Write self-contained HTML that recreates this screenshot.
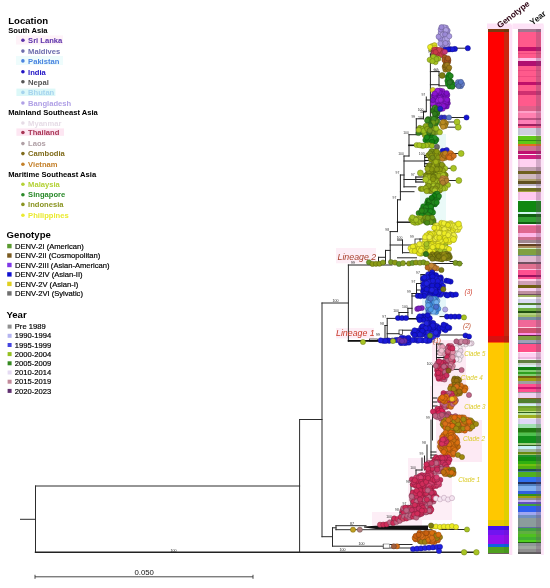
<!DOCTYPE html>
<html><head><meta charset="utf-8"><style>
html,body{margin:0;padding:0;background:#fff;}
svg{display:block;filter:blur(0.3px);}
text{font-family:"Liberation Sans",sans-serif;}
</style></head><body>
<svg width="550" height="588" viewBox="0 0 550 588">
<rect width="550" height="588" fill="#fff"/>
<rect x="487.0" y="23.5" width="24.5" height="5.5" fill="#fde2f6" />
<rect x="512.5" y="23.5" width="31.0" height="5.5" fill="#fde2f6" />
<rect x="509.1" y="25.0" width="3.2" height="530.0" fill="#fde0f6" />
<rect x="540.8" y="25.0" width="3.0" height="530.0" fill="#fde6f8" />
<rect x="432.0" y="340.0" width="34.0" height="46.0" fill="#fdeaf4" />
<rect x="430.0" y="386.0" width="40.0" height="34.0" fill="#fdeef6" />
<rect x="436.0" y="420.0" width="46.0" height="42.0" fill="#fdeaf4" />
<rect x="408.0" y="458.0" width="44.0" height="62.0" fill="#fdeef6" />
<rect x="372.0" y="512.0" width="50.0" height="18.0" fill="#fdeef6" />
<rect x="336.0" y="248.0" width="40.0" height="15.3" fill="#fdeef6" />
<rect x="336.0" y="328.0" width="38.0" height="10.4" fill="#fdeef6" />
<rect x="16.4" y="88.6" width="39.0" height="7.4" fill="#dcf8f8" />
<rect x="16.4" y="128.4" width="47.6" height="7.4" fill="#fde6f2" />
<rect x="16.0" y="56.0" width="47.0" height="9.0" fill="#eefcfc" />
<rect x="16.0" y="35.5" width="47.0" height="9.0" fill="#fef2f8" />
<rect x="428.0" y="134.0" width="18.0" height="16.0" fill="#e8f8f6" />
<rect x="420.0" y="188.0" width="26.0" height="32.0" fill="#eafaf8" />
<rect x="422.0" y="296.0" width="24.0" height="20.0" fill="#e4f6fa" />
<g font-family="Liberation Sans, sans-serif">
<text x="8.2" y="23.6" font-size="9.6" fill="#000" font-weight="bold" font-style="normal" text-anchor="start" >Location</text>
<text x="8.2" y="33.3" font-size="7.6" fill="#000" font-weight="bold" font-style="normal" text-anchor="start" >South Asia</text>
<circle cx="22.9" cy="40.2" r="1.8" fill="#5c32aa"/>
<text x="28.1" y="42.95" font-size="7.6" fill="#5c32aa" font-weight="bold" font-style="normal" text-anchor="start" >Sri Lanka</text>
<circle cx="22.9" cy="51.1" r="1.8" fill="#6c6cac"/>
<text x="28.1" y="53.85" font-size="7.6" fill="#6c6cac" font-weight="bold" font-style="normal" text-anchor="start" >Maldives</text>
<circle cx="22.9" cy="60.9" r="1.8" fill="#4a84e0"/>
<text x="28.1" y="63.65" font-size="7.6" fill="#4a84e0" font-weight="bold" font-style="normal" text-anchor="start" >Pakistan</text>
<circle cx="22.9" cy="71.8" r="1.8" fill="#2012c4"/>
<text x="28.1" y="74.55" font-size="7.6" fill="#2012c4" font-weight="bold" font-style="normal" text-anchor="start" >India</text>
<circle cx="22.9" cy="81.8" r="1.8" fill="#555555"/>
<text x="28.1" y="84.55" font-size="7.6" fill="#555555" font-weight="bold" font-style="normal" text-anchor="start" >Nepal</text>
<circle cx="22.9" cy="92.4" r="1.8" fill="#a6d4ee"/>
<text x="28.1" y="95.15" font-size="7.6" fill="#a6d4ee" font-weight="bold" font-style="normal" text-anchor="start" >Bhutan</text>
<circle cx="22.9" cy="103.0" r="1.8" fill="#b0a0e6"/>
<text x="28.1" y="105.75" font-size="7.6" fill="#b0a0e6" font-weight="bold" font-style="normal" text-anchor="start" >Bangladesh</text>
<text x="8.2" y="114.8" font-size="7.6" fill="#000" font-weight="bold" font-style="normal" text-anchor="start" >Mainland Southeast Asia</text>
<circle cx="22.9" cy="123.0" r="1.8" fill="#e6dce6"/>
<text x="28.1" y="125.75" font-size="7.6" fill="#e6dce6" font-weight="bold" font-style="normal" text-anchor="start" >Myanmar</text>
<circle cx="22.9" cy="132.5" r="1.8" fill="#a83454"/>
<text x="28.1" y="135.25" font-size="7.6" fill="#a83454" font-weight="bold" font-style="normal" text-anchor="start" >Thailand</text>
<circle cx="22.9" cy="143.6" r="1.8" fill="#b0a0a6"/>
<text x="28.1" y="146.35" font-size="7.6" fill="#b0a0a6" font-weight="bold" font-style="normal" text-anchor="start" >Laos</text>
<circle cx="22.9" cy="153.6" r="1.8" fill="#806c1c"/>
<text x="28.1" y="156.35" font-size="7.6" fill="#806c1c" font-weight="bold" font-style="normal" text-anchor="start" >Cambodia</text>
<circle cx="22.9" cy="164.3" r="1.8" fill="#c4802a"/>
<text x="28.1" y="167.05" font-size="7.6" fill="#c4802a" font-weight="bold" font-style="normal" text-anchor="start" >Vietnam</text>
<text x="8.2" y="176.6" font-size="7.6" fill="#000" font-weight="bold" font-style="normal" text-anchor="start" >Maritime Southeast Asia</text>
<circle cx="22.9" cy="184.3" r="1.8" fill="#b4d236"/>
<text x="28.1" y="187.05" font-size="7.6" fill="#b4d236" font-weight="bold" font-style="normal" text-anchor="start" >Malaysia</text>
<circle cx="22.9" cy="194.7" r="1.8" fill="#2a8a2a"/>
<text x="28.1" y="197.45" font-size="7.6" fill="#2a8a2a" font-weight="bold" font-style="normal" text-anchor="start" >Singapore</text>
<circle cx="22.9" cy="204.4" r="1.8" fill="#8a9422"/>
<text x="28.1" y="207.15" font-size="7.6" fill="#8a9422" font-weight="bold" font-style="normal" text-anchor="start" >Indonesia</text>
<circle cx="22.9" cy="215.3" r="1.8" fill="#eaea30"/>
<text x="28.1" y="218.05" font-size="7.6" fill="#eaea30" font-weight="bold" font-style="normal" text-anchor="start" >Philippines</text>
<text x="6.6" y="238" font-size="9.6" fill="#000" font-weight="bold" font-style="normal" text-anchor="start" >Genotype</text>
<rect x="7.2" y="243.9" width="4.4" height="4.4" fill="#5a9a30" />
<text x="15" y="248.79999999999998" font-size="7.6" fill="#000" font-weight="normal" font-style="normal" text-anchor="start" stroke="#000" stroke-width="0.18">DENV-2I (American)</text>
<rect x="7.2" y="253.3" width="4.4" height="4.4" fill="#7a5a20" />
<text x="15" y="258.25" font-size="7.6" fill="#000" font-weight="normal" font-style="normal" text-anchor="start" stroke="#000" stroke-width="0.18">DENV-2II (Cosmopolitan)</text>
<rect x="7.2" y="262.8" width="4.4" height="4.4" fill="#8038e8" />
<text x="15" y="267.7" font-size="7.6" fill="#000" font-weight="normal" font-style="normal" text-anchor="start" stroke="#000" stroke-width="0.18">DENV-2III (Asian-American)</text>
<rect x="7.2" y="272.2" width="4.4" height="4.4" fill="#1010d0" />
<text x="15" y="277.15" font-size="7.6" fill="#000" font-weight="normal" font-style="normal" text-anchor="start" stroke="#000" stroke-width="0.18">DENV-2IV (Asian-II)</text>
<rect x="7.2" y="281.7" width="4.4" height="4.4" fill="#e0d020" />
<text x="15" y="286.59999999999997" font-size="7.6" fill="#000" font-weight="normal" font-style="normal" text-anchor="start" stroke="#000" stroke-width="0.18">DENV-2V (Asian-I)</text>
<rect x="7.2" y="291.2" width="4.4" height="4.4" fill="#707070" />
<text x="15" y="296.05" font-size="7.6" fill="#000" font-weight="normal" font-style="normal" text-anchor="start" stroke="#000" stroke-width="0.18">DENV-2VI (Sylvatic)</text>
<text x="6.4" y="318" font-size="9.6" fill="#000" font-weight="bold" font-style="normal" text-anchor="start" >Year</text>
<rect x="7.6" y="324.6" width="4.0" height="4.0" fill="#909090" />
<text x="14.8" y="329.3" font-size="7.6" fill="#000" font-weight="normal" font-style="normal" text-anchor="start" stroke="#000" stroke-width="0.18">Pre 1989</text>
<rect x="7.6" y="333.8" width="4.0" height="4.0" fill="#b4b4f0" />
<text x="14.8" y="338.48" font-size="7.6" fill="#000" font-weight="normal" font-style="normal" text-anchor="start" stroke="#000" stroke-width="0.18">1990-1994</text>
<rect x="7.6" y="343.0" width="4.0" height="4.0" fill="#4444e0" />
<text x="14.8" y="347.66" font-size="7.6" fill="#000" font-weight="normal" font-style="normal" text-anchor="start" stroke="#000" stroke-width="0.18">1995-1999</text>
<rect x="7.6" y="352.1" width="4.0" height="4.0" fill="#94c020" />
<text x="14.8" y="356.84000000000003" font-size="7.6" fill="#000" font-weight="normal" font-style="normal" text-anchor="start" stroke="#000" stroke-width="0.18">2000-2004</text>
<rect x="7.6" y="361.3" width="4.0" height="4.0" fill="#348a20" />
<text x="14.8" y="366.02000000000004" font-size="7.6" fill="#000" font-weight="normal" font-style="normal" text-anchor="start" stroke="#000" stroke-width="0.18">2005-2009</text>
<rect x="7.6" y="370.5" width="4.0" height="4.0" fill="#e4daf2" />
<text x="14.8" y="375.2" font-size="7.6" fill="#000" font-weight="normal" font-style="normal" text-anchor="start" stroke="#000" stroke-width="0.18">2010-2014</text>
<rect x="7.6" y="379.7" width="4.0" height="4.0" fill="#c28a9a" />
<text x="14.8" y="384.38" font-size="7.6" fill="#000" font-weight="normal" font-style="normal" text-anchor="start" stroke="#000" stroke-width="0.18">2015-2019</text>
<rect x="7.6" y="388.9" width="4.0" height="4.0" fill="#603070" />
<text x="14.8" y="393.56" font-size="7.6" fill="#000" font-weight="normal" font-style="normal" text-anchor="start" stroke="#000" stroke-width="0.18">2020-2023</text>
</g>
<g stroke-linecap="square">
<line x1="20.5" y1="519.3" x2="35.5" y2="519.3" stroke="#2c2c2c" stroke-width="1.0"/>
<line x1="35.5" y1="486.0" x2="35.5" y2="552.3" stroke="#2c2c2c" stroke-width="1.0"/>
<line x1="35.5" y1="486.0" x2="299.6" y2="486.0" stroke="#2c2c2c" stroke-width="1.0"/>
<line x1="35.5" y1="552.3" x2="476.0" y2="552.3" stroke="#222" stroke-width="1.4"/>
<line x1="299.6" y1="419.5" x2="299.6" y2="552.3" stroke="#2c2c2c" stroke-width="1.0"/>
<line x1="299.6" y1="419.5" x2="322.0" y2="419.5" stroke="#2c2c2c" stroke-width="1.0"/>
<line x1="322.0" y1="303.0" x2="322.0" y2="536.7" stroke="#2c2c2c" stroke-width="1.0"/>
<line x1="322.0" y1="303.0" x2="348.4" y2="303.0" stroke="#2c2c2c" stroke-width="1.0"/>
<line x1="348.4" y1="265.0" x2="348.4" y2="341.3" stroke="#2c2c2c" stroke-width="1.0"/>
<line x1="348.4" y1="265.0" x2="392.0" y2="265.0" stroke="#222" stroke-width="1.1"/>
<line x1="348.4" y1="341.3" x2="382.0" y2="341.3" stroke="#222" stroke-width="1.1"/>
<line x1="322.0" y1="536.7" x2="332.5" y2="536.7" stroke="#2c2c2c" stroke-width="1.0"/>
<line x1="332.5" y1="527.8" x2="332.5" y2="546.2" stroke="#2c2c2c" stroke-width="1.0"/>
<line x1="332.5" y1="527.8" x2="336.0" y2="527.8" stroke="#2c2c2c" stroke-width="1.0"/>
<line x1="336.0" y1="525.7" x2="336.0" y2="529.7" stroke="#2c2c2c" stroke-width="1.0"/>
<line x1="336.0" y1="525.7" x2="366.0" y2="525.7" stroke="#2c2c2c" stroke-width="1.0"/>
<line x1="336.0" y1="529.7" x2="432.0" y2="529.7" stroke="#2c2c2c" stroke-width="1.0"/>
<polygon points="364,526.6 376,525.8 428,525.4 428,530 376,529 364,527.6" fill="#111"/>
<line x1="332.5" y1="546.2" x2="383.4" y2="546.2" stroke="#2c2c2c" stroke-width="1.0"/>
<line x1="383.4" y1="544.5" x2="383.4" y2="548.0" stroke="#2c2c2c" stroke-width="1.0"/>
<line x1="383.4" y1="544.5" x2="412.0" y2="544.5" stroke="#2c2c2c" stroke-width="1.0"/>
<line x1="383.4" y1="548.0" x2="412.0" y2="548.0" stroke="#2c2c2c" stroke-width="1.0"/>
<rect x="383.5" y="544" width="6" height="4" fill="#fff" stroke="#555" stroke-width="0.5"/>
<line x1="392.0" y1="263.5" x2="462.0" y2="263.5" stroke="#262626" stroke-width="1.0"/>
<line x1="390.2" y1="231.6" x2="390.2" y2="263.5" stroke="#262626" stroke-width="1.0"/>
<line x1="390.2" y1="231.6" x2="397.5" y2="231.6" stroke="#262626" stroke-width="1.0"/>
<line x1="397.5" y1="199.8" x2="397.5" y2="231.6" stroke="#262626" stroke-width="1.0"/>
<line x1="397.5" y1="199.8" x2="400.4" y2="199.8" stroke="#262626" stroke-width="1.0"/>
<line x1="397.5" y1="222.2" x2="416.0" y2="222.2" stroke="#111" stroke-width="1.4"/>
<line x1="390.2" y1="245.0" x2="412.0" y2="245.0" stroke="#262626" stroke-width="1.0"/>
<line x1="400.4" y1="175.0" x2="400.4" y2="199.8" stroke="#262626" stroke-width="1.0"/>
<line x1="400.4" y1="175.0" x2="404.0" y2="175.0" stroke="#262626" stroke-width="1.0"/>
<line x1="400.4" y1="191.7" x2="414.0" y2="191.7" stroke="#262626" stroke-width="1.0"/>
<line x1="404.0" y1="156.0" x2="404.0" y2="187.0" stroke="#262626" stroke-width="1.0"/>
<line x1="404.0" y1="156.0" x2="409.0" y2="156.0" stroke="#262626" stroke-width="1.0"/>
<line x1="404.0" y1="186.8" x2="416.0" y2="186.8" stroke="#262626" stroke-width="1.0"/>
<line x1="409.0" y1="134.7" x2="409.0" y2="156.0" stroke="#262626" stroke-width="1.0"/>
<line x1="409.0" y1="134.7" x2="416.3" y2="134.7" stroke="#262626" stroke-width="1.0"/>
<line x1="409.0" y1="145.3" x2="416.0" y2="145.3" stroke="#111" stroke-width="1.6"/>
<line x1="404.0" y1="161.0" x2="424.7" y2="161.0" stroke="#262626" stroke-width="1.0"/>
<line x1="416.3" y1="118.8" x2="416.3" y2="134.7" stroke="#262626" stroke-width="1.0"/>
<line x1="416.3" y1="118.8" x2="423.5" y2="118.8" stroke="#262626" stroke-width="1.0"/>
<line x1="416.3" y1="128.0" x2="420.0" y2="128.0" stroke="#262626" stroke-width="1.0"/>
<line x1="423.5" y1="111.6" x2="423.5" y2="118.8" stroke="#262626" stroke-width="1.0"/>
<line x1="423.5" y1="111.6" x2="426.3" y2="111.6" stroke="#262626" stroke-width="1.0"/>
<line x1="426.3" y1="97.0" x2="426.3" y2="111.6" stroke="#262626" stroke-width="1.0"/>
<line x1="385.5" y1="250.4" x2="385.5" y2="263.5" stroke="#262626" stroke-width="1.0"/>
<line x1="385.5" y1="250.4" x2="390.2" y2="250.4" stroke="#262626" stroke-width="1.0"/>
<line x1="378.5" y1="257.3" x2="378.5" y2="263.5" stroke="#262626" stroke-width="1.0"/>
<line x1="378.5" y1="257.3" x2="385.5" y2="257.3" stroke="#262626" stroke-width="1.0"/>
<line x1="402.5" y1="252.7" x2="410.0" y2="252.7" stroke="#262626" stroke-width="1.0"/>
<line x1="397.5" y1="257.8" x2="416.5" y2="257.8" stroke="#262626" stroke-width="1.0"/>
<line x1="402.5" y1="240.0" x2="402.5" y2="253.0" stroke="#262626" stroke-width="1.0"/>
<line x1="397.5" y1="240.0" x2="402.5" y2="240.0" stroke="#262626" stroke-width="1.0"/>
<rect x="415" y="239" width="5" height="5.5" fill="none" stroke="#262626" stroke-width="0.8"/>
<line x1="420.0" y1="239.0" x2="425.0" y2="239.0" stroke="#262626" stroke-width="1.0"/>
<line x1="420.0" y1="244.5" x2="428.0" y2="244.5" stroke="#262626" stroke-width="1.0"/>
<line x1="424.7" y1="155.5" x2="431.0" y2="155.5" stroke="#111" stroke-width="1.1"/>
<line x1="424.7" y1="157.4" x2="431.0" y2="157.4" stroke="#111" stroke-width="1.1"/>
<line x1="424.7" y1="160.5" x2="431.0" y2="160.5" stroke="#111" stroke-width="1.1"/>
<line x1="424.7" y1="163.7" x2="431.0" y2="163.7" stroke="#111" stroke-width="1.1"/>
<line x1="424.7" y1="166.5" x2="431.0" y2="166.5" stroke="#111" stroke-width="1.1"/>
<line x1="424.7" y1="155.5" x2="424.7" y2="166.5" stroke="#262626" stroke-width="1.0"/>
<line x1="415.8" y1="177.0" x2="423.5" y2="177.0" stroke="#111" stroke-width="1.1"/>
<line x1="415.8" y1="179.5" x2="423.5" y2="179.5" stroke="#111" stroke-width="1.1"/>
<line x1="415.8" y1="182.0" x2="423.5" y2="182.0" stroke="#111" stroke-width="1.1"/>
<line x1="415.8" y1="177.0" x2="415.8" y2="182.0" stroke="#262626" stroke-width="1.0"/>
<line x1="404.0" y1="179.5" x2="415.8" y2="179.5" stroke="#262626" stroke-width="1.0"/>
<line x1="430.4" y1="54.0" x2="430.4" y2="117.5" stroke="#262626" stroke-width="1.0"/>
<line x1="426.3" y1="100.0" x2="430.4" y2="100.0" stroke="#262626" stroke-width="1.0"/>
<line x1="430.4" y1="117.5" x2="466.5" y2="117.5" stroke="#262626" stroke-width="1.0"/>
<line x1="439.0" y1="71.6" x2="439.0" y2="85.8" stroke="#262626" stroke-width="1.0"/>
<line x1="430.4" y1="71.6" x2="439.0" y2="71.6" stroke="#262626" stroke-width="1.0"/>
<line x1="430.4" y1="84.7" x2="439.0" y2="84.7" stroke="#262626" stroke-width="1.0"/>
<line x1="439.0" y1="85.8" x2="456.0" y2="85.8" stroke="#262626" stroke-width="1.0"/>
<line x1="439.0" y1="75.4" x2="444.0" y2="75.4" stroke="#262626" stroke-width="1.0"/>
<line x1="430.4" y1="54.0" x2="434.0" y2="54.0" stroke="#262626" stroke-width="1.0"/>
<line x1="450.0" y1="48.2" x2="467.8" y2="48.2" stroke="#262626" stroke-width="1.0"/>
<line x1="448.0" y1="122.0" x2="457.0" y2="122.0" stroke="#262626" stroke-width="1.0"/>
<line x1="448.0" y1="127.2" x2="458.2" y2="127.2" stroke="#262626" stroke-width="1.0"/>
<line x1="450.0" y1="153.5" x2="461.1" y2="153.5" stroke="#262626" stroke-width="1.0"/>
<line x1="446.0" y1="168.3" x2="453.5" y2="168.3" stroke="#262626" stroke-width="1.0"/>
<line x1="446.0" y1="180.5" x2="458.8" y2="180.5" stroke="#262626" stroke-width="1.0"/>
<line x1="450.0" y1="224.0" x2="458.5" y2="224.0" stroke="#262626" stroke-width="1.0"/>
<line x1="450.0" y1="261.5" x2="459.8" y2="261.5" stroke="#262626" stroke-width="1.0"/>
<line x1="421.0" y1="274.5" x2="421.0" y2="283.5" stroke="#262626" stroke-width="1.0"/>
<line x1="421.0" y1="274.5" x2="425.0" y2="274.5" stroke="#262626" stroke-width="1.0"/>
<line x1="416.5" y1="283.5" x2="421.0" y2="283.5" stroke="#262626" stroke-width="1.0"/>
<line x1="416.5" y1="283.5" x2="416.5" y2="296.0" stroke="#262626" stroke-width="1.0"/>
<line x1="412.0" y1="296.0" x2="416.5" y2="296.0" stroke="#262626" stroke-width="1.0"/>
<line x1="416.5" y1="290.0" x2="423.0" y2="290.0" stroke="#262626" stroke-width="1.0"/>
<line x1="412.0" y1="293.5" x2="412.0" y2="313.6" stroke="#262626" stroke-width="1.0"/>
<line x1="412.0" y1="293.5" x2="420.0" y2="293.5" stroke="#262626" stroke-width="1.0"/>
<line x1="407.9" y1="308.3" x2="407.9" y2="317.8" stroke="#262626" stroke-width="1.0"/>
<line x1="407.9" y1="308.3" x2="412.0" y2="308.3" stroke="#262626" stroke-width="1.0"/>
<line x1="399.0" y1="312.5" x2="407.9" y2="312.5" stroke="#262626" stroke-width="1.0"/>
<line x1="399.0" y1="312.5" x2="399.0" y2="318.4" stroke="#262626" stroke-width="1.0"/>
<line x1="387.2" y1="318.4" x2="399.0" y2="318.4" stroke="#262626" stroke-width="1.0"/>
<line x1="399.0" y1="318.8" x2="430.0" y2="318.8" stroke="#111" stroke-width="1.6"/>
<line x1="387.2" y1="318.4" x2="387.2" y2="338.5" stroke="#262626" stroke-width="1.0"/>
<line x1="385.0" y1="325.5" x2="385.0" y2="340.2" stroke="#262626" stroke-width="1.0"/>
<line x1="385.0" y1="325.5" x2="387.2" y2="325.5" stroke="#262626" stroke-width="1.0"/>
<line x1="387.2" y1="333.7" x2="399.0" y2="333.7" stroke="#262626" stroke-width="1.0"/>
<rect x="399" y="330" width="3.5" height="4.3" fill="none" stroke="#262626" stroke-width="0.7"/>
<line x1="402.5" y1="330.2" x2="420.0" y2="330.2" stroke="#262626" stroke-width="1.0"/>
<line x1="440.0" y1="316.6" x2="464.0" y2="316.6" stroke="#262626" stroke-width="1.0"/>
<line x1="438.0" y1="335.0" x2="465.5" y2="335.0" stroke="#262626" stroke-width="1.0"/>
<rect x="369.5" y="339" width="8" height="2.4" fill="none" stroke="#262626" stroke-width="0.7"/>
<line x1="348.4" y1="340.6" x2="430.0" y2="340.6" stroke="#111" stroke-width="1.3"/>
<line x1="392.0" y1="519.0" x2="392.0" y2="525.0" stroke="#262626" stroke-width="1.0"/>
<line x1="392.0" y1="519.0" x2="400.0" y2="519.0" stroke="#262626" stroke-width="1.0"/>
<line x1="400.0" y1="512.0" x2="400.0" y2="519.0" stroke="#262626" stroke-width="1.0"/>
<line x1="400.0" y1="512.0" x2="407.5" y2="512.0" stroke="#262626" stroke-width="1.0"/>
<line x1="407.5" y1="505.6" x2="407.5" y2="512.0" stroke="#262626" stroke-width="1.0"/>
<rect x="406" y="505.6" width="4" height="6" fill="none" stroke="#262626" stroke-width="0.7"/>
<line x1="411.0" y1="484.0" x2="411.0" y2="505.0" stroke="#262626" stroke-width="1.0"/>
<line x1="411.0" y1="484.0" x2="416.0" y2="484.0" stroke="#262626" stroke-width="1.0"/>
<line x1="416.0" y1="470.0" x2="416.0" y2="484.0" stroke="#262626" stroke-width="1.0"/>
<line x1="416.0" y1="470.0" x2="422.0" y2="470.0" stroke="#262626" stroke-width="1.0"/>
<line x1="422.0" y1="458.0" x2="422.0" y2="470.0" stroke="#262626" stroke-width="1.0"/>
<line x1="424.5" y1="456.0" x2="424.5" y2="470.0" stroke="#262626" stroke-width="1.0"/>
<line x1="427.0" y1="445.0" x2="427.0" y2="465.0" stroke="#262626" stroke-width="1.0"/>
<line x1="431.0" y1="420.0" x2="431.0" y2="458.0" stroke="#262626" stroke-width="1.0"/>
<line x1="432.5" y1="366.0" x2="432.5" y2="440.0" stroke="#262626" stroke-width="1.0"/>
<line x1="436.5" y1="344.0" x2="436.5" y2="366.0" stroke="#262626" stroke-width="1.0"/>
<line x1="432.5" y1="366.0" x2="436.5" y2="366.0" stroke="#262626" stroke-width="1.0"/>
<line x1="436.5" y1="344.0" x2="442.9" y2="344.0" stroke="#1a1a1a" stroke-width="1.0"/>
<line x1="436.5" y1="347.5" x2="441.9" y2="347.5" stroke="#1a1a1a" stroke-width="1.0"/>
<line x1="436.5" y1="351.0" x2="444.9" y2="351.0" stroke="#1a1a1a" stroke-width="1.0"/>
<line x1="436.5" y1="354.0" x2="441.4" y2="354.0" stroke="#1a1a1a" stroke-width="1.0"/>
<line x1="436.5" y1="357.5" x2="444.2" y2="357.5" stroke="#1a1a1a" stroke-width="1.0"/>
<line x1="436.5" y1="361.0" x2="443.2" y2="361.0" stroke="#1a1a1a" stroke-width="1.0"/>
<line x1="436.5" y1="364.0" x2="441.3" y2="364.0" stroke="#1a1a1a" stroke-width="1.0"/>
<line x1="441.0" y1="344.0" x2="441.0" y2="352.0" stroke="#262626" stroke-width="1.0"/>
<line x1="444.0" y1="356.0" x2="444.0" y2="364.0" stroke="#262626" stroke-width="1.0"/>
<line x1="447.0" y1="369.4" x2="461.0" y2="369.4" stroke="#262626" stroke-width="1.0"/>
<line x1="432.7" y1="398.0" x2="437.0" y2="398.0" stroke="#1a1a1a" stroke-width="1.0"/>
<line x1="432.7" y1="402.0" x2="437.0" y2="402.0" stroke="#1a1a1a" stroke-width="1.0"/>
<line x1="432.7" y1="406.0" x2="437.0" y2="406.0" stroke="#1a1a1a" stroke-width="1.0"/>
<line x1="431.0" y1="452.0" x2="436.0" y2="452.0" stroke="#1a1a1a" stroke-width="1.0"/>
<line x1="431.0" y1="455.0" x2="436.0" y2="455.0" stroke="#1a1a1a" stroke-width="1.0"/>
<line x1="431.0" y1="458.0" x2="436.0" y2="458.0" stroke="#1a1a1a" stroke-width="1.0"/>
<line x1="440.0" y1="529.5" x2="467.0" y2="529.5" stroke="#262626" stroke-width="1.0"/>
</g>
<g>
<circle cx="446.8" cy="41.2" r="2.6" fill="#a390dc" stroke="#615684" stroke-width="0.45"/>
<circle cx="442.2" cy="45.2" r="2.6" fill="#9a88d6" stroke="#5c5180" stroke-width="0.45"/>
<circle cx="444.0" cy="40.2" r="2.6" fill="#b0a0e4" stroke="#696088" stroke-width="0.45"/>
<circle cx="444.1" cy="36.4" r="2.6" fill="#a898e0" stroke="#645b86" stroke-width="0.45"/>
<circle cx="443.7" cy="31.7" r="2.6" fill="#a390dc" stroke="#615684" stroke-width="0.45"/>
<circle cx="442.5" cy="43.3" r="2.6" fill="#9a88d6" stroke="#5c5180" stroke-width="0.45"/>
<circle cx="447.1" cy="33.8" r="2.6" fill="#b0a0e4" stroke="#696088" stroke-width="0.45"/>
<circle cx="440.7" cy="33.9" r="2.6" fill="#a898e0" stroke="#645b86" stroke-width="0.45"/>
<circle cx="445.9" cy="27.7" r="2.6" fill="#a390dc" stroke="#615684" stroke-width="0.45"/>
<circle cx="444.2" cy="44.6" r="2.6" fill="#9a88d6" stroke="#5c5180" stroke-width="0.45"/>
<circle cx="440.8" cy="32.6" r="2.6" fill="#b0a0e4" stroke="#696088" stroke-width="0.45"/>
<circle cx="447.7" cy="43.5" r="2.6" fill="#a898e0" stroke="#645b86" stroke-width="0.45"/>
<circle cx="446.2" cy="36.9" r="2.6" fill="#a390dc" stroke="#615684" stroke-width="0.45"/>
<circle cx="443.3" cy="39.0" r="2.6" fill="#9a88d6" stroke="#5c5180" stroke-width="0.45"/>
<circle cx="441.9" cy="40.4" r="2.6" fill="#b0a0e4" stroke="#696088" stroke-width="0.45"/>
<circle cx="442.3" cy="30.1" r="2.6" fill="#a898e0" stroke="#645b86" stroke-width="0.45"/>
<circle cx="445.9" cy="31.9" r="2.6" fill="#a390dc" stroke="#615684" stroke-width="0.45"/>
<circle cx="447.6" cy="30.6" r="2.6" fill="#9a88d6" stroke="#5c5180" stroke-width="0.45"/>
<circle cx="443.9" cy="27.2" r="2.6" fill="#b0a0e4" stroke="#696088" stroke-width="0.45"/>
<circle cx="441.4" cy="36.3" r="2.6" fill="#a898e0" stroke="#645b86" stroke-width="0.45"/>
<circle cx="440.7" cy="29.5" r="2.6" fill="#a390dc" stroke="#615684" stroke-width="0.45"/>
<circle cx="440.4" cy="38.7" r="2.6" fill="#9a88d6" stroke="#5c5180" stroke-width="0.45"/>
<circle cx="445.9" cy="30.1" r="2.6" fill="#b0a0e4" stroke="#696088" stroke-width="0.45"/>
<circle cx="440.4" cy="43.5" r="2.6" fill="#a898e0" stroke="#645b86" stroke-width="0.45"/>
<circle cx="438.6" cy="36.7" r="2.6" fill="#a390dc" stroke="#615684" stroke-width="0.45"/>
<circle cx="441.5" cy="27.2" r="2.6" fill="#9a88d6" stroke="#5c5180" stroke-width="0.45"/>
<circle cx="442.9" cy="34.5" r="2.6" fill="#b0a0e4" stroke="#696088" stroke-width="0.45"/>
<circle cx="444.9" cy="39.3" r="2.6" fill="#a898e0" stroke="#645b86" stroke-width="0.45"/>
<circle cx="446.8" cy="45.4" r="2.6" fill="#a390dc" stroke="#615684" stroke-width="0.45"/>
<circle cx="445.1" cy="34.4" r="2.6" fill="#9a88d6" stroke="#5c5180" stroke-width="0.45"/>
<circle cx="447.2" cy="38.6" r="2.6" fill="#b0a0e4" stroke="#696088" stroke-width="0.45"/>
<circle cx="449.3" cy="36.2" r="2.6" fill="#a898e0" stroke="#645b86" stroke-width="0.45"/>
<circle cx="445.4" cy="43.1" r="2.6" fill="#a390dc" stroke="#615684" stroke-width="0.45"/>
<circle cx="432.5" cy="47.7" r="2.6" fill="#ecec22" stroke="#8d8d14" stroke-width="0.45"/>
<circle cx="432.1" cy="46.0" r="2.6" fill="#d8d828" stroke="#818118" stroke-width="0.45"/>
<circle cx="431.3" cy="49.4" r="2.6" fill="#ecec22" stroke="#8d8d14" stroke-width="0.45"/>
<circle cx="434.5" cy="45.2" r="2.6" fill="#d8d828" stroke="#818118" stroke-width="0.45"/>
<circle cx="430.1" cy="47.0" r="2.6" fill="#ecec22" stroke="#8d8d14" stroke-width="0.45"/>
<circle cx="433.7" cy="49.7" r="2.6" fill="#d8d828" stroke="#818118" stroke-width="0.45"/>
<circle cx="434.8" cy="47.9" r="2.6" fill="#ecec22" stroke="#8d8d14" stroke-width="0.45"/>
<circle cx="454.9" cy="48.9" r="2.6" fill="#1414d4" stroke="#0c0c7f" stroke-width="0.45"/>
<circle cx="450.1" cy="49.2" r="2.6" fill="#1a1ad8" stroke="#0f0f81" stroke-width="0.45"/>
<circle cx="444.9" cy="49.8" r="2.6" fill="#1414d4" stroke="#0c0c7f" stroke-width="0.45"/>
<circle cx="452.3" cy="49.3" r="2.6" fill="#1a1ad8" stroke="#0f0f81" stroke-width="0.45"/>
<circle cx="448.2" cy="49.5" r="2.6" fill="#1414d4" stroke="#0c0c7f" stroke-width="0.45"/>
<circle cx="467.8" cy="48.2" r="2.6" fill="#1414d4" stroke="#0c0c7f" stroke-width="0.45"/>
<circle cx="441.5" cy="50.6" r="2.6" fill="#c83a4c" stroke="#78222d" stroke-width="0.45"/>
<circle cx="436.5" cy="49.7" r="2.6" fill="#d04050" stroke="#7c2630" stroke-width="0.45"/>
<circle cx="438.3" cy="51.8" r="2.6" fill="#c83848" stroke="#78212b" stroke-width="0.45"/>
<circle cx="441.5" cy="52.9" r="2.6" fill="#c83a4c" stroke="#78222d" stroke-width="0.45"/>
<circle cx="437.0" cy="54.2" r="2.6" fill="#d04050" stroke="#7c2630" stroke-width="0.45"/>
<circle cx="434.1" cy="54.0" r="2.6" fill="#c83848" stroke="#78212b" stroke-width="0.45"/>
<circle cx="440.2" cy="54.0" r="2.6" fill="#c83a4c" stroke="#78222d" stroke-width="0.45"/>
<circle cx="433.7" cy="51.8" r="2.6" fill="#d04050" stroke="#7c2630" stroke-width="0.45"/>
<circle cx="434.5" cy="49.5" r="2.6" fill="#c83848" stroke="#78212b" stroke-width="0.45"/>
<circle cx="441.5" cy="55.1" r="2.6" fill="#c83a4c" stroke="#78222d" stroke-width="0.45"/>
<circle cx="439.2" cy="49.9" r="2.6" fill="#d04050" stroke="#7c2630" stroke-width="0.45"/>
<circle cx="435.6" cy="52.1" r="2.6" fill="#c83848" stroke="#78212b" stroke-width="0.45"/>
<circle cx="443.4" cy="52.3" r="2.6" fill="#c83a4c" stroke="#78222d" stroke-width="0.45"/>
<circle cx="444.9" cy="51.8" r="2.6" fill="#c83878" stroke="#782148" stroke-width="0.45"/>
<circle cx="438.3" cy="58.7" r="2.6" fill="#a8c424" stroke="#647515" stroke-width="0.45"/>
<circle cx="434.4" cy="58.9" r="2.6" fill="#98b820" stroke="#5b6e13" stroke-width="0.45"/>
<circle cx="432.0" cy="59.7" r="2.6" fill="#a0c020" stroke="#607313" stroke-width="0.45"/>
<circle cx="435.5" cy="62.1" r="2.6" fill="#a8c424" stroke="#647515" stroke-width="0.45"/>
<circle cx="434.8" cy="57.5" r="2.6" fill="#98b820" stroke="#5b6e13" stroke-width="0.45"/>
<circle cx="433.2" cy="56.9" r="2.6" fill="#a0c020" stroke="#607313" stroke-width="0.45"/>
<circle cx="429.7" cy="59.8" r="2.6" fill="#a8c424" stroke="#647515" stroke-width="0.45"/>
<circle cx="436.5" cy="59.1" r="2.6" fill="#98b820" stroke="#5b6e13" stroke-width="0.45"/>
<circle cx="432.4" cy="61.2" r="2.6" fill="#a0c020" stroke="#607313" stroke-width="0.45"/>
<circle cx="445.9" cy="62.5" r="2.6" fill="#a85a20" stroke="#643613" stroke-width="0.45"/>
<circle cx="448.1" cy="62.1" r="2.6" fill="#b06020" stroke="#693913" stroke-width="0.45"/>
<circle cx="448.4" cy="60.2" r="2.6" fill="#a05020" stroke="#603013" stroke-width="0.45"/>
<circle cx="444.8" cy="57.4" r="2.6" fill="#a85a20" stroke="#643613" stroke-width="0.45"/>
<circle cx="444.5" cy="60.0" r="2.6" fill="#b06020" stroke="#693913" stroke-width="0.45"/>
<circle cx="446.7" cy="60.4" r="2.6" fill="#a05020" stroke="#603013" stroke-width="0.45"/>
<circle cx="447.9" cy="58.3" r="2.6" fill="#a85a20" stroke="#643613" stroke-width="0.45"/>
<circle cx="445.4" cy="69.6" r="2.6" fill="#9a7a18" stroke="#5c490e" stroke-width="0.45"/>
<circle cx="446.6" cy="67.5" r="2.6" fill="#8a6a10" stroke="#523f09" stroke-width="0.45"/>
<circle cx="444.7" cy="66.9" r="2.6" fill="#a07a20" stroke="#604913" stroke-width="0.45"/>
<circle cx="448.4" cy="69.2" r="2.6" fill="#9a7a18" stroke="#5c490e" stroke-width="0.45"/>
<circle cx="445.2" cy="65.6" r="2.6" fill="#8a6a10" stroke="#523f09" stroke-width="0.45"/>
<circle cx="447.1" cy="64.9" r="2.6" fill="#a07a20" stroke="#604913" stroke-width="0.45"/>
<circle cx="449.2" cy="67.6" r="2.6" fill="#9a7a18" stroke="#5c490e" stroke-width="0.45"/>
<circle cx="442.2" cy="75.4" r="3.0" fill="#7c7c14" stroke="#4a4a0c" stroke-width="0.45"/>
<circle cx="447.7" cy="76.8" r="2.6" fill="#22881e" stroke="#145112" stroke-width="0.45"/>
<circle cx="449.0" cy="74.7" r="2.6" fill="#1a8a1a" stroke="#0f520f" stroke-width="0.45"/>
<circle cx="448.4" cy="83.4" r="2.6" fill="#22881e" stroke="#145112" stroke-width="0.45"/>
<circle cx="449.9" cy="80.6" r="2.6" fill="#1a8a1a" stroke="#0f520f" stroke-width="0.45"/>
<circle cx="447.4" cy="80.8" r="2.6" fill="#22881e" stroke="#145112" stroke-width="0.45"/>
<circle cx="448.6" cy="78.2" r="2.6" fill="#1a8a1a" stroke="#0f520f" stroke-width="0.45"/>
<circle cx="450.7" cy="75.9" r="2.6" fill="#22881e" stroke="#145112" stroke-width="0.45"/>
<circle cx="451.5" cy="82.2" r="2.6" fill="#22881e" stroke="#145112" stroke-width="0.45"/>
<circle cx="448.0" cy="83.9" r="2.6" fill="#1a8a1a" stroke="#0f520f" stroke-width="0.45"/>
<circle cx="451.4" cy="84.1" r="2.6" fill="#2a7a2a" stroke="#194919" stroke-width="0.45"/>
<circle cx="449.8" cy="86.4" r="2.6" fill="#22881e" stroke="#145112" stroke-width="0.45"/>
<circle cx="453.5" cy="84.8" r="2.6" fill="#1a8a1a" stroke="#0f520f" stroke-width="0.45"/>
<circle cx="449.8" cy="82.4" r="2.6" fill="#2a7a2a" stroke="#194919" stroke-width="0.45"/>
<circle cx="452.3" cy="86.7" r="2.6" fill="#22881e" stroke="#145112" stroke-width="0.45"/>
<circle cx="460.9" cy="86.1" r="2.6" fill="#5a78c8" stroke="#364878" stroke-width="0.45"/>
<circle cx="458.0" cy="82.2" r="2.6" fill="#6a80c8" stroke="#3f4c78" stroke-width="0.45"/>
<circle cx="459.5" cy="84.1" r="2.6" fill="#5a70b0" stroke="#364369" stroke-width="0.45"/>
<circle cx="457.5" cy="84.5" r="2.6" fill="#5a78c8" stroke="#364878" stroke-width="0.45"/>
<circle cx="462.1" cy="84.0" r="2.6" fill="#6a80c8" stroke="#3f4c78" stroke-width="0.45"/>
<circle cx="458.6" cy="86.1" r="2.6" fill="#5a70b0" stroke="#364369" stroke-width="0.45"/>
<circle cx="460.9" cy="81.9" r="2.6" fill="#5a78c8" stroke="#364878" stroke-width="0.45"/>
<circle cx="432.8" cy="90.0" r="2.6" fill="#d8d020" stroke="#817c13" stroke-width="0.45"/>
<circle cx="446.4" cy="96.8" r="2.6" fill="#8a14d0" stroke="#520c7c" stroke-width="0.45"/>
<circle cx="443.3" cy="94.5" r="2.6" fill="#7a10c0" stroke="#490973" stroke-width="0.45"/>
<circle cx="443.4" cy="103.6" r="2.6" fill="#9a20d8" stroke="#5c1381" stroke-width="0.45"/>
<circle cx="438.6" cy="102.1" r="2.6" fill="#8010c8" stroke="#4c0978" stroke-width="0.45"/>
<circle cx="444.3" cy="102.2" r="2.6" fill="#8a14d0" stroke="#520c7c" stroke-width="0.45"/>
<circle cx="440.0" cy="94.9" r="2.6" fill="#7a10c0" stroke="#490973" stroke-width="0.45"/>
<circle cx="434.5" cy="102.1" r="2.6" fill="#9a20d8" stroke="#5c1381" stroke-width="0.45"/>
<circle cx="442.3" cy="93.6" r="2.6" fill="#8010c8" stroke="#4c0978" stroke-width="0.45"/>
<circle cx="443.6" cy="97.7" r="2.6" fill="#8a14d0" stroke="#520c7c" stroke-width="0.45"/>
<circle cx="436.1" cy="102.1" r="2.6" fill="#7a10c0" stroke="#490973" stroke-width="0.45"/>
<circle cx="442.4" cy="91.0" r="2.6" fill="#9a20d8" stroke="#5c1381" stroke-width="0.45"/>
<circle cx="440.8" cy="108.8" r="2.6" fill="#8010c8" stroke="#4c0978" stroke-width="0.45"/>
<circle cx="434.9" cy="103.4" r="2.6" fill="#8a14d0" stroke="#520c7c" stroke-width="0.45"/>
<circle cx="447.8" cy="103.2" r="2.6" fill="#7a10c0" stroke="#490973" stroke-width="0.45"/>
<circle cx="436.0" cy="99.2" r="2.6" fill="#9a20d8" stroke="#5c1381" stroke-width="0.45"/>
<circle cx="447.4" cy="100.1" r="2.6" fill="#8010c8" stroke="#4c0978" stroke-width="0.45"/>
<circle cx="443.8" cy="93.6" r="2.6" fill="#8a14d0" stroke="#520c7c" stroke-width="0.45"/>
<circle cx="441.2" cy="97.0" r="2.6" fill="#7a10c0" stroke="#490973" stroke-width="0.45"/>
<circle cx="436.1" cy="98.0" r="2.6" fill="#9a20d8" stroke="#5c1381" stroke-width="0.45"/>
<circle cx="437.3" cy="103.5" r="2.6" fill="#8010c8" stroke="#4c0978" stroke-width="0.45"/>
<circle cx="438.0" cy="94.9" r="2.6" fill="#8a14d0" stroke="#520c7c" stroke-width="0.45"/>
<circle cx="446.4" cy="101.2" r="2.6" fill="#7a10c0" stroke="#490973" stroke-width="0.45"/>
<circle cx="433.9" cy="105.4" r="2.6" fill="#9a20d8" stroke="#5c1381" stroke-width="0.45"/>
<circle cx="440.2" cy="103.6" r="2.6" fill="#8010c8" stroke="#4c0978" stroke-width="0.45"/>
<circle cx="437.1" cy="106.1" r="2.6" fill="#8a14d0" stroke="#520c7c" stroke-width="0.45"/>
<circle cx="442.4" cy="98.9" r="2.6" fill="#7a10c0" stroke="#490973" stroke-width="0.45"/>
<circle cx="433.0" cy="103.5" r="2.6" fill="#9a20d8" stroke="#5c1381" stroke-width="0.45"/>
<circle cx="445.6" cy="95.1" r="2.6" fill="#8010c8" stroke="#4c0978" stroke-width="0.45"/>
<circle cx="439.9" cy="90.5" r="2.6" fill="#8a14d0" stroke="#520c7c" stroke-width="0.45"/>
<circle cx="433.7" cy="95.6" r="2.6" fill="#7a10c0" stroke="#490973" stroke-width="0.45"/>
<circle cx="442.8" cy="108.6" r="2.6" fill="#9a20d8" stroke="#5c1381" stroke-width="0.45"/>
<circle cx="447.3" cy="94.9" r="2.6" fill="#8010c8" stroke="#4c0978" stroke-width="0.45"/>
<circle cx="439.7" cy="97.9" r="2.6" fill="#8a14d0" stroke="#520c7c" stroke-width="0.45"/>
<circle cx="441.7" cy="101.5" r="2.6" fill="#7a10c0" stroke="#490973" stroke-width="0.45"/>
<circle cx="437.5" cy="100.0" r="2.6" fill="#9a20d8" stroke="#5c1381" stroke-width="0.45"/>
<circle cx="439.5" cy="92.5" r="2.6" fill="#8010c8" stroke="#4c0978" stroke-width="0.45"/>
<circle cx="438.8" cy="106.0" r="2.6" fill="#8a14d0" stroke="#520c7c" stroke-width="0.45"/>
<circle cx="435.0" cy="95.1" r="2.6" fill="#7a10c0" stroke="#490973" stroke-width="0.45"/>
<circle cx="445.8" cy="99.4" r="2.6" fill="#9a20d8" stroke="#5c1381" stroke-width="0.45"/>
<circle cx="434.4" cy="97.3" r="2.6" fill="#8010c8" stroke="#4c0978" stroke-width="0.45"/>
<circle cx="437.8" cy="108.2" r="2.6" fill="#8a14d0" stroke="#520c7c" stroke-width="0.45"/>
<circle cx="436.2" cy="93.3" r="2.6" fill="#7a10c0" stroke="#490973" stroke-width="0.45"/>
<circle cx="437.4" cy="90.7" r="2.6" fill="#9a20d8" stroke="#5c1381" stroke-width="0.45"/>
<circle cx="446.7" cy="106.5" r="2.6" fill="#8010c8" stroke="#4c0978" stroke-width="0.45"/>
<circle cx="434.7" cy="93.5" r="2.6" fill="#8a14d0" stroke="#520c7c" stroke-width="0.45"/>
<circle cx="432.9" cy="100.0" r="2.6" fill="#7a10c0" stroke="#490973" stroke-width="0.45"/>
<circle cx="440.6" cy="99.8" r="2.6" fill="#9a20d8" stroke="#5c1381" stroke-width="0.45"/>
<circle cx="446.6" cy="93.0" r="2.6" fill="#8010c8" stroke="#4c0978" stroke-width="0.45"/>
<circle cx="445.5" cy="103.4" r="2.6" fill="#8a14d0" stroke="#520c7c" stroke-width="0.45"/>
<circle cx="444.7" cy="105.9" r="2.6" fill="#7a10c0" stroke="#490973" stroke-width="0.45"/>
<circle cx="442.4" cy="105.5" r="2.6" fill="#9a20d8" stroke="#5c1381" stroke-width="0.45"/>
<circle cx="447.0" cy="99.7" r="2.6" fill="#8a14d0" stroke="#520c7c" stroke-width="0.45"/>
<circle cx="443.4" cy="106.2" r="2.6" fill="#8a14d0" stroke="#520c7c" stroke-width="0.45"/>
<circle cx="433.7" cy="109.4" r="2.6" fill="#2e7a1a" stroke="#1b490f" stroke-width="0.45"/>
<circle cx="437.1" cy="114.0" r="2.6" fill="#3a8a20" stroke="#225213" stroke-width="0.45"/>
<circle cx="435.5" cy="115.6" r="2.6" fill="#2a7a1a" stroke="#19490f" stroke-width="0.45"/>
<circle cx="433.2" cy="111.0" r="2.6" fill="#2e7a1a" stroke="#1b490f" stroke-width="0.45"/>
<circle cx="436.2" cy="112.0" r="2.6" fill="#3a8a20" stroke="#225213" stroke-width="0.45"/>
<circle cx="437.5" cy="112.0" r="2.6" fill="#2a7a1a" stroke="#19490f" stroke-width="0.45"/>
<circle cx="434.7" cy="113.8" r="2.6" fill="#2e7a1a" stroke="#1b490f" stroke-width="0.45"/>
<circle cx="434.9" cy="107.6" r="2.6" fill="#3a8a20" stroke="#225213" stroke-width="0.45"/>
<circle cx="436.6" cy="109.1" r="2.6" fill="#2a7a1a" stroke="#19490f" stroke-width="0.45"/>
<circle cx="440.2" cy="108.8" r="2.6" fill="#2020c8" stroke="#131378" stroke-width="0.45"/>
<circle cx="441.5" cy="117.5" r="2.6" fill="#3030c0" stroke="#1c1c73" stroke-width="0.45"/>
<circle cx="444.5" cy="117.5" r="2.6" fill="#3030c0" stroke="#1c1c73" stroke-width="0.45"/>
<circle cx="449.0" cy="117.5" r="2.6" fill="#5a78c8" stroke="#364878" stroke-width="0.45"/>
<circle cx="466.5" cy="117.5" r="2.6" fill="#1414d4" stroke="#0c0c7f" stroke-width="0.45"/>
<circle cx="445.9" cy="123.4" r="2.6" fill="#b88a20" stroke="#6e5213" stroke-width="0.45"/>
<circle cx="441.9" cy="124.3" r="2.6" fill="#a88018" stroke="#644c0e" stroke-width="0.45"/>
<circle cx="444.7" cy="124.2" r="2.6" fill="#c09028" stroke="#735618" stroke-width="0.45"/>
<circle cx="444.5" cy="122.1" r="2.6" fill="#b88a20" stroke="#6e5213" stroke-width="0.45"/>
<circle cx="445.1" cy="126.1" r="2.6" fill="#a88018" stroke="#644c0e" stroke-width="0.45"/>
<circle cx="443.0" cy="126.8" r="2.6" fill="#c09028" stroke="#735618" stroke-width="0.45"/>
<circle cx="442.9" cy="122.2" r="2.6" fill="#b88a20" stroke="#6e5213" stroke-width="0.45"/>
<circle cx="457.0" cy="122.0" r="3.0" fill="#a8c424" stroke="#647515" stroke-width="0.45"/>
<circle cx="458.2" cy="127.2" r="3.0" fill="#a8c424" stroke="#647515" stroke-width="0.45"/>
<circle cx="431.6" cy="118.8" r="2.6" fill="#3a8a20" stroke="#225213" stroke-width="0.45"/>
<circle cx="429.6" cy="121.3" r="2.6" fill="#6a9a18" stroke="#3f5c0e" stroke-width="0.45"/>
<circle cx="435.9" cy="123.5" r="2.6" fill="#2a7a1a" stroke="#19490f" stroke-width="0.45"/>
<circle cx="432.1" cy="121.3" r="2.6" fill="#3a8a20" stroke="#225213" stroke-width="0.45"/>
<circle cx="431.4" cy="123.4" r="2.6" fill="#6a9a18" stroke="#3f5c0e" stroke-width="0.45"/>
<circle cx="435.6" cy="119.1" r="2.6" fill="#2a7a1a" stroke="#19490f" stroke-width="0.45"/>
<circle cx="437.3" cy="121.0" r="2.6" fill="#3a8a20" stroke="#225213" stroke-width="0.45"/>
<circle cx="435.7" cy="121.0" r="2.6" fill="#6a9a18" stroke="#3f5c0e" stroke-width="0.45"/>
<circle cx="428.0" cy="119.2" r="2.6" fill="#2a7a1a" stroke="#19490f" stroke-width="0.45"/>
<circle cx="433.8" cy="119.0" r="2.6" fill="#3a8a20" stroke="#225213" stroke-width="0.45"/>
<circle cx="433.1" cy="122.7" r="2.6" fill="#6a9a18" stroke="#3f5c0e" stroke-width="0.45"/>
<circle cx="429.0" cy="123.5" r="2.6" fill="#2a7a1a" stroke="#19490f" stroke-width="0.45"/>
<circle cx="427.1" cy="120.4" r="2.6" fill="#3a8a20" stroke="#225213" stroke-width="0.45"/>
<circle cx="431.3" cy="128.9" r="2.6" fill="#7a9a20" stroke="#495c13" stroke-width="0.45"/>
<circle cx="434.0" cy="132.6" r="2.6" fill="#a8c424" stroke="#647515" stroke-width="0.45"/>
<circle cx="435.0" cy="130.3" r="2.6" fill="#3a8020" stroke="#224c13" stroke-width="0.45"/>
<circle cx="419.8" cy="127.9" r="2.6" fill="#8aa818" stroke="#52640e" stroke-width="0.45"/>
<circle cx="423.5" cy="128.3" r="2.6" fill="#98c020" stroke="#5b7313" stroke-width="0.45"/>
<circle cx="430.1" cy="134.5" r="2.6" fill="#7a9a20" stroke="#495c13" stroke-width="0.45"/>
<circle cx="428.0" cy="129.9" r="2.6" fill="#a8c424" stroke="#647515" stroke-width="0.45"/>
<circle cx="427.4" cy="132.4" r="2.6" fill="#3a8020" stroke="#224c13" stroke-width="0.45"/>
<circle cx="425.1" cy="131.0" r="2.6" fill="#8aa818" stroke="#52640e" stroke-width="0.45"/>
<circle cx="422.5" cy="128.9" r="2.6" fill="#98c020" stroke="#5b7313" stroke-width="0.45"/>
<circle cx="427.7" cy="135.4" r="2.6" fill="#7a9a20" stroke="#495c13" stroke-width="0.45"/>
<circle cx="437.7" cy="130.9" r="2.6" fill="#a8c424" stroke="#647515" stroke-width="0.45"/>
<circle cx="422.3" cy="132.2" r="2.6" fill="#3a8020" stroke="#224c13" stroke-width="0.45"/>
<circle cx="433.8" cy="128.4" r="2.6" fill="#8aa818" stroke="#52640e" stroke-width="0.45"/>
<circle cx="429.2" cy="128.0" r="2.6" fill="#98c020" stroke="#5b7313" stroke-width="0.45"/>
<circle cx="436.4" cy="132.1" r="2.6" fill="#7a9a20" stroke="#495c13" stroke-width="0.45"/>
<circle cx="428.0" cy="126.1" r="2.6" fill="#a8c424" stroke="#647515" stroke-width="0.45"/>
<circle cx="430.4" cy="125.7" r="2.6" fill="#3a8020" stroke="#224c13" stroke-width="0.45"/>
<circle cx="424.9" cy="135.3" r="2.6" fill="#8aa818" stroke="#52640e" stroke-width="0.45"/>
<circle cx="424.9" cy="133.0" r="2.6" fill="#98c020" stroke="#5b7313" stroke-width="0.45"/>
<circle cx="432.9" cy="130.2" r="2.6" fill="#7a9a20" stroke="#495c13" stroke-width="0.45"/>
<circle cx="421.0" cy="130.5" r="2.6" fill="#a8c424" stroke="#647515" stroke-width="0.45"/>
<circle cx="418.5" cy="133.0" r="2.6" fill="#3a8020" stroke="#224c13" stroke-width="0.45"/>
<circle cx="425.8" cy="125.9" r="2.6" fill="#8aa818" stroke="#52640e" stroke-width="0.45"/>
<circle cx="423.6" cy="130.8" r="2.6" fill="#98c020" stroke="#5b7313" stroke-width="0.45"/>
<circle cx="432.5" cy="132.8" r="2.6" fill="#7a9a20" stroke="#495c13" stroke-width="0.45"/>
<circle cx="418.7" cy="130.0" r="2.6" fill="#a8c424" stroke="#647515" stroke-width="0.45"/>
<circle cx="429.1" cy="132.5" r="2.6" fill="#3a8020" stroke="#224c13" stroke-width="0.45"/>
<circle cx="427.2" cy="128.9" r="2.6" fill="#8aa818" stroke="#52640e" stroke-width="0.45"/>
<circle cx="436.2" cy="128.4" r="2.6" fill="#98c020" stroke="#5b7313" stroke-width="0.45"/>
<circle cx="429.8" cy="130.5" r="2.6" fill="#7a9a20" stroke="#495c13" stroke-width="0.45"/>
<circle cx="439.9" cy="132.2" r="2.6" fill="#a8c424" stroke="#647515" stroke-width="0.45"/>
<circle cx="436.4" cy="139.7" r="2.6" fill="#1a8a1a" stroke="#0f520f" stroke-width="0.45"/>
<circle cx="425.4" cy="140.0" r="2.6" fill="#229022" stroke="#145614" stroke-width="0.45"/>
<circle cx="430.1" cy="137.8" r="2.6" fill="#128012" stroke="#0a4c0a" stroke-width="0.45"/>
<circle cx="435.2" cy="141.6" r="2.6" fill="#1a8a1a" stroke="#0f520f" stroke-width="0.45"/>
<circle cx="427.9" cy="139.8" r="2.6" fill="#229022" stroke="#145614" stroke-width="0.45"/>
<circle cx="432.1" cy="137.3" r="2.6" fill="#128012" stroke="#0a4c0a" stroke-width="0.45"/>
<circle cx="433.4" cy="139.6" r="2.6" fill="#1a8a1a" stroke="#0f520f" stroke-width="0.45"/>
<circle cx="434.7" cy="137.8" r="2.6" fill="#229022" stroke="#145614" stroke-width="0.45"/>
<circle cx="427.3" cy="141.6" r="2.6" fill="#128012" stroke="#0a4c0a" stroke-width="0.45"/>
<circle cx="429.3" cy="142.0" r="2.6" fill="#1a8a1a" stroke="#0f520f" stroke-width="0.45"/>
<circle cx="431.5" cy="139.9" r="2.6" fill="#229022" stroke="#145614" stroke-width="0.45"/>
<circle cx="432.0" cy="141.8" r="2.6" fill="#128012" stroke="#0a4c0a" stroke-width="0.45"/>
<circle cx="426.9" cy="137.3" r="2.6" fill="#1a8a1a" stroke="#0f520f" stroke-width="0.45"/>
<circle cx="428.9" cy="145.0" r="2.6" fill="#a8c424" stroke="#647515" stroke-width="0.45"/>
<circle cx="432.0" cy="145.8" r="2.6" fill="#98c018" stroke="#5b730e" stroke-width="0.45"/>
<circle cx="421.9" cy="145.7" r="2.6" fill="#a8c828" stroke="#647818" stroke-width="0.45"/>
<circle cx="426.3" cy="145.4" r="2.6" fill="#a8c424" stroke="#647515" stroke-width="0.45"/>
<circle cx="423.4" cy="145.7" r="2.6" fill="#98c018" stroke="#5b730e" stroke-width="0.45"/>
<circle cx="416.6" cy="145.0" r="2.6" fill="#a8c828" stroke="#647818" stroke-width="0.45"/>
<circle cx="419.3" cy="145.2" r="2.6" fill="#a8c424" stroke="#647515" stroke-width="0.45"/>
<circle cx="437.0" cy="146.9" r="2.6" fill="#6a6a6a" stroke="#3f3f3f" stroke-width="0.45"/>
<circle cx="445.1" cy="151.1" r="2.6" fill="#1414d4" stroke="#0c0c7f" stroke-width="0.45"/>
<circle cx="446.7" cy="150.0" r="2.6" fill="#2020d0" stroke="#13137c" stroke-width="0.45"/>
<circle cx="442.7" cy="150.9" r="2.6" fill="#1414d4" stroke="#0c0c7f" stroke-width="0.45"/>
<circle cx="434.7" cy="151.4" r="2.6" fill="#8a9a14" stroke="#525c0c" stroke-width="0.45"/>
<circle cx="432.1" cy="153.7" r="2.6" fill="#8a9a10" stroke="#525c09" stroke-width="0.45"/>
<circle cx="436.2" cy="159.2" r="2.6" fill="#7a9018" stroke="#49560e" stroke-width="0.45"/>
<circle cx="430.4" cy="157.0" r="2.6" fill="#8a9a14" stroke="#525c0c" stroke-width="0.45"/>
<circle cx="431.1" cy="159.5" r="2.6" fill="#8a9a10" stroke="#525c09" stroke-width="0.45"/>
<circle cx="434.7" cy="160.1" r="2.6" fill="#7a9018" stroke="#49560e" stroke-width="0.45"/>
<circle cx="433.4" cy="154.9" r="2.6" fill="#8a9a14" stroke="#525c0c" stroke-width="0.45"/>
<circle cx="438.8" cy="155.1" r="2.6" fill="#8a9a10" stroke="#525c09" stroke-width="0.45"/>
<circle cx="431.5" cy="151.4" r="2.6" fill="#7a9018" stroke="#49560e" stroke-width="0.45"/>
<circle cx="428.4" cy="155.2" r="2.6" fill="#8a9a14" stroke="#525c0c" stroke-width="0.45"/>
<circle cx="435.9" cy="157.9" r="2.6" fill="#8a9a10" stroke="#525c09" stroke-width="0.45"/>
<circle cx="434.8" cy="153.9" r="2.6" fill="#7a9018" stroke="#49560e" stroke-width="0.45"/>
<circle cx="438.0" cy="153.1" r="2.6" fill="#8a9a14" stroke="#525c0c" stroke-width="0.45"/>
<circle cx="436.5" cy="155.6" r="2.6" fill="#8a9a10" stroke="#525c09" stroke-width="0.45"/>
<circle cx="430.2" cy="153.4" r="2.6" fill="#7a9018" stroke="#49560e" stroke-width="0.45"/>
<circle cx="431.7" cy="155.8" r="2.6" fill="#8a9a14" stroke="#525c0c" stroke-width="0.45"/>
<circle cx="436.7" cy="151.5" r="2.6" fill="#8a9a10" stroke="#525c09" stroke-width="0.45"/>
<circle cx="432.5" cy="157.6" r="2.6" fill="#7a9018" stroke="#49560e" stroke-width="0.45"/>
<circle cx="438.3" cy="157.6" r="2.6" fill="#8a9a14" stroke="#525c0c" stroke-width="0.45"/>
<circle cx="445.2" cy="157.8" r="2.6" fill="#c08020" stroke="#734c13" stroke-width="0.45"/>
<circle cx="446.1" cy="156.3" r="2.6" fill="#b07818" stroke="#69480e" stroke-width="0.45"/>
<circle cx="442.2" cy="155.8" r="2.6" fill="#c08020" stroke="#734c13" stroke-width="0.45"/>
<circle cx="443.2" cy="154.1" r="2.6" fill="#b07818" stroke="#69480e" stroke-width="0.45"/>
<circle cx="442.4" cy="158.8" r="2.6" fill="#c08020" stroke="#734c13" stroke-width="0.45"/>
<circle cx="444.5" cy="155.6" r="2.6" fill="#b07818" stroke="#69480e" stroke-width="0.45"/>
<circle cx="445.3" cy="153.4" r="2.6" fill="#c08020" stroke="#734c13" stroke-width="0.45"/>
<circle cx="451.7" cy="157.8" r="2.6" fill="#d8701a" stroke="#81430f" stroke-width="0.45"/>
<circle cx="448.4" cy="156.3" r="2.6" fill="#d86a18" stroke="#813f0e" stroke-width="0.45"/>
<circle cx="451.5" cy="154.0" r="2.6" fill="#d07020" stroke="#7c4313" stroke-width="0.45"/>
<circle cx="450.4" cy="153.2" r="2.6" fill="#d8701a" stroke="#81430f" stroke-width="0.45"/>
<circle cx="450.5" cy="155.9" r="2.6" fill="#d86a18" stroke="#813f0e" stroke-width="0.45"/>
<circle cx="453.8" cy="155.8" r="2.6" fill="#d07020" stroke="#7c4313" stroke-width="0.45"/>
<circle cx="449.2" cy="157.6" r="2.6" fill="#d8701a" stroke="#81430f" stroke-width="0.45"/>
<circle cx="461.1" cy="153.5" r="3.0" fill="#a8c424" stroke="#647515" stroke-width="0.45"/>
<circle cx="434.2" cy="173.2" r="2.6" fill="#8a9a14" stroke="#525c0c" stroke-width="0.45"/>
<circle cx="434.1" cy="171.6" r="2.6" fill="#8a9a10" stroke="#525c09" stroke-width="0.45"/>
<circle cx="436.9" cy="177.7" r="2.6" fill="#a8c424" stroke="#647515" stroke-width="0.45"/>
<circle cx="430.3" cy="184.2" r="2.6" fill="#7a8a10" stroke="#495209" stroke-width="0.45"/>
<circle cx="443.0" cy="166.2" r="2.6" fill="#a0b418" stroke="#606c0e" stroke-width="0.45"/>
<circle cx="434.0" cy="163.1" r="2.6" fill="#98a818" stroke="#5b640e" stroke-width="0.45"/>
<circle cx="442.9" cy="168.4" r="2.6" fill="#8a9a14" stroke="#525c0c" stroke-width="0.45"/>
<circle cx="428.1" cy="179.8" r="2.6" fill="#8a9a10" stroke="#525c09" stroke-width="0.45"/>
<circle cx="435.4" cy="171.1" r="2.6" fill="#a8c424" stroke="#647515" stroke-width="0.45"/>
<circle cx="438.0" cy="184.2" r="2.6" fill="#7a8a10" stroke="#495209" stroke-width="0.45"/>
<circle cx="442.1" cy="172.8" r="2.6" fill="#a0b418" stroke="#606c0e" stroke-width="0.45"/>
<circle cx="432.3" cy="173.2" r="2.6" fill="#98a818" stroke="#5b640e" stroke-width="0.45"/>
<circle cx="430.8" cy="180.3" r="2.6" fill="#8a9a14" stroke="#525c0c" stroke-width="0.45"/>
<circle cx="442.1" cy="186.3" r="2.6" fill="#8a9a10" stroke="#525c09" stroke-width="0.45"/>
<circle cx="437.8" cy="171.7" r="2.6" fill="#a8c424" stroke="#647515" stroke-width="0.45"/>
<circle cx="437.5" cy="173.3" r="2.6" fill="#7a8a10" stroke="#495209" stroke-width="0.45"/>
<circle cx="428.4" cy="166.6" r="2.6" fill="#a0b418" stroke="#606c0e" stroke-width="0.45"/>
<circle cx="430.5" cy="175.0" r="2.6" fill="#98a818" stroke="#5b640e" stroke-width="0.45"/>
<circle cx="438.0" cy="179.3" r="2.6" fill="#8a9a14" stroke="#525c0c" stroke-width="0.45"/>
<circle cx="440.7" cy="171.4" r="2.6" fill="#8a9a10" stroke="#525c09" stroke-width="0.45"/>
<circle cx="430.2" cy="173.4" r="2.6" fill="#a8c424" stroke="#647515" stroke-width="0.45"/>
<circle cx="427.8" cy="173.3" r="2.6" fill="#7a8a10" stroke="#495209" stroke-width="0.45"/>
<circle cx="438.0" cy="181.4" r="2.6" fill="#a0b418" stroke="#606c0e" stroke-width="0.45"/>
<circle cx="429.5" cy="169.6" r="2.6" fill="#98a818" stroke="#5b640e" stroke-width="0.45"/>
<circle cx="440.2" cy="186.6" r="2.6" fill="#8a9a14" stroke="#525c0c" stroke-width="0.45"/>
<circle cx="436.5" cy="186.7" r="2.6" fill="#8a9a10" stroke="#525c09" stroke-width="0.45"/>
<circle cx="445.2" cy="168.5" r="2.6" fill="#a8c424" stroke="#647515" stroke-width="0.45"/>
<circle cx="439.1" cy="164.9" r="2.6" fill="#7a8a10" stroke="#495209" stroke-width="0.45"/>
<circle cx="432.3" cy="165.0" r="2.6" fill="#a0b418" stroke="#606c0e" stroke-width="0.45"/>
<circle cx="436.2" cy="180.3" r="2.6" fill="#98a818" stroke="#5b640e" stroke-width="0.45"/>
<circle cx="435.3" cy="186.3" r="2.6" fill="#8a9a14" stroke="#525c0c" stroke-width="0.45"/>
<circle cx="427.5" cy="181.4" r="2.6" fill="#8a9a10" stroke="#525c09" stroke-width="0.45"/>
<circle cx="435.6" cy="175.6" r="2.6" fill="#a8c424" stroke="#647515" stroke-width="0.45"/>
<circle cx="433.4" cy="176.0" r="2.6" fill="#7a8a10" stroke="#495209" stroke-width="0.45"/>
<circle cx="442.2" cy="177.1" r="2.6" fill="#a0b418" stroke="#606c0e" stroke-width="0.45"/>
<circle cx="432.0" cy="181.4" r="2.6" fill="#98a818" stroke="#5b640e" stroke-width="0.45"/>
<circle cx="443.2" cy="184.8" r="2.6" fill="#8a9a14" stroke="#525c0c" stroke-width="0.45"/>
<circle cx="444.0" cy="178.2" r="2.6" fill="#8a9a10" stroke="#525c09" stroke-width="0.45"/>
<circle cx="435.5" cy="188.0" r="2.6" fill="#a8c424" stroke="#647515" stroke-width="0.45"/>
<circle cx="431.4" cy="171.5" r="2.6" fill="#7a8a10" stroke="#495209" stroke-width="0.45"/>
<circle cx="437.9" cy="188.7" r="2.6" fill="#a0b418" stroke="#606c0e" stroke-width="0.45"/>
<circle cx="441.5" cy="166.2" r="2.6" fill="#98a818" stroke="#5b640e" stroke-width="0.45"/>
<circle cx="436.4" cy="184.4" r="2.6" fill="#8a9a14" stroke="#525c0c" stroke-width="0.45"/>
<circle cx="431.4" cy="166.8" r="2.6" fill="#8a9a10" stroke="#525c09" stroke-width="0.45"/>
<circle cx="428.7" cy="183.6" r="2.6" fill="#a8c424" stroke="#647515" stroke-width="0.45"/>
<circle cx="425.6" cy="175.4" r="2.6" fill="#7a8a10" stroke="#495209" stroke-width="0.45"/>
<circle cx="441.4" cy="175.2" r="2.6" fill="#a0b418" stroke="#606c0e" stroke-width="0.45"/>
<circle cx="434.6" cy="165.0" r="2.6" fill="#98a818" stroke="#5b640e" stroke-width="0.45"/>
<circle cx="428.8" cy="171.1" r="2.6" fill="#8a9a14" stroke="#525c0c" stroke-width="0.45"/>
<circle cx="429.2" cy="176.1" r="2.6" fill="#8a9a10" stroke="#525c09" stroke-width="0.45"/>
<circle cx="444.1" cy="173.5" r="2.6" fill="#a8c424" stroke="#647515" stroke-width="0.45"/>
<circle cx="429.6" cy="165.1" r="2.6" fill="#7a8a10" stroke="#495209" stroke-width="0.45"/>
<circle cx="442.7" cy="182.4" r="2.6" fill="#a0b418" stroke="#606c0e" stroke-width="0.45"/>
<circle cx="443.0" cy="170.8" r="2.6" fill="#98a818" stroke="#5b640e" stroke-width="0.45"/>
<circle cx="437.9" cy="161.9" r="2.6" fill="#8a9a14" stroke="#525c0c" stroke-width="0.45"/>
<circle cx="440.0" cy="177.2" r="2.6" fill="#8a9a10" stroke="#525c09" stroke-width="0.45"/>
<circle cx="440.1" cy="182.6" r="2.6" fill="#a8c424" stroke="#647515" stroke-width="0.45"/>
<circle cx="435.0" cy="169.5" r="2.6" fill="#7a8a10" stroke="#495209" stroke-width="0.45"/>
<circle cx="436.2" cy="166.7" r="2.6" fill="#a0b418" stroke="#606c0e" stroke-width="0.45"/>
<circle cx="441.0" cy="179.4" r="2.6" fill="#98a818" stroke="#5b640e" stroke-width="0.45"/>
<circle cx="430.0" cy="186.3" r="2.6" fill="#8a9a14" stroke="#525c0c" stroke-width="0.45"/>
<circle cx="434.1" cy="177.4" r="2.6" fill="#8a9a10" stroke="#525c09" stroke-width="0.45"/>
<circle cx="427.2" cy="177.3" r="2.6" fill="#a8c424" stroke="#647515" stroke-width="0.45"/>
<circle cx="443.7" cy="180.2" r="2.6" fill="#7a8a10" stroke="#495209" stroke-width="0.45"/>
<circle cx="429.4" cy="177.4" r="2.6" fill="#a0b418" stroke="#606c0e" stroke-width="0.45"/>
<circle cx="438.3" cy="166.8" r="2.6" fill="#98a818" stroke="#5b640e" stroke-width="0.45"/>
<circle cx="441.8" cy="164.7" r="2.6" fill="#8a9a14" stroke="#525c0c" stroke-width="0.45"/>
<circle cx="441.2" cy="184.1" r="2.6" fill="#8a9a10" stroke="#525c09" stroke-width="0.45"/>
<circle cx="434.5" cy="181.4" r="2.6" fill="#a8c424" stroke="#647515" stroke-width="0.45"/>
<circle cx="434.2" cy="188.5" r="2.6" fill="#7a8a10" stroke="#495209" stroke-width="0.45"/>
<circle cx="439.8" cy="172.9" r="2.6" fill="#a0b418" stroke="#606c0e" stroke-width="0.45"/>
<circle cx="438.9" cy="175.8" r="2.6" fill="#98a818" stroke="#5b640e" stroke-width="0.45"/>
<circle cx="431.6" cy="186.7" r="2.6" fill="#8a9a14" stroke="#525c0c" stroke-width="0.45"/>
<circle cx="439.9" cy="169.4" r="2.6" fill="#8a9a10" stroke="#525c09" stroke-width="0.45"/>
<circle cx="430.0" cy="182.3" r="2.6" fill="#a8c424" stroke="#647515" stroke-width="0.45"/>
<circle cx="445.6" cy="175.2" r="2.6" fill="#7a8a10" stroke="#495209" stroke-width="0.45"/>
<circle cx="433.5" cy="184.1" r="2.6" fill="#a0b418" stroke="#606c0e" stroke-width="0.45"/>
<circle cx="433.7" cy="166.5" r="2.6" fill="#98a818" stroke="#5b640e" stroke-width="0.45"/>
<circle cx="432.9" cy="177.3" r="2.6" fill="#8a9a14" stroke="#525c0c" stroke-width="0.45"/>
<circle cx="431.6" cy="169.3" r="2.6" fill="#8a9a10" stroke="#525c09" stroke-width="0.45"/>
<circle cx="444.6" cy="181.9" r="2.6" fill="#a8c424" stroke="#647515" stroke-width="0.45"/>
<circle cx="437.0" cy="165.0" r="2.6" fill="#7a8a10" stroke="#495209" stroke-width="0.45"/>
<circle cx="435.9" cy="161.9" r="2.6" fill="#a0b418" stroke="#606c0e" stroke-width="0.45"/>
<circle cx="427.4" cy="168.8" r="2.6" fill="#98a818" stroke="#5b640e" stroke-width="0.45"/>
<circle cx="436.9" cy="169.3" r="2.6" fill="#8a9a14" stroke="#525c0c" stroke-width="0.45"/>
<circle cx="433.1" cy="179.3" r="2.6" fill="#8a9a10" stroke="#525c09" stroke-width="0.45"/>
<circle cx="443.2" cy="175.2" r="2.6" fill="#a8c424" stroke="#647515" stroke-width="0.45"/>
<circle cx="453.5" cy="168.3" r="3.0" fill="#a8c424" stroke="#647515" stroke-width="0.45"/>
<circle cx="458.8" cy="180.5" r="3.0" fill="#a8c424" stroke="#647515" stroke-width="0.45"/>
<circle cx="448.0" cy="184.9" r="2.6" fill="#a8c424" stroke="#647515" stroke-width="0.45"/>
<circle cx="444.6" cy="181.9" r="2.6" fill="#b08030" stroke="#694c1c" stroke-width="0.45"/>
<circle cx="445.7" cy="178.5" r="2.6" fill="#c08838" stroke="#735121" stroke-width="0.45"/>
<circle cx="443.4" cy="180.0" r="2.6" fill="#b08030" stroke="#694c1c" stroke-width="0.45"/>
<circle cx="442.7" cy="178.2" r="2.6" fill="#c08838" stroke="#735121" stroke-width="0.45"/>
<circle cx="446.3" cy="180.6" r="2.6" fill="#b08030" stroke="#694c1c" stroke-width="0.45"/>
<circle cx="442.0" cy="180.1" r="2.6" fill="#c08838" stroke="#735121" stroke-width="0.45"/>
<circle cx="442.8" cy="182.6" r="2.6" fill="#b08030" stroke="#694c1c" stroke-width="0.45"/>
<circle cx="420.4" cy="173.0" r="3.0" fill="#a8c424" stroke="#647515" stroke-width="0.45"/>
<circle cx="425.7" cy="179.5" r="3.0" fill="#a8c424" stroke="#647515" stroke-width="0.45"/>
<circle cx="431.1" cy="188.4" r="2.6" fill="#8a9a14" stroke="#525c0c" stroke-width="0.45"/>
<circle cx="445.2" cy="188.3" r="2.6" fill="#a8c424" stroke="#647515" stroke-width="0.45"/>
<circle cx="427.7" cy="188.6" r="2.6" fill="#98b018" stroke="#5b690e" stroke-width="0.45"/>
<circle cx="438.2" cy="188.2" r="2.6" fill="#8aa018" stroke="#52600e" stroke-width="0.45"/>
<circle cx="420.8" cy="188.8" r="2.6" fill="#8a9a14" stroke="#525c0c" stroke-width="0.45"/>
<circle cx="442.9" cy="188.7" r="2.6" fill="#a8c424" stroke="#647515" stroke-width="0.45"/>
<circle cx="428.9" cy="191.0" r="2.6" fill="#98b018" stroke="#5b690e" stroke-width="0.45"/>
<circle cx="427.0" cy="186.7" r="2.6" fill="#8aa018" stroke="#52600e" stroke-width="0.45"/>
<circle cx="431.9" cy="186.6" r="2.6" fill="#8a9a14" stroke="#525c0c" stroke-width="0.45"/>
<circle cx="433.7" cy="185.8" r="2.6" fill="#a8c424" stroke="#647515" stroke-width="0.45"/>
<circle cx="422.6" cy="188.9" r="2.6" fill="#98b018" stroke="#5b690e" stroke-width="0.45"/>
<circle cx="428.5" cy="185.8" r="2.6" fill="#8aa018" stroke="#52600e" stroke-width="0.45"/>
<circle cx="439.8" cy="190.4" r="2.6" fill="#8a9a14" stroke="#525c0c" stroke-width="0.45"/>
<circle cx="440.3" cy="188.1" r="2.6" fill="#a8c424" stroke="#647515" stroke-width="0.45"/>
<circle cx="439.7" cy="186.7" r="2.6" fill="#98b018" stroke="#5b690e" stroke-width="0.45"/>
<circle cx="437.3" cy="186.0" r="2.6" fill="#8aa018" stroke="#52600e" stroke-width="0.45"/>
<circle cx="431.1" cy="191.1" r="2.6" fill="#8a9a14" stroke="#525c0c" stroke-width="0.45"/>
<circle cx="436.8" cy="190.9" r="2.6" fill="#a8c424" stroke="#647515" stroke-width="0.45"/>
<circle cx="425.7" cy="188.2" r="2.6" fill="#98b018" stroke="#5b690e" stroke-width="0.45"/>
<circle cx="432.6" cy="189.1" r="2.6" fill="#8aa018" stroke="#52600e" stroke-width="0.45"/>
<circle cx="435.5" cy="188.6" r="2.6" fill="#8a9a14" stroke="#525c0c" stroke-width="0.45"/>
<circle cx="434.9" cy="190.6" r="2.6" fill="#a8c424" stroke="#647515" stroke-width="0.45"/>
<circle cx="426.6" cy="191.1" r="2.6" fill="#98b018" stroke="#5b690e" stroke-width="0.45"/>
<circle cx="435.6" cy="194.1" r="2.6" fill="#22881e" stroke="#145112" stroke-width="0.45"/>
<circle cx="434.6" cy="197.6" r="2.6" fill="#1a8a1a" stroke="#0f520f" stroke-width="0.45"/>
<circle cx="436.3" cy="195.4" r="2.6" fill="#128412" stroke="#0a4f0a" stroke-width="0.45"/>
<circle cx="437.3" cy="193.6" r="2.6" fill="#22881e" stroke="#145112" stroke-width="0.45"/>
<circle cx="437.9" cy="197.9" r="2.6" fill="#1a8a1a" stroke="#0f520f" stroke-width="0.45"/>
<circle cx="434.2" cy="195.9" r="2.6" fill="#128412" stroke="#0a4f0a" stroke-width="0.45"/>
<circle cx="439.0" cy="196.1" r="2.6" fill="#22881e" stroke="#145112" stroke-width="0.45"/>
<circle cx="427.9" cy="200.3" r="2.6" fill="#22881e" stroke="#145112" stroke-width="0.45"/>
<circle cx="430.8" cy="207.2" r="2.6" fill="#1a8a1a" stroke="#0f520f" stroke-width="0.45"/>
<circle cx="435.1" cy="204.3" r="2.6" fill="#127a12" stroke="#0a490a" stroke-width="0.45"/>
<circle cx="430.8" cy="202.7" r="2.6" fill="#22881e" stroke="#145112" stroke-width="0.45"/>
<circle cx="427.1" cy="202.9" r="2.6" fill="#1a8a1a" stroke="#0f520f" stroke-width="0.45"/>
<circle cx="432.1" cy="204.7" r="2.6" fill="#127a12" stroke="#0a490a" stroke-width="0.45"/>
<circle cx="434.6" cy="200.5" r="2.6" fill="#22881e" stroke="#145112" stroke-width="0.45"/>
<circle cx="429.9" cy="205.2" r="2.6" fill="#1a8a1a" stroke="#0f520f" stroke-width="0.45"/>
<circle cx="428.9" cy="202.2" r="2.6" fill="#127a12" stroke="#0a490a" stroke-width="0.45"/>
<circle cx="429.7" cy="200.9" r="2.6" fill="#22881e" stroke="#145112" stroke-width="0.45"/>
<circle cx="432.4" cy="199.9" r="2.6" fill="#1a8a1a" stroke="#0f520f" stroke-width="0.45"/>
<circle cx="428.4" cy="205.0" r="2.6" fill="#127a12" stroke="#0a490a" stroke-width="0.45"/>
<circle cx="434.1" cy="202.3" r="2.6" fill="#22881e" stroke="#145112" stroke-width="0.45"/>
<circle cx="436.7" cy="202.4" r="2.6" fill="#1a8a1a" stroke="#0f520f" stroke-width="0.45"/>
<circle cx="431.6" cy="197.8" r="2.6" fill="#127a12" stroke="#0a490a" stroke-width="0.45"/>
<circle cx="423.9" cy="209.2" r="2.6" fill="#22881e" stroke="#145112" stroke-width="0.45"/>
<circle cx="423.9" cy="211.8" r="2.6" fill="#1a8a1a" stroke="#0f520f" stroke-width="0.45"/>
<circle cx="429.1" cy="209.2" r="2.6" fill="#22881e" stroke="#145112" stroke-width="0.45"/>
<circle cx="428.5" cy="211.4" r="2.6" fill="#1a8a1a" stroke="#0f520f" stroke-width="0.45"/>
<circle cx="426.5" cy="209.6" r="2.6" fill="#22881e" stroke="#145112" stroke-width="0.45"/>
<circle cx="428.6" cy="206.8" r="2.6" fill="#1a8a1a" stroke="#0f520f" stroke-width="0.45"/>
<circle cx="431.4" cy="209.5" r="2.6" fill="#22881e" stroke="#145112" stroke-width="0.45"/>
<circle cx="423.3" cy="206.3" r="2.6" fill="#1a8a1a" stroke="#0f520f" stroke-width="0.45"/>
<circle cx="425.9" cy="207.5" r="2.6" fill="#22881e" stroke="#145112" stroke-width="0.45"/>
<circle cx="430.8" cy="206.7" r="2.6" fill="#1a8a1a" stroke="#0f520f" stroke-width="0.45"/>
<circle cx="425.4" cy="210.6" r="2.6" fill="#22881e" stroke="#145112" stroke-width="0.45"/>
<circle cx="431.0" cy="211.7" r="2.6" fill="#1a8a1a" stroke="#0f520f" stroke-width="0.45"/>
<circle cx="421.9" cy="209.5" r="2.6" fill="#22881e" stroke="#145112" stroke-width="0.45"/>
<circle cx="431.1" cy="213.1" r="2.6" fill="#22881e" stroke="#145112" stroke-width="0.45"/>
<circle cx="427.8" cy="211.4" r="2.6" fill="#1a8a1a" stroke="#0f520f" stroke-width="0.45"/>
<circle cx="428.9" cy="212.9" r="2.6" fill="#2a8a1a" stroke="#19520f" stroke-width="0.45"/>
<circle cx="425.6" cy="213.5" r="2.6" fill="#22881e" stroke="#145112" stroke-width="0.45"/>
<circle cx="433.0" cy="212.4" r="2.6" fill="#1a8a1a" stroke="#0f520f" stroke-width="0.45"/>
<circle cx="418.6" cy="213.0" r="2.6" fill="#2a8a1a" stroke="#19520f" stroke-width="0.45"/>
<circle cx="422.8" cy="213.6" r="2.6" fill="#22881e" stroke="#145112" stroke-width="0.45"/>
<circle cx="430.5" cy="211.3" r="2.6" fill="#1a8a1a" stroke="#0f520f" stroke-width="0.45"/>
<circle cx="421.0" cy="212.4" r="2.6" fill="#2a8a1a" stroke="#19520f" stroke-width="0.45"/>
<circle cx="424.2" cy="215.8" r="2.6" fill="#22881e" stroke="#145112" stroke-width="0.45"/>
<circle cx="429.2" cy="215.4" r="2.6" fill="#1a8a1a" stroke="#0f520f" stroke-width="0.45"/>
<circle cx="427.6" cy="214.6" r="2.6" fill="#2a8a1a" stroke="#19520f" stroke-width="0.45"/>
<circle cx="424.9" cy="210.7" r="2.6" fill="#22881e" stroke="#145112" stroke-width="0.45"/>
<circle cx="421.7" cy="215.3" r="2.6" fill="#1a8a1a" stroke="#0f520f" stroke-width="0.45"/>
<circle cx="421.8" cy="210.7" r="2.6" fill="#2a8a1a" stroke="#19520f" stroke-width="0.45"/>
<circle cx="415.0" cy="222.8" r="2.6" fill="#a8c424" stroke="#647515" stroke-width="0.45"/>
<circle cx="411.2" cy="219.5" r="2.6" fill="#98b818" stroke="#5b6e0e" stroke-width="0.45"/>
<circle cx="418.2" cy="218.0" r="2.6" fill="#a0c020" stroke="#607313" stroke-width="0.45"/>
<circle cx="413.1" cy="222.0" r="2.6" fill="#a8c424" stroke="#647515" stroke-width="0.45"/>
<circle cx="417.8" cy="222.6" r="2.6" fill="#98b818" stroke="#5b6e0e" stroke-width="0.45"/>
<circle cx="418.9" cy="219.4" r="2.6" fill="#a0c020" stroke="#607313" stroke-width="0.45"/>
<circle cx="420.7" cy="218.0" r="2.6" fill="#a8c424" stroke="#647515" stroke-width="0.45"/>
<circle cx="413.4" cy="220.3" r="2.6" fill="#98b818" stroke="#5b6e0e" stroke-width="0.45"/>
<circle cx="414.6" cy="218.3" r="2.6" fill="#a0c020" stroke="#607313" stroke-width="0.45"/>
<circle cx="421.1" cy="219.7" r="2.6" fill="#a8c424" stroke="#647515" stroke-width="0.45"/>
<circle cx="420.4" cy="221.6" r="2.6" fill="#98b818" stroke="#5b6e0e" stroke-width="0.45"/>
<circle cx="412.3" cy="217.3" r="2.6" fill="#a0c020" stroke="#607313" stroke-width="0.45"/>
<circle cx="416.1" cy="219.8" r="2.6" fill="#a8c424" stroke="#647515" stroke-width="0.45"/>
<circle cx="433.5" cy="220.4" r="2.6" fill="#6a9a18" stroke="#3f5c0e" stroke-width="0.45"/>
<circle cx="423.4" cy="220.3" r="2.6" fill="#7a9a18" stroke="#495c0e" stroke-width="0.45"/>
<circle cx="429.9" cy="218.2" r="2.6" fill="#4a8a18" stroke="#2c520e" stroke-width="0.45"/>
<circle cx="431.5" cy="220.1" r="2.6" fill="#6a9a18" stroke="#3f5c0e" stroke-width="0.45"/>
<circle cx="425.4" cy="217.5" r="2.6" fill="#7a9a18" stroke="#495c0e" stroke-width="0.45"/>
<circle cx="425.9" cy="221.8" r="2.6" fill="#4a8a18" stroke="#2c520e" stroke-width="0.45"/>
<circle cx="432.1" cy="217.6" r="2.6" fill="#6a9a18" stroke="#3f5c0e" stroke-width="0.45"/>
<circle cx="429.1" cy="220.6" r="2.6" fill="#7a9a18" stroke="#495c0e" stroke-width="0.45"/>
<circle cx="433.5" cy="222.3" r="2.6" fill="#4a8a18" stroke="#2c520e" stroke-width="0.45"/>
<circle cx="430.7" cy="222.2" r="2.6" fill="#6a9a18" stroke="#3f5c0e" stroke-width="0.45"/>
<circle cx="427.0" cy="220.6" r="2.6" fill="#7a9a18" stroke="#495c0e" stroke-width="0.45"/>
<circle cx="427.2" cy="222.7" r="2.6" fill="#4a8a18" stroke="#2c520e" stroke-width="0.45"/>
<circle cx="427.7" cy="217.9" r="2.6" fill="#6a9a18" stroke="#3f5c0e" stroke-width="0.45"/>
<circle cx="458.0" cy="229.9" r="2.6" fill="#ecec22" stroke="#8d8d14" stroke-width="0.45"/>
<circle cx="448.9" cy="231.5" r="2.6" fill="#eeee30" stroke="#8e8e1c" stroke-width="0.45"/>
<circle cx="458.1" cy="225.8" r="2.6" fill="#e4e418" stroke="#88880e" stroke-width="0.45"/>
<circle cx="455.5" cy="230.1" r="2.6" fill="#f0f040" stroke="#909026" stroke-width="0.45"/>
<circle cx="450.9" cy="223.3" r="2.6" fill="#ecec22" stroke="#8d8d14" stroke-width="0.45"/>
<circle cx="446.0" cy="223.8" r="2.6" fill="#eeee30" stroke="#8e8e1c" stroke-width="0.45"/>
<circle cx="441.1" cy="228.1" r="2.6" fill="#e4e418" stroke="#88880e" stroke-width="0.45"/>
<circle cx="449.9" cy="230.1" r="2.6" fill="#f0f040" stroke="#909026" stroke-width="0.45"/>
<circle cx="442.1" cy="232.0" r="2.6" fill="#ecec22" stroke="#8d8d14" stroke-width="0.45"/>
<circle cx="453.7" cy="227.2" r="2.6" fill="#eeee30" stroke="#8e8e1c" stroke-width="0.45"/>
<circle cx="449.2" cy="227.1" r="2.6" fill="#e4e418" stroke="#88880e" stroke-width="0.45"/>
<circle cx="440.3" cy="225.8" r="2.6" fill="#f0f040" stroke="#909026" stroke-width="0.45"/>
<circle cx="445.0" cy="225.3" r="2.6" fill="#ecec22" stroke="#8d8d14" stroke-width="0.45"/>
<circle cx="455.3" cy="225.0" r="2.6" fill="#eeee30" stroke="#8e8e1c" stroke-width="0.45"/>
<circle cx="451.0" cy="227.0" r="2.6" fill="#e4e418" stroke="#88880e" stroke-width="0.45"/>
<circle cx="448.1" cy="229.0" r="2.6" fill="#f0f040" stroke="#909026" stroke-width="0.45"/>
<circle cx="444.1" cy="231.5" r="2.6" fill="#ecec22" stroke="#8d8d14" stroke-width="0.45"/>
<circle cx="443.6" cy="228.1" r="2.6" fill="#eeee30" stroke="#8e8e1c" stroke-width="0.45"/>
<circle cx="435.5" cy="225.5" r="2.6" fill="#e4e418" stroke="#88880e" stroke-width="0.45"/>
<circle cx="437.1" cy="225.4" r="2.6" fill="#f0f040" stroke="#909026" stroke-width="0.45"/>
<circle cx="439.2" cy="227.3" r="2.6" fill="#ecec22" stroke="#8d8d14" stroke-width="0.45"/>
<circle cx="442.7" cy="225.4" r="2.6" fill="#eeee30" stroke="#8e8e1c" stroke-width="0.45"/>
<circle cx="453.1" cy="229.8" r="2.6" fill="#e4e418" stroke="#88880e" stroke-width="0.45"/>
<circle cx="449.2" cy="223.7" r="2.6" fill="#f0f040" stroke="#909026" stroke-width="0.45"/>
<circle cx="451.8" cy="232.4" r="2.6" fill="#ecec22" stroke="#8d8d14" stroke-width="0.45"/>
<circle cx="453.0" cy="225.6" r="2.6" fill="#eeee30" stroke="#8e8e1c" stroke-width="0.45"/>
<circle cx="441.3" cy="222.9" r="2.6" fill="#e4e418" stroke="#88880e" stroke-width="0.45"/>
<circle cx="456.2" cy="227.0" r="2.6" fill="#f0f040" stroke="#909026" stroke-width="0.45"/>
<circle cx="446.0" cy="231.4" r="2.6" fill="#ecec22" stroke="#8d8d14" stroke-width="0.45"/>
<circle cx="447.2" cy="227.1" r="2.6" fill="#eeee30" stroke="#8e8e1c" stroke-width="0.45"/>
<circle cx="440.2" cy="229.3" r="2.6" fill="#e4e418" stroke="#88880e" stroke-width="0.45"/>
<circle cx="449.8" cy="225.1" r="2.6" fill="#f0f040" stroke="#909026" stroke-width="0.45"/>
<circle cx="435.8" cy="229.6" r="2.6" fill="#ecec22" stroke="#8d8d14" stroke-width="0.45"/>
<circle cx="443.9" cy="223.2" r="2.6" fill="#eeee30" stroke="#8e8e1c" stroke-width="0.45"/>
<circle cx="443.5" cy="229.4" r="2.6" fill="#e4e418" stroke="#88880e" stroke-width="0.45"/>
<circle cx="444.5" cy="229.4" r="2.6" fill="#f0f040" stroke="#909026" stroke-width="0.45"/>
<circle cx="437.0" cy="230.1" r="2.6" fill="#ecec22" stroke="#8d8d14" stroke-width="0.45"/>
<circle cx="437.2" cy="227.8" r="2.6" fill="#eeee30" stroke="#8e8e1c" stroke-width="0.45"/>
<circle cx="448.0" cy="225.0" r="2.6" fill="#e4e418" stroke="#88880e" stroke-width="0.45"/>
<circle cx="459.6" cy="227.2" r="2.6" fill="#f0f040" stroke="#909026" stroke-width="0.45"/>
<circle cx="434.2" cy="227.8" r="2.6" fill="#ecec22" stroke="#8d8d14" stroke-width="0.45"/>
<circle cx="450.3" cy="239.9" r="2.6" fill="#ecec22" stroke="#8d8d14" stroke-width="0.45"/>
<circle cx="434.1" cy="241.4" r="2.6" fill="#eeee30" stroke="#8e8e1c" stroke-width="0.45"/>
<circle cx="444.6" cy="242.3" r="2.6" fill="#e4e418" stroke="#88880e" stroke-width="0.45"/>
<circle cx="454.7" cy="236.9" r="2.6" fill="#f0f040" stroke="#909026" stroke-width="0.45"/>
<circle cx="446.8" cy="232.8" r="2.6" fill="#ecec22" stroke="#8d8d14" stroke-width="0.45"/>
<circle cx="431.3" cy="237.8" r="2.6" fill="#eeee30" stroke="#8e8e1c" stroke-width="0.45"/>
<circle cx="439.5" cy="241.4" r="2.6" fill="#e4e418" stroke="#88880e" stroke-width="0.45"/>
<circle cx="438.2" cy="235.4" r="2.6" fill="#f0f040" stroke="#909026" stroke-width="0.45"/>
<circle cx="450.8" cy="234.8" r="2.6" fill="#ecec22" stroke="#8d8d14" stroke-width="0.45"/>
<circle cx="432.7" cy="235.7" r="2.6" fill="#eeee30" stroke="#8e8e1c" stroke-width="0.45"/>
<circle cx="429.1" cy="233.4" r="2.6" fill="#e4e418" stroke="#88880e" stroke-width="0.45"/>
<circle cx="449.1" cy="233.5" r="2.6" fill="#f0f040" stroke="#909026" stroke-width="0.45"/>
<circle cx="437.0" cy="241.3" r="2.6" fill="#ecec22" stroke="#8d8d14" stroke-width="0.45"/>
<circle cx="446.3" cy="242.3" r="2.6" fill="#eeee30" stroke="#8e8e1c" stroke-width="0.45"/>
<circle cx="441.3" cy="233.0" r="2.6" fill="#e4e418" stroke="#88880e" stroke-width="0.45"/>
<circle cx="442.2" cy="237.3" r="2.6" fill="#f0f040" stroke="#909026" stroke-width="0.45"/>
<circle cx="428.5" cy="239.3" r="2.6" fill="#ecec22" stroke="#8d8d14" stroke-width="0.45"/>
<circle cx="425.0" cy="240.3" r="2.6" fill="#eeee30" stroke="#8e8e1c" stroke-width="0.45"/>
<circle cx="446.2" cy="235.7" r="2.6" fill="#e4e418" stroke="#88880e" stroke-width="0.45"/>
<circle cx="443.0" cy="235.5" r="2.6" fill="#f0f040" stroke="#909026" stroke-width="0.45"/>
<circle cx="440.3" cy="235.9" r="2.6" fill="#ecec22" stroke="#8d8d14" stroke-width="0.45"/>
<circle cx="434.2" cy="237.2" r="2.6" fill="#eeee30" stroke="#8e8e1c" stroke-width="0.45"/>
<circle cx="429.4" cy="242.3" r="2.6" fill="#e4e418" stroke="#88880e" stroke-width="0.45"/>
<circle cx="432.9" cy="240.0" r="2.6" fill="#f0f040" stroke="#909026" stroke-width="0.45"/>
<circle cx="436.8" cy="232.6" r="2.6" fill="#ecec22" stroke="#8d8d14" stroke-width="0.45"/>
<circle cx="427.8" cy="235.7" r="2.6" fill="#eeee30" stroke="#8e8e1c" stroke-width="0.45"/>
<circle cx="432.1" cy="241.5" r="2.6" fill="#e4e418" stroke="#88880e" stroke-width="0.45"/>
<circle cx="453.8" cy="235.1" r="2.6" fill="#f0f040" stroke="#909026" stroke-width="0.45"/>
<circle cx="436.2" cy="235.5" r="2.6" fill="#ecec22" stroke="#8d8d14" stroke-width="0.45"/>
<circle cx="426.8" cy="237.2" r="2.6" fill="#eeee30" stroke="#8e8e1c" stroke-width="0.45"/>
<circle cx="430.2" cy="239.2" r="2.6" fill="#e4e418" stroke="#88880e" stroke-width="0.45"/>
<circle cx="435.5" cy="239.2" r="2.6" fill="#f0f040" stroke="#909026" stroke-width="0.45"/>
<circle cx="426.4" cy="235.4" r="2.6" fill="#ecec22" stroke="#8d8d14" stroke-width="0.45"/>
<circle cx="450.1" cy="237.9" r="2.6" fill="#eeee30" stroke="#8e8e1c" stroke-width="0.45"/>
<circle cx="446.3" cy="237.9" r="2.6" fill="#e4e418" stroke="#88880e" stroke-width="0.45"/>
<circle cx="451.5" cy="237.9" r="2.6" fill="#f0f040" stroke="#909026" stroke-width="0.45"/>
<circle cx="444.4" cy="233.4" r="2.6" fill="#ecec22" stroke="#8d8d14" stroke-width="0.45"/>
<circle cx="425.0" cy="237.2" r="2.6" fill="#eeee30" stroke="#8e8e1c" stroke-width="0.45"/>
<circle cx="433.9" cy="233.8" r="2.6" fill="#e4e418" stroke="#88880e" stroke-width="0.45"/>
<circle cx="438.9" cy="240.1" r="2.6" fill="#f0f040" stroke="#909026" stroke-width="0.45"/>
<circle cx="449.5" cy="241.9" r="2.6" fill="#ecec22" stroke="#8d8d14" stroke-width="0.45"/>
<circle cx="431.8" cy="233.5" r="2.6" fill="#eeee30" stroke="#8e8e1c" stroke-width="0.45"/>
<circle cx="443.4" cy="240.0" r="2.6" fill="#e4e418" stroke="#88880e" stroke-width="0.45"/>
<circle cx="453.3" cy="240.0" r="2.6" fill="#f0f040" stroke="#909026" stroke-width="0.45"/>
<circle cx="442.0" cy="241.8" r="2.6" fill="#ecec22" stroke="#8d8d14" stroke-width="0.45"/>
<circle cx="440.3" cy="240.2" r="2.6" fill="#eeee30" stroke="#8e8e1c" stroke-width="0.45"/>
<circle cx="430.6" cy="234.9" r="2.6" fill="#e4e418" stroke="#88880e" stroke-width="0.45"/>
<circle cx="439.2" cy="233.0" r="2.6" fill="#f0f040" stroke="#909026" stroke-width="0.45"/>
<circle cx="448.7" cy="240.1" r="2.6" fill="#ecec22" stroke="#8d8d14" stroke-width="0.45"/>
<circle cx="436.7" cy="237.5" r="2.6" fill="#eeee30" stroke="#8e8e1c" stroke-width="0.45"/>
<circle cx="439.4" cy="237.7" r="2.6" fill="#e4e418" stroke="#88880e" stroke-width="0.45"/>
<circle cx="429.4" cy="237.1" r="2.6" fill="#f0f040" stroke="#909026" stroke-width="0.45"/>
<circle cx="445.1" cy="238.0" r="2.6" fill="#ecec22" stroke="#8d8d14" stroke-width="0.45"/>
<circle cx="448.2" cy="235.1" r="2.6" fill="#eeee30" stroke="#8e8e1c" stroke-width="0.45"/>
<circle cx="446.0" cy="240.2" r="2.6" fill="#e4e418" stroke="#88880e" stroke-width="0.45"/>
<circle cx="431.4" cy="248.4" r="2.6" fill="#ecec22" stroke="#8d8d14" stroke-width="0.45"/>
<circle cx="439.3" cy="249.0" r="2.6" fill="#eeee30" stroke="#8e8e1c" stroke-width="0.45"/>
<circle cx="436.3" cy="244.3" r="2.6" fill="#e4e418" stroke="#88880e" stroke-width="0.45"/>
<circle cx="435.6" cy="248.8" r="2.6" fill="#a8c424" stroke="#647515" stroke-width="0.45"/>
<circle cx="428.1" cy="253.7" r="2.6" fill="#ecec22" stroke="#8d8d14" stroke-width="0.45"/>
<circle cx="428.8" cy="249.4" r="2.6" fill="#eeee30" stroke="#8e8e1c" stroke-width="0.45"/>
<circle cx="415.3" cy="246.1" r="2.6" fill="#e4e418" stroke="#88880e" stroke-width="0.45"/>
<circle cx="422.7" cy="246.9" r="2.6" fill="#a8c424" stroke="#647515" stroke-width="0.45"/>
<circle cx="441.1" cy="248.2" r="2.6" fill="#ecec22" stroke="#8d8d14" stroke-width="0.45"/>
<circle cx="424.0" cy="253.1" r="2.6" fill="#eeee30" stroke="#8e8e1c" stroke-width="0.45"/>
<circle cx="433.7" cy="253.5" r="2.6" fill="#e4e418" stroke="#88880e" stroke-width="0.45"/>
<circle cx="442.3" cy="250.7" r="2.6" fill="#a8c424" stroke="#647515" stroke-width="0.45"/>
<circle cx="436.1" cy="252.9" r="2.6" fill="#ecec22" stroke="#8d8d14" stroke-width="0.45"/>
<circle cx="433.8" cy="244.3" r="2.6" fill="#eeee30" stroke="#8e8e1c" stroke-width="0.45"/>
<circle cx="419.8" cy="246.2" r="2.6" fill="#e4e418" stroke="#88880e" stroke-width="0.45"/>
<circle cx="445.5" cy="246.2" r="2.6" fill="#a8c424" stroke="#647515" stroke-width="0.45"/>
<circle cx="423.1" cy="244.0" r="2.6" fill="#ecec22" stroke="#8d8d14" stroke-width="0.45"/>
<circle cx="417.5" cy="246.7" r="2.6" fill="#eeee30" stroke="#8e8e1c" stroke-width="0.45"/>
<circle cx="424.4" cy="251.3" r="2.6" fill="#e4e418" stroke="#88880e" stroke-width="0.45"/>
<circle cx="434.1" cy="248.9" r="2.6" fill="#a8c424" stroke="#647515" stroke-width="0.45"/>
<circle cx="438.1" cy="243.9" r="2.6" fill="#ecec22" stroke="#8d8d14" stroke-width="0.45"/>
<circle cx="410.5" cy="248.2" r="2.6" fill="#eeee30" stroke="#8e8e1c" stroke-width="0.45"/>
<circle cx="425.6" cy="249.0" r="2.6" fill="#e4e418" stroke="#88880e" stroke-width="0.45"/>
<circle cx="429.4" cy="243.9" r="2.6" fill="#a8c424" stroke="#647515" stroke-width="0.45"/>
<circle cx="436.8" cy="251.5" r="2.6" fill="#ecec22" stroke="#8d8d14" stroke-width="0.45"/>
<circle cx="420.8" cy="244.4" r="2.6" fill="#eeee30" stroke="#8e8e1c" stroke-width="0.45"/>
<circle cx="416.8" cy="248.8" r="2.6" fill="#e4e418" stroke="#88880e" stroke-width="0.45"/>
<circle cx="417.4" cy="251.3" r="2.6" fill="#a8c424" stroke="#647515" stroke-width="0.45"/>
<circle cx="418.7" cy="249.2" r="2.6" fill="#ecec22" stroke="#8d8d14" stroke-width="0.45"/>
<circle cx="444.0" cy="249.4" r="2.6" fill="#eeee30" stroke="#8e8e1c" stroke-width="0.45"/>
<circle cx="431.9" cy="244.3" r="2.6" fill="#e4e418" stroke="#88880e" stroke-width="0.45"/>
<circle cx="427.1" cy="251.1" r="2.6" fill="#a8c424" stroke="#647515" stroke-width="0.45"/>
<circle cx="439.1" cy="252.9" r="2.6" fill="#ecec22" stroke="#8d8d14" stroke-width="0.45"/>
<circle cx="430.1" cy="246.2" r="2.6" fill="#eeee30" stroke="#8e8e1c" stroke-width="0.45"/>
<circle cx="440.5" cy="246.2" r="2.6" fill="#e4e418" stroke="#88880e" stroke-width="0.45"/>
<circle cx="440.2" cy="251.1" r="2.6" fill="#a8c424" stroke="#647515" stroke-width="0.45"/>
<circle cx="434.8" cy="246.1" r="2.6" fill="#ecec22" stroke="#8d8d14" stroke-width="0.45"/>
<circle cx="424.0" cy="248.7" r="2.6" fill="#eeee30" stroke="#8e8e1c" stroke-width="0.45"/>
<circle cx="425.5" cy="246.1" r="2.6" fill="#e4e418" stroke="#88880e" stroke-width="0.45"/>
<circle cx="434.3" cy="250.4" r="2.6" fill="#a8c424" stroke="#647515" stroke-width="0.45"/>
<circle cx="430.7" cy="253.5" r="2.6" fill="#ecec22" stroke="#8d8d14" stroke-width="0.45"/>
<circle cx="422.8" cy="251.2" r="2.6" fill="#eeee30" stroke="#8e8e1c" stroke-width="0.45"/>
<circle cx="413.8" cy="248.9" r="2.6" fill="#e4e418" stroke="#88880e" stroke-width="0.45"/>
<circle cx="426.8" cy="246.8" r="2.6" fill="#a8c424" stroke="#647515" stroke-width="0.45"/>
<circle cx="421.6" cy="248.7" r="2.6" fill="#ecec22" stroke="#8d8d14" stroke-width="0.45"/>
<circle cx="446.7" cy="248.4" r="2.6" fill="#eeee30" stroke="#8e8e1c" stroke-width="0.45"/>
<circle cx="438.1" cy="246.0" r="2.6" fill="#e4e418" stroke="#88880e" stroke-width="0.45"/>
<circle cx="425.7" cy="253.8" r="2.6" fill="#a8c424" stroke="#647515" stroke-width="0.45"/>
<circle cx="412.9" cy="246.6" r="2.6" fill="#ecec22" stroke="#8d8d14" stroke-width="0.45"/>
<circle cx="419.3" cy="244.2" r="2.6" fill="#eeee30" stroke="#8e8e1c" stroke-width="0.45"/>
<circle cx="433.0" cy="251.5" r="2.6" fill="#e4e418" stroke="#88880e" stroke-width="0.45"/>
<circle cx="420.9" cy="253.7" r="2.6" fill="#a8c424" stroke="#647515" stroke-width="0.45"/>
<circle cx="442.2" cy="246.9" r="2.6" fill="#ecec22" stroke="#8d8d14" stroke-width="0.45"/>
<circle cx="411.9" cy="250.9" r="2.6" fill="#eeee30" stroke="#8e8e1c" stroke-width="0.45"/>
<circle cx="419.2" cy="253.3" r="2.6" fill="#e4e418" stroke="#88880e" stroke-width="0.45"/>
<circle cx="445.1" cy="251.6" r="2.6" fill="#a8c424" stroke="#647515" stroke-width="0.45"/>
<circle cx="429.9" cy="251.2" r="2.6" fill="#ecec22" stroke="#8d8d14" stroke-width="0.45"/>
<circle cx="420.6" cy="250.8" r="2.6" fill="#eeee30" stroke="#8e8e1c" stroke-width="0.45"/>
<circle cx="414.6" cy="251.1" r="2.6" fill="#e4e418" stroke="#88880e" stroke-width="0.45"/>
<circle cx="426.5" cy="244.0" r="2.6" fill="#a8c424" stroke="#647515" stroke-width="0.45"/>
<circle cx="432.7" cy="247.1" r="2.6" fill="#ecec22" stroke="#8d8d14" stroke-width="0.45"/>
<circle cx="458.5" cy="224.0" r="3.0" fill="#ecec22" stroke="#8d8d14" stroke-width="0.45"/>
<circle cx="453.5" cy="239.4" r="3.0" fill="#ecec22" stroke="#8d8d14" stroke-width="0.45"/>
<circle cx="449.0" cy="249.0" r="2.6" fill="#ecec22" stroke="#8d8d14" stroke-width="0.45"/>
<circle cx="443.4" cy="256.1" r="2.6" fill="#7c7c14" stroke="#4a4a0c" stroke-width="0.45"/>
<circle cx="432.2" cy="254.3" r="2.6" fill="#8a8a10" stroke="#525209" stroke-width="0.45"/>
<circle cx="442.3" cy="254.4" r="2.6" fill="#9a9018" stroke="#5c560e" stroke-width="0.45"/>
<circle cx="442.2" cy="259.3" r="2.6" fill="#7a7a10" stroke="#494909" stroke-width="0.45"/>
<circle cx="448.8" cy="254.6" r="2.6" fill="#7c7c14" stroke="#4a4a0c" stroke-width="0.45"/>
<circle cx="446.3" cy="258.3" r="2.6" fill="#8a8a10" stroke="#525209" stroke-width="0.45"/>
<circle cx="434.4" cy="258.4" r="2.6" fill="#9a9018" stroke="#5c560e" stroke-width="0.45"/>
<circle cx="449.8" cy="257.1" r="2.6" fill="#7a7a10" stroke="#494909" stroke-width="0.45"/>
<circle cx="446.3" cy="253.9" r="2.6" fill="#7c7c14" stroke="#4a4a0c" stroke-width="0.45"/>
<circle cx="439.9" cy="259.0" r="2.6" fill="#8a8a10" stroke="#525209" stroke-width="0.45"/>
<circle cx="433.6" cy="254.7" r="2.6" fill="#9a9018" stroke="#5c560e" stroke-width="0.45"/>
<circle cx="435.0" cy="255.9" r="2.6" fill="#7a7a10" stroke="#494909" stroke-width="0.45"/>
<circle cx="448.6" cy="258.1" r="2.6" fill="#7c7c14" stroke="#4a4a0c" stroke-width="0.45"/>
<circle cx="432.9" cy="256.5" r="2.6" fill="#8a8a10" stroke="#525209" stroke-width="0.45"/>
<circle cx="444.2" cy="254.4" r="2.6" fill="#9a9018" stroke="#5c560e" stroke-width="0.45"/>
<circle cx="430.3" cy="256.6" r="2.6" fill="#7a7a10" stroke="#494909" stroke-width="0.45"/>
<circle cx="437.2" cy="258.6" r="2.6" fill="#7c7c14" stroke="#4a4a0c" stroke-width="0.45"/>
<circle cx="439.4" cy="254.8" r="2.6" fill="#8a8a10" stroke="#525209" stroke-width="0.45"/>
<circle cx="439.9" cy="256.7" r="2.6" fill="#9a9018" stroke="#5c560e" stroke-width="0.45"/>
<circle cx="437.2" cy="254.0" r="2.6" fill="#7a7a10" stroke="#494909" stroke-width="0.45"/>
<circle cx="448.0" cy="255.9" r="2.6" fill="#7c7c14" stroke="#4a4a0c" stroke-width="0.45"/>
<circle cx="445.6" cy="256.3" r="2.6" fill="#8a8a10" stroke="#525209" stroke-width="0.45"/>
<circle cx="443.9" cy="258.1" r="2.6" fill="#9a9018" stroke="#5c560e" stroke-width="0.45"/>
<circle cx="438.7" cy="256.3" r="2.6" fill="#7a7a10" stroke="#494909" stroke-width="0.45"/>
<circle cx="432.3" cy="258.7" r="2.6" fill="#7c7c14" stroke="#4a4a0c" stroke-width="0.45"/>
<circle cx="426.0" cy="254.0" r="2.6" fill="#2e7a1a" stroke="#1b490f" stroke-width="0.45"/>
<circle cx="369.0" cy="262.3" r="2.6" fill="#6a9a28" stroke="#3f5c18" stroke-width="0.45"/>
<circle cx="372.5" cy="263.9" r="2.6" fill="#8a9a14" stroke="#525c0c" stroke-width="0.45"/>
<circle cx="376.0" cy="263.8" r="2.6" fill="#8a9a14" stroke="#525c0c" stroke-width="0.45"/>
<circle cx="379.5" cy="263.7" r="2.6" fill="#8a9a14" stroke="#525c0c" stroke-width="0.45"/>
<circle cx="383.0" cy="262.5" r="2.6" fill="#8aa020" stroke="#526013" stroke-width="0.45"/>
<circle cx="391.0" cy="262.1" r="2.6" fill="#7a9a20" stroke="#495c13" stroke-width="0.45"/>
<circle cx="395.0" cy="262.6" r="2.6" fill="#8a9a14" stroke="#525c0c" stroke-width="0.45"/>
<circle cx="399.0" cy="263.9" r="2.6" fill="#6a9a28" stroke="#3f5c18" stroke-width="0.45"/>
<circle cx="403.0" cy="263.2" r="2.6" fill="#8aa020" stroke="#526013" stroke-width="0.45"/>
<circle cx="409.0" cy="263.5" r="2.6" fill="#8a9a14" stroke="#525c0c" stroke-width="0.45"/>
<circle cx="412.5" cy="262.9" r="2.6" fill="#6a9a28" stroke="#3f5c18" stroke-width="0.45"/>
<circle cx="416.0" cy="262.5" r="2.6" fill="#8a9a14" stroke="#525c0c" stroke-width="0.45"/>
<circle cx="420.0" cy="262.7" r="2.6" fill="#8aa020" stroke="#526013" stroke-width="0.45"/>
<circle cx="423.5" cy="262.3" r="2.6" fill="#7a9a20" stroke="#495c13" stroke-width="0.45"/>
<circle cx="427.0" cy="263.6" r="2.6" fill="#8a9a14" stroke="#525c0c" stroke-width="0.45"/>
<circle cx="455.5" cy="262.9" r="2.6" fill="#7a9a20" stroke="#495c13" stroke-width="0.45"/>
<circle cx="459.5" cy="263.6" r="2.6" fill="#7a9a20" stroke="#495c13" stroke-width="0.45"/>
<circle cx="430.7" cy="270.3" r="2.6" fill="#c07a30" stroke="#73491c" stroke-width="0.45"/>
<circle cx="432.7" cy="269.8" r="2.6" fill="#b86a20" stroke="#6e3f13" stroke-width="0.45"/>
<circle cx="436.8" cy="268.4" r="2.6" fill="#c88838" stroke="#785121" stroke-width="0.45"/>
<circle cx="433.9" cy="266.3" r="2.6" fill="#c07a30" stroke="#73491c" stroke-width="0.45"/>
<circle cx="432.6" cy="268.4" r="2.6" fill="#b86a20" stroke="#6e3f13" stroke-width="0.45"/>
<circle cx="429.4" cy="267.5" r="2.6" fill="#c88838" stroke="#785121" stroke-width="0.45"/>
<circle cx="434.7" cy="267.9" r="2.6" fill="#c07a30" stroke="#73491c" stroke-width="0.45"/>
<circle cx="427.6" cy="267.5" r="2.6" fill="#b86a20" stroke="#6e3f13" stroke-width="0.45"/>
<circle cx="431.4" cy="265.5" r="2.6" fill="#c88838" stroke="#785121" stroke-width="0.45"/>
<circle cx="441.4" cy="270.0" r="2.6" fill="#7c7c14" stroke="#4a4a0c" stroke-width="0.45"/>
<circle cx="426.1" cy="288.0" r="2.6" fill="#1414d4" stroke="#0c0c7f" stroke-width="0.45"/>
<circle cx="427.6" cy="280.7" r="2.6" fill="#1a1ad8" stroke="#0f0f81" stroke-width="0.45"/>
<circle cx="428.2" cy="274.3" r="2.6" fill="#2020e0" stroke="#131386" stroke-width="0.45"/>
<circle cx="423.1" cy="278.7" r="2.6" fill="#1010d0" stroke="#09097c" stroke-width="0.45"/>
<circle cx="434.1" cy="282.7" r="2.6" fill="#1414d4" stroke="#0c0c7f" stroke-width="0.45"/>
<circle cx="434.4" cy="280.6" r="2.6" fill="#1a1ad8" stroke="#0f0f81" stroke-width="0.45"/>
<circle cx="432.7" cy="298.4" r="2.6" fill="#2020e0" stroke="#131386" stroke-width="0.45"/>
<circle cx="428.0" cy="294.2" r="2.6" fill="#1010d0" stroke="#09097c" stroke-width="0.45"/>
<circle cx="429.8" cy="285.1" r="2.6" fill="#1414d4" stroke="#0c0c7f" stroke-width="0.45"/>
<circle cx="436.3" cy="287.0" r="2.6" fill="#1a1ad8" stroke="#0f0f81" stroke-width="0.45"/>
<circle cx="427.0" cy="285.9" r="2.6" fill="#2020e0" stroke="#131386" stroke-width="0.45"/>
<circle cx="439.7" cy="280.8" r="2.6" fill="#1010d0" stroke="#09097c" stroke-width="0.45"/>
<circle cx="437.8" cy="289.3" r="2.6" fill="#1414d4" stroke="#0c0c7f" stroke-width="0.45"/>
<circle cx="440.7" cy="277.4" r="2.6" fill="#1a1ad8" stroke="#0f0f81" stroke-width="0.45"/>
<circle cx="440.5" cy="294.7" r="2.6" fill="#2020e0" stroke="#131386" stroke-width="0.45"/>
<circle cx="423.5" cy="288.0" r="2.6" fill="#1010d0" stroke="#09097c" stroke-width="0.45"/>
<circle cx="425.6" cy="280.8" r="2.6" fill="#1414d4" stroke="#0c0c7f" stroke-width="0.45"/>
<circle cx="439.4" cy="285.8" r="2.6" fill="#1a1ad8" stroke="#0f0f81" stroke-width="0.45"/>
<circle cx="425.6" cy="285.2" r="2.6" fill="#2020e0" stroke="#131386" stroke-width="0.45"/>
<circle cx="434.4" cy="296.9" r="2.6" fill="#1010d0" stroke="#09097c" stroke-width="0.45"/>
<circle cx="435.9" cy="296.3" r="2.6" fill="#1414d4" stroke="#0c0c7f" stroke-width="0.45"/>
<circle cx="431.6" cy="283.2" r="2.6" fill="#1a1ad8" stroke="#0f0f81" stroke-width="0.45"/>
<circle cx="426.8" cy="278.4" r="2.6" fill="#2020e0" stroke="#131386" stroke-width="0.45"/>
<circle cx="434.6" cy="276.4" r="2.6" fill="#1010d0" stroke="#09097c" stroke-width="0.45"/>
<circle cx="432.9" cy="294.0" r="2.6" fill="#1414d4" stroke="#0c0c7f" stroke-width="0.45"/>
<circle cx="433.8" cy="287.7" r="2.6" fill="#1a1ad8" stroke="#0f0f81" stroke-width="0.45"/>
<circle cx="423.1" cy="285.5" r="2.6" fill="#2020e0" stroke="#131386" stroke-width="0.45"/>
<circle cx="429.1" cy="278.7" r="2.6" fill="#1010d0" stroke="#09097c" stroke-width="0.45"/>
<circle cx="433.9" cy="292.5" r="2.6" fill="#1414d4" stroke="#0c0c7f" stroke-width="0.45"/>
<circle cx="428.1" cy="288.2" r="2.6" fill="#1a1ad8" stroke="#0f0f81" stroke-width="0.45"/>
<circle cx="428.4" cy="291.5" r="2.6" fill="#2020e0" stroke="#131386" stroke-width="0.45"/>
<circle cx="428.3" cy="282.8" r="2.6" fill="#1010d0" stroke="#09097c" stroke-width="0.45"/>
<circle cx="437.4" cy="294.8" r="2.6" fill="#1414d4" stroke="#0c0c7f" stroke-width="0.45"/>
<circle cx="431.1" cy="291.6" r="2.6" fill="#1a1ad8" stroke="#0f0f81" stroke-width="0.45"/>
<circle cx="436.7" cy="283.1" r="2.6" fill="#2020e0" stroke="#131386" stroke-width="0.45"/>
<circle cx="433.3" cy="274.6" r="2.6" fill="#1010d0" stroke="#09097c" stroke-width="0.45"/>
<circle cx="430.3" cy="289.5" r="2.6" fill="#1414d4" stroke="#0c0c7f" stroke-width="0.45"/>
<circle cx="437.3" cy="277.4" r="2.6" fill="#1a1ad8" stroke="#0f0f81" stroke-width="0.45"/>
<circle cx="429.5" cy="281.5" r="2.6" fill="#2020e0" stroke="#131386" stroke-width="0.45"/>
<circle cx="440.8" cy="278.9" r="2.6" fill="#1010d0" stroke="#09097c" stroke-width="0.45"/>
<circle cx="431.9" cy="287.7" r="2.6" fill="#1414d4" stroke="#0c0c7f" stroke-width="0.45"/>
<circle cx="439.2" cy="279.0" r="2.6" fill="#1a1ad8" stroke="#0f0f81" stroke-width="0.45"/>
<circle cx="424.6" cy="290.3" r="2.6" fill="#2020e0" stroke="#131386" stroke-width="0.45"/>
<circle cx="432.0" cy="278.3" r="2.6" fill="#1010d0" stroke="#09097c" stroke-width="0.45"/>
<circle cx="423.9" cy="283.6" r="2.6" fill="#1414d4" stroke="#0c0c7f" stroke-width="0.45"/>
<circle cx="432.1" cy="272.3" r="2.6" fill="#1a1ad8" stroke="#0f0f81" stroke-width="0.45"/>
<circle cx="439.3" cy="283.8" r="2.6" fill="#2020e0" stroke="#131386" stroke-width="0.45"/>
<circle cx="430.3" cy="276.4" r="2.6" fill="#1010d0" stroke="#09097c" stroke-width="0.45"/>
<circle cx="434.2" cy="278.8" r="2.6" fill="#1414d4" stroke="#0c0c7f" stroke-width="0.45"/>
<circle cx="426.8" cy="277.3" r="2.6" fill="#1a1ad8" stroke="#0f0f81" stroke-width="0.45"/>
<circle cx="435.1" cy="289.9" r="2.6" fill="#2020e0" stroke="#131386" stroke-width="0.45"/>
<circle cx="434.6" cy="294.0" r="2.6" fill="#1010d0" stroke="#09097c" stroke-width="0.45"/>
<circle cx="440.8" cy="287.2" r="2.6" fill="#1414d4" stroke="#0c0c7f" stroke-width="0.45"/>
<circle cx="441.2" cy="282.7" r="2.6" fill="#1a1ad8" stroke="#0f0f81" stroke-width="0.45"/>
<circle cx="434.3" cy="285.5" r="2.6" fill="#2020e0" stroke="#131386" stroke-width="0.45"/>
<circle cx="423.1" cy="291.5" r="2.6" fill="#1010d0" stroke="#09097c" stroke-width="0.45"/>
<circle cx="426.2" cy="292.0" r="2.6" fill="#1414d4" stroke="#0c0c7f" stroke-width="0.45"/>
<circle cx="443.0" cy="286.0" r="2.6" fill="#1a1ad8" stroke="#0f0f81" stroke-width="0.45"/>
<circle cx="441.7" cy="292.6" r="2.6" fill="#2020e0" stroke="#131386" stroke-width="0.45"/>
<circle cx="429.8" cy="294.8" r="2.6" fill="#1010d0" stroke="#09097c" stroke-width="0.45"/>
<circle cx="432.3" cy="285.6" r="2.6" fill="#1414d4" stroke="#0c0c7f" stroke-width="0.45"/>
<circle cx="430.6" cy="296.4" r="2.6" fill="#1a1ad8" stroke="#0f0f81" stroke-width="0.45"/>
<circle cx="429.2" cy="296.8" r="2.6" fill="#2020e0" stroke="#131386" stroke-width="0.45"/>
<circle cx="436.0" cy="275.2" r="2.6" fill="#1010d0" stroke="#09097c" stroke-width="0.45"/>
<circle cx="439.1" cy="291.6" r="2.6" fill="#1414d4" stroke="#0c0c7f" stroke-width="0.45"/>
<circle cx="424.4" cy="277.4" r="2.6" fill="#1a1ad8" stroke="#0f0f81" stroke-width="0.45"/>
<circle cx="440.6" cy="290.1" r="2.6" fill="#2020e0" stroke="#131386" stroke-width="0.45"/>
<circle cx="439.5" cy="287.3" r="2.6" fill="#1010d0" stroke="#09097c" stroke-width="0.45"/>
<circle cx="426.8" cy="289.3" r="2.6" fill="#1414d4" stroke="#0c0c7f" stroke-width="0.45"/>
<circle cx="435.7" cy="278.3" r="2.6" fill="#1a1ad8" stroke="#0f0f81" stroke-width="0.45"/>
<circle cx="426.7" cy="283.4" r="2.6" fill="#2020e0" stroke="#131386" stroke-width="0.45"/>
<circle cx="431.8" cy="274.4" r="2.6" fill="#1010d0" stroke="#09097c" stroke-width="0.45"/>
<circle cx="435.7" cy="292.1" r="2.6" fill="#1414d4" stroke="#0c0c7f" stroke-width="0.45"/>
<circle cx="437.7" cy="281.1" r="2.6" fill="#1a1ad8" stroke="#0f0f81" stroke-width="0.45"/>
<circle cx="431.8" cy="290.0" r="2.6" fill="#2020e0" stroke="#131386" stroke-width="0.45"/>
<circle cx="437.4" cy="285.5" r="2.6" fill="#1010d0" stroke="#09097c" stroke-width="0.45"/>
<circle cx="432.5" cy="276.5" r="2.6" fill="#1414d4" stroke="#0c0c7f" stroke-width="0.45"/>
<circle cx="432.8" cy="280.8" r="2.6" fill="#1a1ad8" stroke="#0f0f81" stroke-width="0.45"/>
<circle cx="424.8" cy="294.1" r="2.6" fill="#2020e0" stroke="#131386" stroke-width="0.45"/>
<circle cx="424.2" cy="295.9" r="2.6" fill="#1414d4" stroke="#0c0c7f" stroke-width="0.45"/>
<circle cx="417.8" cy="295.8" r="2.6" fill="#1414d4" stroke="#0c0c7f" stroke-width="0.45"/>
<circle cx="420.5" cy="296.1" r="2.6" fill="#1414d4" stroke="#0c0c7f" stroke-width="0.45"/>
<circle cx="450.6" cy="281.6" r="2.6" fill="#1414d4" stroke="#0c0c7f" stroke-width="0.45"/>
<circle cx="446.4" cy="280.7" r="2.6" fill="#1414d4" stroke="#0c0c7f" stroke-width="0.45"/>
<circle cx="448.5" cy="281.0" r="2.6" fill="#1414d4" stroke="#0c0c7f" stroke-width="0.45"/>
<circle cx="445.9" cy="294.6" r="2.6" fill="#1414d4" stroke="#0c0c7f" stroke-width="0.45"/>
<circle cx="450.4" cy="294.4" r="2.6" fill="#1414d4" stroke="#0c0c7f" stroke-width="0.45"/>
<circle cx="452.8" cy="294.9" r="2.6" fill="#1414d4" stroke="#0c0c7f" stroke-width="0.45"/>
<circle cx="455.9" cy="294.5" r="2.6" fill="#1414d4" stroke="#0c0c7f" stroke-width="0.45"/>
<circle cx="447.4" cy="295.5" r="2.6" fill="#1414d4" stroke="#0c0c7f" stroke-width="0.45"/>
<circle cx="443.3" cy="289.2" r="2.6" fill="#7c7c14" stroke="#4a4a0c" stroke-width="0.45"/>
<circle cx="436.2" cy="312.0" r="2.6" fill="#4a98e8" stroke="#2c5b8b" stroke-width="0.45"/>
<circle cx="432.1" cy="309.1" r="2.6" fill="#3a88e0" stroke="#225186" stroke-width="0.45"/>
<circle cx="428.2" cy="302.7" r="2.6" fill="#70b0f0" stroke="#436990" stroke-width="0.45"/>
<circle cx="428.1" cy="301.3" r="2.6" fill="#5aa0e8" stroke="#36608b" stroke-width="0.45"/>
<circle cx="430.9" cy="311.6" r="2.6" fill="#4a70d0" stroke="#2c437c" stroke-width="0.45"/>
<circle cx="428.0" cy="309.1" r="2.6" fill="#4a98e8" stroke="#2c5b8b" stroke-width="0.45"/>
<circle cx="436.8" cy="305.3" r="2.6" fill="#3a88e0" stroke="#225186" stroke-width="0.45"/>
<circle cx="432.3" cy="305.0" r="2.6" fill="#70b0f0" stroke="#436990" stroke-width="0.45"/>
<circle cx="429.5" cy="307.0" r="2.6" fill="#5aa0e8" stroke="#36608b" stroke-width="0.45"/>
<circle cx="428.4" cy="312.0" r="2.6" fill="#4a70d0" stroke="#2c437c" stroke-width="0.45"/>
<circle cx="432.0" cy="302.4" r="2.6" fill="#4a98e8" stroke="#2c5b8b" stroke-width="0.45"/>
<circle cx="434.2" cy="307.1" r="2.6" fill="#3a88e0" stroke="#225186" stroke-width="0.45"/>
<circle cx="437.4" cy="300.7" r="2.6" fill="#70b0f0" stroke="#436990" stroke-width="0.45"/>
<circle cx="429.7" cy="300.8" r="2.6" fill="#5aa0e8" stroke="#36608b" stroke-width="0.45"/>
<circle cx="432.7" cy="300.9" r="2.6" fill="#4a70d0" stroke="#2c437c" stroke-width="0.45"/>
<circle cx="435.6" cy="298.9" r="2.6" fill="#4a98e8" stroke="#2c5b8b" stroke-width="0.45"/>
<circle cx="434.9" cy="300.1" r="2.6" fill="#3a88e0" stroke="#225186" stroke-width="0.45"/>
<circle cx="435.1" cy="305.2" r="2.6" fill="#70b0f0" stroke="#436990" stroke-width="0.45"/>
<circle cx="433.4" cy="298.9" r="2.6" fill="#5aa0e8" stroke="#36608b" stroke-width="0.45"/>
<circle cx="429.0" cy="298.0" r="2.6" fill="#4a70d0" stroke="#2c437c" stroke-width="0.45"/>
<circle cx="438.2" cy="308.7" r="2.6" fill="#4a98e8" stroke="#2c5b8b" stroke-width="0.45"/>
<circle cx="435.7" cy="309.9" r="2.6" fill="#3a88e0" stroke="#225186" stroke-width="0.45"/>
<circle cx="433.5" cy="311.7" r="2.6" fill="#70b0f0" stroke="#436990" stroke-width="0.45"/>
<circle cx="431.0" cy="307.2" r="2.6" fill="#5aa0e8" stroke="#36608b" stroke-width="0.45"/>
<circle cx="430.8" cy="298.6" r="2.6" fill="#4a70d0" stroke="#2c437c" stroke-width="0.45"/>
<circle cx="434.3" cy="302.5" r="2.6" fill="#4a98e8" stroke="#2c5b8b" stroke-width="0.45"/>
<circle cx="429.7" cy="304.8" r="2.6" fill="#3a88e0" stroke="#225186" stroke-width="0.45"/>
<circle cx="436.4" cy="302.3" r="2.6" fill="#70b0f0" stroke="#436990" stroke-width="0.45"/>
<circle cx="428.0" cy="305.3" r="2.6" fill="#5aa0e8" stroke="#36608b" stroke-width="0.45"/>
<circle cx="436.1" cy="306.8" r="2.6" fill="#4a70d0" stroke="#2c437c" stroke-width="0.45"/>
<circle cx="430.7" cy="309.5" r="2.6" fill="#4a98e8" stroke="#2c5b8b" stroke-width="0.45"/>
<circle cx="421.8" cy="308.0" r="2.6" fill="#7a20c0" stroke="#491373" stroke-width="0.45"/>
<circle cx="417.3" cy="308.9" r="2.6" fill="#8a28c8" stroke="#521878" stroke-width="0.45"/>
<circle cx="418.9" cy="308.4" r="2.6" fill="#7a20c0" stroke="#491373" stroke-width="0.45"/>
<circle cx="445.2" cy="309.5" r="2.6" fill="#b0a8e8" stroke="#69648b" stroke-width="0.45"/>
<circle cx="398.0" cy="318.0" r="2.6" fill="#1414d4" stroke="#0c0c7f" stroke-width="0.45"/>
<circle cx="402.0" cy="318.0" r="2.6" fill="#1414d4" stroke="#0c0c7f" stroke-width="0.45"/>
<circle cx="406.0" cy="318.0" r="2.6" fill="#1414d4" stroke="#0c0c7f" stroke-width="0.45"/>
<circle cx="423.0" cy="316.2" r="2.6" fill="#1414d4" stroke="#0c0c7f" stroke-width="0.45"/>
<circle cx="427.5" cy="320.6" r="2.6" fill="#1a1ad8" stroke="#0f0f81" stroke-width="0.45"/>
<circle cx="423.5" cy="318.2" r="2.6" fill="#1414d4" stroke="#0c0c7f" stroke-width="0.45"/>
<circle cx="426.7" cy="317.8" r="2.6" fill="#1a1ad8" stroke="#0f0f81" stroke-width="0.45"/>
<circle cx="421.5" cy="317.6" r="2.6" fill="#1414d4" stroke="#0c0c7f" stroke-width="0.45"/>
<circle cx="418.7" cy="318.0" r="2.6" fill="#1a1ad8" stroke="#0f0f81" stroke-width="0.45"/>
<circle cx="429.7" cy="318.2" r="2.6" fill="#1414d4" stroke="#0c0c7f" stroke-width="0.45"/>
<circle cx="426.0" cy="316.3" r="2.6" fill="#1a1ad8" stroke="#0f0f81" stroke-width="0.45"/>
<circle cx="427.6" cy="315.4" r="2.6" fill="#1414d4" stroke="#0c0c7f" stroke-width="0.45"/>
<circle cx="425.5" cy="319.5" r="2.6" fill="#1a1ad8" stroke="#0f0f81" stroke-width="0.45"/>
<circle cx="423.2" cy="319.9" r="2.6" fill="#1414d4" stroke="#0c0c7f" stroke-width="0.45"/>
<circle cx="419.7" cy="316.3" r="2.6" fill="#1a1ad8" stroke="#0f0f81" stroke-width="0.45"/>
<circle cx="419.6" cy="320.1" r="2.6" fill="#1414d4" stroke="#0c0c7f" stroke-width="0.45"/>
<circle cx="447.0" cy="316.6" r="2.6" fill="#1414d4" stroke="#0c0c7f" stroke-width="0.45"/>
<circle cx="451.0" cy="316.6" r="2.6" fill="#1414d4" stroke="#0c0c7f" stroke-width="0.45"/>
<circle cx="455.0" cy="316.6" r="2.6" fill="#1414d4" stroke="#0c0c7f" stroke-width="0.45"/>
<circle cx="459.0" cy="316.6" r="2.6" fill="#1414d4" stroke="#0c0c7f" stroke-width="0.45"/>
<circle cx="464.0" cy="317.4" r="2.6" fill="#a8c424" stroke="#647515" stroke-width="0.45"/>
<circle cx="430.4" cy="325.4" r="2.6" fill="#1414d4" stroke="#0c0c7f" stroke-width="0.45"/>
<circle cx="429.6" cy="329.9" r="2.6" fill="#1a1ad8" stroke="#0f0f81" stroke-width="0.45"/>
<circle cx="426.8" cy="325.0" r="2.6" fill="#2424e0" stroke="#151586" stroke-width="0.45"/>
<circle cx="427.7" cy="334.1" r="2.6" fill="#1414d4" stroke="#0c0c7f" stroke-width="0.45"/>
<circle cx="424.6" cy="333.7" r="2.6" fill="#1a1ad8" stroke="#0f0f81" stroke-width="0.45"/>
<circle cx="423.0" cy="329.7" r="2.6" fill="#2424e0" stroke="#151586" stroke-width="0.45"/>
<circle cx="438.5" cy="331.8" r="2.6" fill="#1414d4" stroke="#0c0c7f" stroke-width="0.45"/>
<circle cx="433.6" cy="331.6" r="2.6" fill="#1a1ad8" stroke="#0f0f81" stroke-width="0.45"/>
<circle cx="436.9" cy="326.2" r="2.6" fill="#2424e0" stroke="#151586" stroke-width="0.45"/>
<circle cx="425.2" cy="326.1" r="2.6" fill="#1414d4" stroke="#0c0c7f" stroke-width="0.45"/>
<circle cx="428.8" cy="331.7" r="2.6" fill="#1a1ad8" stroke="#0f0f81" stroke-width="0.45"/>
<circle cx="429.5" cy="334.6" r="2.6" fill="#2424e0" stroke="#151586" stroke-width="0.45"/>
<circle cx="428.5" cy="336.8" r="2.6" fill="#1414d4" stroke="#0c0c7f" stroke-width="0.45"/>
<circle cx="428.2" cy="323.0" r="2.6" fill="#1a1ad8" stroke="#0f0f81" stroke-width="0.45"/>
<circle cx="421.4" cy="327.6" r="2.6" fill="#2424e0" stroke="#151586" stroke-width="0.45"/>
<circle cx="420.9" cy="331.7" r="2.6" fill="#1414d4" stroke="#0c0c7f" stroke-width="0.45"/>
<circle cx="425.2" cy="330.6" r="2.6" fill="#1a1ad8" stroke="#0f0f81" stroke-width="0.45"/>
<circle cx="434.5" cy="325.3" r="2.6" fill="#2424e0" stroke="#151586" stroke-width="0.45"/>
<circle cx="431.3" cy="332.0" r="2.6" fill="#1414d4" stroke="#0c0c7f" stroke-width="0.45"/>
<circle cx="438.5" cy="328.3" r="2.6" fill="#1a1ad8" stroke="#0f0f81" stroke-width="0.45"/>
<circle cx="426.4" cy="323.4" r="2.6" fill="#2424e0" stroke="#151586" stroke-width="0.45"/>
<circle cx="423.7" cy="327.7" r="2.6" fill="#1414d4" stroke="#0c0c7f" stroke-width="0.45"/>
<circle cx="437.4" cy="334.8" r="2.6" fill="#1a1ad8" stroke="#0f0f81" stroke-width="0.45"/>
<circle cx="436.9" cy="328.3" r="2.6" fill="#2424e0" stroke="#151586" stroke-width="0.45"/>
<circle cx="431.6" cy="323.0" r="2.6" fill="#1414d4" stroke="#0c0c7f" stroke-width="0.45"/>
<circle cx="435.5" cy="333.9" r="2.6" fill="#1a1ad8" stroke="#0f0f81" stroke-width="0.45"/>
<circle cx="427.5" cy="330.6" r="2.6" fill="#2424e0" stroke="#151586" stroke-width="0.45"/>
<circle cx="433.2" cy="323.0" r="2.6" fill="#1414d4" stroke="#0c0c7f" stroke-width="0.45"/>
<circle cx="434.7" cy="330.5" r="2.6" fill="#1a1ad8" stroke="#0f0f81" stroke-width="0.45"/>
<circle cx="423.5" cy="331.8" r="2.6" fill="#2424e0" stroke="#151586" stroke-width="0.45"/>
<circle cx="422.5" cy="326.1" r="2.6" fill="#1414d4" stroke="#0c0c7f" stroke-width="0.45"/>
<circle cx="431.1" cy="337.1" r="2.6" fill="#1a1ad8" stroke="#0f0f81" stroke-width="0.45"/>
<circle cx="433.3" cy="337.1" r="2.6" fill="#2424e0" stroke="#151586" stroke-width="0.45"/>
<circle cx="437.5" cy="330.4" r="2.6" fill="#1414d4" stroke="#0c0c7f" stroke-width="0.45"/>
<circle cx="431.2" cy="328.0" r="2.6" fill="#1a1ad8" stroke="#0f0f81" stroke-width="0.45"/>
<circle cx="422.0" cy="334.1" r="2.6" fill="#2424e0" stroke="#151586" stroke-width="0.45"/>
<circle cx="432.8" cy="329.6" r="2.6" fill="#1414d4" stroke="#0c0c7f" stroke-width="0.45"/>
<circle cx="426.7" cy="336.1" r="2.6" fill="#1a1ad8" stroke="#0f0f81" stroke-width="0.45"/>
<circle cx="431.9" cy="334.0" r="2.6" fill="#2424e0" stroke="#151586" stroke-width="0.45"/>
<circle cx="433.4" cy="327.2" r="2.6" fill="#1414d4" stroke="#0c0c7f" stroke-width="0.45"/>
<circle cx="432.8" cy="325.5" r="2.6" fill="#1a1ad8" stroke="#0f0f81" stroke-width="0.45"/>
<circle cx="427.0" cy="331.9" r="2.6" fill="#2424e0" stroke="#151586" stroke-width="0.45"/>
<circle cx="428.9" cy="328.4" r="2.6" fill="#1414d4" stroke="#0c0c7f" stroke-width="0.45"/>
<circle cx="425.6" cy="328.3" r="2.6" fill="#1a1ad8" stroke="#0f0f81" stroke-width="0.45"/>
<circle cx="435.7" cy="332.6" r="2.6" fill="#2424e0" stroke="#151586" stroke-width="0.45"/>
<circle cx="419.1" cy="330.6" r="2.6" fill="#1414d4" stroke="#0c0c7f" stroke-width="0.45"/>
<circle cx="420.9" cy="333.2" r="2.6" fill="#1a1ad8" stroke="#0f0f81" stroke-width="0.45"/>
<circle cx="423.6" cy="332.4" r="2.6" fill="#1414d4" stroke="#0c0c7f" stroke-width="0.45"/>
<circle cx="416.0" cy="333.6" r="2.6" fill="#1a1ad8" stroke="#0f0f81" stroke-width="0.45"/>
<circle cx="417.5" cy="335.0" r="2.6" fill="#1414d4" stroke="#0c0c7f" stroke-width="0.45"/>
<circle cx="416.4" cy="331.2" r="2.6" fill="#1a1ad8" stroke="#0f0f81" stroke-width="0.45"/>
<circle cx="413.2" cy="333.2" r="2.6" fill="#1414d4" stroke="#0c0c7f" stroke-width="0.45"/>
<circle cx="421.4" cy="334.9" r="2.6" fill="#1a1ad8" stroke="#0f0f81" stroke-width="0.45"/>
<circle cx="417.5" cy="332.8" r="2.6" fill="#1414d4" stroke="#0c0c7f" stroke-width="0.45"/>
<circle cx="414.6" cy="330.3" r="2.6" fill="#1a1ad8" stroke="#0f0f81" stroke-width="0.45"/>
<circle cx="422.3" cy="330.8" r="2.6" fill="#1414d4" stroke="#0c0c7f" stroke-width="0.45"/>
<circle cx="419.9" cy="334.6" r="2.6" fill="#1a1ad8" stroke="#0f0f81" stroke-width="0.45"/>
<circle cx="414.6" cy="335.1" r="2.6" fill="#1414d4" stroke="#0c0c7f" stroke-width="0.45"/>
<circle cx="444.2" cy="329.4" r="2.6" fill="#1414d4" stroke="#0c0c7f" stroke-width="0.45"/>
<circle cx="446.0" cy="325.5" r="2.6" fill="#1414d4" stroke="#0c0c7f" stroke-width="0.45"/>
<circle cx="444.6" cy="327.4" r="2.6" fill="#1414d4" stroke="#0c0c7f" stroke-width="0.45"/>
<circle cx="439.5" cy="327.9" r="2.6" fill="#1414d4" stroke="#0c0c7f" stroke-width="0.45"/>
<circle cx="449.3" cy="327.9" r="2.6" fill="#1414d4" stroke="#0c0c7f" stroke-width="0.45"/>
<circle cx="445.6" cy="330.1" r="2.6" fill="#1414d4" stroke="#0c0c7f" stroke-width="0.45"/>
<circle cx="447.8" cy="327.3" r="2.6" fill="#1414d4" stroke="#0c0c7f" stroke-width="0.45"/>
<circle cx="442.6" cy="327.8" r="2.6" fill="#1414d4" stroke="#0c0c7f" stroke-width="0.45"/>
<circle cx="443.6" cy="324.7" r="2.6" fill="#1414d4" stroke="#0c0c7f" stroke-width="0.45"/>
<circle cx="465.5" cy="335.5" r="2.6" fill="#1414d4" stroke="#0c0c7f" stroke-width="0.45"/>
<circle cx="469.0" cy="336.5" r="2.6" fill="#1414d4" stroke="#0c0c7f" stroke-width="0.45"/>
<circle cx="395.6" cy="340.0" r="2.6" fill="#1414d4" stroke="#0c0c7f" stroke-width="0.45"/>
<circle cx="422.5" cy="340.4" r="2.6" fill="#1a1ad8" stroke="#0f0f81" stroke-width="0.45"/>
<circle cx="417.8" cy="340.7" r="2.6" fill="#2020e0" stroke="#131386" stroke-width="0.45"/>
<circle cx="414.7" cy="340.0" r="2.6" fill="#1414d4" stroke="#0c0c7f" stroke-width="0.45"/>
<circle cx="383.1" cy="340.8" r="2.6" fill="#1a1ad8" stroke="#0f0f81" stroke-width="0.45"/>
<circle cx="402.1" cy="340.6" r="2.6" fill="#2020e0" stroke="#131386" stroke-width="0.45"/>
<circle cx="427.2" cy="341.0" r="2.6" fill="#1414d4" stroke="#0c0c7f" stroke-width="0.45"/>
<circle cx="406.6" cy="338.8" r="2.6" fill="#1a1ad8" stroke="#0f0f81" stroke-width="0.45"/>
<circle cx="405.8" cy="342.9" r="2.6" fill="#2020e0" stroke="#131386" stroke-width="0.45"/>
<circle cx="387.7" cy="340.4" r="2.6" fill="#1414d4" stroke="#0c0c7f" stroke-width="0.45"/>
<circle cx="405.7" cy="340.7" r="2.6" fill="#1a1ad8" stroke="#0f0f81" stroke-width="0.45"/>
<circle cx="419.6" cy="340.2" r="2.6" fill="#2020e0" stroke="#131386" stroke-width="0.45"/>
<circle cx="409.3" cy="340.3" r="2.6" fill="#1414d4" stroke="#0c0c7f" stroke-width="0.45"/>
<circle cx="408.9" cy="342.6" r="2.6" fill="#1a1ad8" stroke="#0f0f81" stroke-width="0.45"/>
<circle cx="380.7" cy="340.4" r="2.6" fill="#2020e0" stroke="#131386" stroke-width="0.45"/>
<circle cx="389.3" cy="340.8" r="2.6" fill="#1414d4" stroke="#0c0c7f" stroke-width="0.45"/>
<circle cx="412.4" cy="340.1" r="2.6" fill="#1a1ad8" stroke="#0f0f81" stroke-width="0.45"/>
<circle cx="404.0" cy="338.2" r="2.6" fill="#2020e0" stroke="#131386" stroke-width="0.45"/>
<circle cx="401.0" cy="343.1" r="2.6" fill="#1414d4" stroke="#0c0c7f" stroke-width="0.45"/>
<circle cx="407.6" cy="340.2" r="2.6" fill="#1a1ad8" stroke="#0f0f81" stroke-width="0.45"/>
<circle cx="397.9" cy="339.9" r="2.6" fill="#2020e0" stroke="#131386" stroke-width="0.45"/>
<circle cx="401.6" cy="337.8" r="2.6" fill="#1414d4" stroke="#0c0c7f" stroke-width="0.45"/>
<circle cx="392.4" cy="340.5" r="2.6" fill="#1a1ad8" stroke="#0f0f81" stroke-width="0.45"/>
<circle cx="425.7" cy="340.3" r="2.6" fill="#2020e0" stroke="#131386" stroke-width="0.45"/>
<circle cx="408.4" cy="337.8" r="2.6" fill="#1414d4" stroke="#0c0c7f" stroke-width="0.45"/>
<circle cx="385.4" cy="340.9" r="2.6" fill="#1a1ad8" stroke="#0f0f81" stroke-width="0.45"/>
<circle cx="403.8" cy="343.0" r="2.6" fill="#2020e0" stroke="#131386" stroke-width="0.45"/>
<circle cx="400.3" cy="340.9" r="2.6" fill="#1414d4" stroke="#0c0c7f" stroke-width="0.45"/>
<circle cx="429.5" cy="340.6" r="2.6" fill="#1a1ad8" stroke="#0f0f81" stroke-width="0.45"/>
<circle cx="430.0" cy="335.6" r="2.6" fill="#5a8a30" stroke="#36521c" stroke-width="0.45"/>
<circle cx="393.0" cy="341.0" r="2.6" fill="#a8c424" stroke="#647515" stroke-width="0.45"/>
<circle cx="363.0" cy="342.0" r="2.6" fill="#a8c424" stroke="#647515" stroke-width="0.45"/>
<circle cx="399.6" cy="339.9" r="2.6" fill="#6a30b0" stroke="#3f1c69" stroke-width="0.45"/>
<circle cx="404.5" cy="340.8" r="2.6" fill="#6a30b0" stroke="#3f1c69" stroke-width="0.45"/>
<circle cx="402.0" cy="341.1" r="2.6" fill="#6a30b0" stroke="#3f1c69" stroke-width="0.45"/>
<circle cx="455.2" cy="352.1" r="2.6" fill="#f4e4f0" stroke="#928890" stroke-width="0.45"/>
<circle cx="458.6" cy="357.0" r="2.6" fill="#f4e8f2" stroke="#928b91" stroke-width="0.45"/>
<circle cx="458.3" cy="351.0" r="2.6" fill="#ecd4e4" stroke="#8d7f88" stroke-width="0.45"/>
<circle cx="459.6" cy="348.0" r="2.6" fill="#f8ecf4" stroke="#948d92" stroke-width="0.45"/>
<circle cx="460.7" cy="356.1" r="2.6" fill="#f4e4f0" stroke="#928890" stroke-width="0.45"/>
<circle cx="454.4" cy="357.1" r="2.6" fill="#f4e8f2" stroke="#928b91" stroke-width="0.45"/>
<circle cx="457.1" cy="353.7" r="2.6" fill="#ecd4e4" stroke="#8d7f88" stroke-width="0.45"/>
<circle cx="459.3" cy="359.7" r="2.6" fill="#f8ecf4" stroke="#948d92" stroke-width="0.45"/>
<circle cx="452.8" cy="351.6" r="2.6" fill="#f4e4f0" stroke="#928890" stroke-width="0.45"/>
<circle cx="454.1" cy="358.9" r="2.6" fill="#f4e8f2" stroke="#928b91" stroke-width="0.45"/>
<circle cx="460.5" cy="350.8" r="2.6" fill="#ecd4e4" stroke="#8d7f88" stroke-width="0.45"/>
<circle cx="452.6" cy="357.3" r="2.6" fill="#f8ecf4" stroke="#948d92" stroke-width="0.45"/>
<circle cx="458.9" cy="354.2" r="2.6" fill="#f4e4f0" stroke="#928890" stroke-width="0.45"/>
<circle cx="456.3" cy="359.3" r="2.6" fill="#f4e8f2" stroke="#928b91" stroke-width="0.45"/>
<circle cx="452.8" cy="348.8" r="2.6" fill="#ecd4e4" stroke="#8d7f88" stroke-width="0.45"/>
<circle cx="456.4" cy="348.3" r="2.6" fill="#f8ecf4" stroke="#948d92" stroke-width="0.45"/>
<circle cx="452.6" cy="354.4" r="2.6" fill="#f4e4f0" stroke="#928890" stroke-width="0.45"/>
<circle cx="465.8" cy="344.3" r="2.6" fill="#f4e4f0" stroke="#928890" stroke-width="0.45"/>
<circle cx="462.3" cy="343.7" r="2.6" fill="#f4e8f2" stroke="#928b91" stroke-width="0.45"/>
<circle cx="471.5" cy="343.3" r="2.6" fill="#ecd4e4" stroke="#8d7f88" stroke-width="0.45"/>
<circle cx="469.6" cy="343.5" r="2.6" fill="#f4e4f0" stroke="#928890" stroke-width="0.45"/>
<circle cx="459.4" cy="343.1" r="2.6" fill="#f4e8f2" stroke="#928b91" stroke-width="0.45"/>
<circle cx="467.3" cy="341.8" r="2.6" fill="#c07090" stroke="#734356" stroke-width="0.45"/>
<circle cx="459.8" cy="342.5" r="2.6" fill="#b06080" stroke="#69394c" stroke-width="0.45"/>
<circle cx="461.3" cy="341.4" r="2.6" fill="#d090a8" stroke="#7c5664" stroke-width="0.45"/>
<circle cx="465.2" cy="341.6" r="2.6" fill="#c07090" stroke="#734356" stroke-width="0.45"/>
<circle cx="456.4" cy="341.4" r="2.6" fill="#b06080" stroke="#69394c" stroke-width="0.45"/>
<circle cx="452.9" cy="361.0" r="2.6" fill="#d02c5a" stroke="#7c1a36" stroke-width="0.45"/>
<circle cx="452.8" cy="366.0" r="2.6" fill="#e090a8" stroke="#865664" stroke-width="0.45"/>
<circle cx="447.8" cy="365.3" r="2.6" fill="#c06484" stroke="#733c4f" stroke-width="0.45"/>
<circle cx="450.3" cy="356.5" r="2.6" fill="#d06080" stroke="#7c394c" stroke-width="0.45"/>
<circle cx="449.3" cy="354.9" r="2.6" fill="#d02c5a" stroke="#7c1a36" stroke-width="0.45"/>
<circle cx="449.9" cy="352.5" r="2.6" fill="#e090a8" stroke="#865664" stroke-width="0.45"/>
<circle cx="451.5" cy="355.3" r="2.6" fill="#c06484" stroke="#733c4f" stroke-width="0.45"/>
<circle cx="451.6" cy="350.3" r="2.6" fill="#d06080" stroke="#7c394c" stroke-width="0.45"/>
<circle cx="448.9" cy="346.1" r="2.6" fill="#d02c5a" stroke="#7c1a36" stroke-width="0.45"/>
<circle cx="449.4" cy="359.0" r="2.6" fill="#e090a8" stroke="#865664" stroke-width="0.45"/>
<circle cx="447.4" cy="348.3" r="2.6" fill="#c06484" stroke="#733c4f" stroke-width="0.45"/>
<circle cx="451.3" cy="346.1" r="2.6" fill="#d06080" stroke="#7c394c" stroke-width="0.45"/>
<circle cx="447.7" cy="352.7" r="2.6" fill="#d02c5a" stroke="#7c1a36" stroke-width="0.45"/>
<circle cx="452.7" cy="352.2" r="2.6" fill="#e090a8" stroke="#865664" stroke-width="0.45"/>
<circle cx="450.7" cy="361.0" r="2.6" fill="#c06484" stroke="#733c4f" stroke-width="0.45"/>
<circle cx="448.1" cy="350.9" r="2.6" fill="#d06080" stroke="#7c394c" stroke-width="0.45"/>
<circle cx="447.1" cy="357.3" r="2.6" fill="#d02c5a" stroke="#7c1a36" stroke-width="0.45"/>
<circle cx="451.8" cy="368.1" r="2.6" fill="#e090a8" stroke="#865664" stroke-width="0.45"/>
<circle cx="449.3" cy="363.7" r="2.6" fill="#c06484" stroke="#733c4f" stroke-width="0.45"/>
<circle cx="450.8" cy="363.7" r="2.6" fill="#d06080" stroke="#7c394c" stroke-width="0.45"/>
<circle cx="450.2" cy="347.8" r="2.6" fill="#d02c5a" stroke="#7c1a36" stroke-width="0.45"/>
<circle cx="449.9" cy="365.8" r="2.6" fill="#e090a8" stroke="#865664" stroke-width="0.45"/>
<circle cx="447.1" cy="361.0" r="2.6" fill="#c06484" stroke="#733c4f" stroke-width="0.45"/>
<circle cx="450.9" cy="359.1" r="2.6" fill="#d06080" stroke="#7c394c" stroke-width="0.45"/>
<circle cx="452.4" cy="348.4" r="2.6" fill="#d02c5a" stroke="#7c1a36" stroke-width="0.45"/>
<circle cx="452.6" cy="357.1" r="2.6" fill="#e090a8" stroke="#865664" stroke-width="0.45"/>
<circle cx="449.4" cy="368.0" r="2.6" fill="#c06484" stroke="#733c4f" stroke-width="0.45"/>
<circle cx="438.7" cy="378.7" r="2.6" fill="#d02858" stroke="#7c1834" stroke-width="0.45"/>
<circle cx="443.1" cy="372.4" r="2.6" fill="#d02c5a" stroke="#7c1a36" stroke-width="0.45"/>
<circle cx="437.3" cy="363.5" r="2.6" fill="#c06484" stroke="#733c4f" stroke-width="0.45"/>
<circle cx="445.7" cy="364.3" r="2.6" fill="#c83060" stroke="#781c39" stroke-width="0.45"/>
<circle cx="437.2" cy="370.4" r="2.6" fill="#d02858" stroke="#7c1834" stroke-width="0.45"/>
<circle cx="437.2" cy="374.8" r="2.6" fill="#d02c5a" stroke="#7c1a36" stroke-width="0.45"/>
<circle cx="446.3" cy="366.0" r="2.6" fill="#c06484" stroke="#733c4f" stroke-width="0.45"/>
<circle cx="443.4" cy="362.4" r="2.6" fill="#c83060" stroke="#781c39" stroke-width="0.45"/>
<circle cx="439.6" cy="368.9" r="2.6" fill="#d02858" stroke="#7c1834" stroke-width="0.45"/>
<circle cx="442.0" cy="374.3" r="2.6" fill="#d02c5a" stroke="#7c1a36" stroke-width="0.45"/>
<circle cx="441.5" cy="366.0" r="2.6" fill="#c06484" stroke="#733c4f" stroke-width="0.45"/>
<circle cx="442.6" cy="364.4" r="2.6" fill="#c83060" stroke="#781c39" stroke-width="0.45"/>
<circle cx="441.7" cy="378.8" r="2.6" fill="#d02858" stroke="#7c1834" stroke-width="0.45"/>
<circle cx="444.2" cy="375.0" r="2.6" fill="#d02c5a" stroke="#7c1a36" stroke-width="0.45"/>
<circle cx="444.5" cy="379.5" r="2.6" fill="#c06484" stroke="#733c4f" stroke-width="0.45"/>
<circle cx="439.4" cy="370.5" r="2.6" fill="#c83060" stroke="#781c39" stroke-width="0.45"/>
<circle cx="437.5" cy="368.5" r="2.6" fill="#d02858" stroke="#7c1834" stroke-width="0.45"/>
<circle cx="438.6" cy="366.2" r="2.6" fill="#d02c5a" stroke="#7c1a36" stroke-width="0.45"/>
<circle cx="445.0" cy="377.1" r="2.6" fill="#c06484" stroke="#733c4f" stroke-width="0.45"/>
<circle cx="440.6" cy="363.8" r="2.6" fill="#c83060" stroke="#781c39" stroke-width="0.45"/>
<circle cx="443.4" cy="377.0" r="2.6" fill="#d02858" stroke="#7c1834" stroke-width="0.45"/>
<circle cx="441.0" cy="362.3" r="2.6" fill="#d02c5a" stroke="#7c1a36" stroke-width="0.45"/>
<circle cx="443.5" cy="371.1" r="2.6" fill="#c06484" stroke="#733c4f" stroke-width="0.45"/>
<circle cx="442.4" cy="368.1" r="2.6" fill="#c83060" stroke="#781c39" stroke-width="0.45"/>
<circle cx="439.0" cy="374.2" r="2.6" fill="#d02858" stroke="#7c1834" stroke-width="0.45"/>
<circle cx="440.2" cy="376.7" r="2.6" fill="#d02c5a" stroke="#7c1a36" stroke-width="0.45"/>
<circle cx="435.8" cy="365.8" r="2.6" fill="#c06484" stroke="#733c4f" stroke-width="0.45"/>
<circle cx="438.5" cy="377.3" r="2.6" fill="#c83060" stroke="#781c39" stroke-width="0.45"/>
<circle cx="445.5" cy="367.7" r="2.6" fill="#d02858" stroke="#7c1834" stroke-width="0.45"/>
<circle cx="440.9" cy="370.2" r="2.6" fill="#d02c5a" stroke="#7c1a36" stroke-width="0.45"/>
<circle cx="444.0" cy="366.6" r="2.6" fill="#c06484" stroke="#733c4f" stroke-width="0.45"/>
<circle cx="438.9" cy="361.3" r="2.6" fill="#c83060" stroke="#781c39" stroke-width="0.45"/>
<circle cx="447.1" cy="370.7" r="2.6" fill="#d02858" stroke="#7c1834" stroke-width="0.45"/>
<circle cx="439.9" cy="373.3" r="2.6" fill="#d02c5a" stroke="#7c1a36" stroke-width="0.45"/>
<circle cx="445.2" cy="372.1" r="2.6" fill="#c06484" stroke="#733c4f" stroke-width="0.45"/>
<circle cx="446.6" cy="375.3" r="2.6" fill="#c83060" stroke="#781c39" stroke-width="0.45"/>
<circle cx="438.3" cy="372.8" r="2.6" fill="#d02858" stroke="#7c1834" stroke-width="0.45"/>
<circle cx="439.7" cy="347.4" r="2.6" fill="#f0c0d0" stroke="#90737c" stroke-width="0.45"/>
<circle cx="442.2" cy="353.2" r="2.6" fill="#e8a0b8" stroke="#8b606e" stroke-width="0.45"/>
<circle cx="440.2" cy="353.1" r="2.6" fill="#f0c0d0" stroke="#90737c" stroke-width="0.45"/>
<circle cx="442.3" cy="346.9" r="2.6" fill="#e8a0b8" stroke="#8b606e" stroke-width="0.45"/>
<circle cx="441.6" cy="350.6" r="2.6" fill="#f0c0d0" stroke="#90737c" stroke-width="0.45"/>
<circle cx="448.5" cy="370.6" r="2.6" fill="#8a5a20" stroke="#523613" stroke-width="0.45"/>
<circle cx="461.6" cy="370.0" r="2.6" fill="#c06484" stroke="#733c4f" stroke-width="0.45"/>
<circle cx="457.5" cy="382.6" r="2.6" fill="#9a7010" stroke="#5c4309" stroke-width="0.45"/>
<circle cx="454.5" cy="378.6" r="2.6" fill="#8a7010" stroke="#524309" stroke-width="0.45"/>
<circle cx="454.3" cy="383.2" r="2.6" fill="#9a7010" stroke="#5c4309" stroke-width="0.45"/>
<circle cx="457.5" cy="378.8" r="2.6" fill="#8a7010" stroke="#524309" stroke-width="0.45"/>
<circle cx="453.9" cy="380.5" r="2.6" fill="#9a7010" stroke="#5c4309" stroke-width="0.45"/>
<circle cx="459.2" cy="380.0" r="2.6" fill="#8a7010" stroke="#524309" stroke-width="0.45"/>
<circle cx="456.6" cy="380.9" r="2.6" fill="#9a7010" stroke="#5c4309" stroke-width="0.45"/>
<circle cx="456.1" cy="391.6" r="2.6" fill="#9a7010" stroke="#5c4309" stroke-width="0.45"/>
<circle cx="455.9" cy="389.2" r="2.6" fill="#d8701a" stroke="#81430f" stroke-width="0.45"/>
<circle cx="459.8" cy="393.3" r="2.6" fill="#a08010" stroke="#604c09" stroke-width="0.45"/>
<circle cx="453.7" cy="390.6" r="2.6" fill="#d87010" stroke="#814309" stroke-width="0.45"/>
<circle cx="457.6" cy="388.4" r="2.6" fill="#9a7010" stroke="#5c4309" stroke-width="0.45"/>
<circle cx="451.1" cy="386.4" r="2.6" fill="#d8701a" stroke="#81430f" stroke-width="0.45"/>
<circle cx="463.6" cy="388.7" r="2.6" fill="#a08010" stroke="#604c09" stroke-width="0.45"/>
<circle cx="464.9" cy="387.3" r="2.6" fill="#d87010" stroke="#814309" stroke-width="0.45"/>
<circle cx="457.7" cy="393.8" r="2.6" fill="#9a7010" stroke="#5c4309" stroke-width="0.45"/>
<circle cx="451.4" cy="390.6" r="2.6" fill="#d8701a" stroke="#81430f" stroke-width="0.45"/>
<circle cx="455.0" cy="384.9" r="2.6" fill="#a08010" stroke="#604c09" stroke-width="0.45"/>
<circle cx="462.0" cy="387.1" r="2.6" fill="#d87010" stroke="#814309" stroke-width="0.45"/>
<circle cx="454.9" cy="386.9" r="2.6" fill="#9a7010" stroke="#5c4309" stroke-width="0.45"/>
<circle cx="459.2" cy="387.4" r="2.6" fill="#d8701a" stroke="#81430f" stroke-width="0.45"/>
<circle cx="450.2" cy="388.6" r="2.6" fill="#a08010" stroke="#604c09" stroke-width="0.45"/>
<circle cx="465.5" cy="388.5" r="2.6" fill="#d87010" stroke="#814309" stroke-width="0.45"/>
<circle cx="455.2" cy="392.7" r="2.6" fill="#9a7010" stroke="#5c4309" stroke-width="0.45"/>
<circle cx="460.7" cy="385.3" r="2.6" fill="#d8701a" stroke="#81430f" stroke-width="0.45"/>
<circle cx="461.0" cy="390.9" r="2.6" fill="#a08010" stroke="#604c09" stroke-width="0.45"/>
<circle cx="459.8" cy="388.9" r="2.6" fill="#d87010" stroke="#814309" stroke-width="0.45"/>
<circle cx="457.6" cy="384.7" r="2.6" fill="#9a7010" stroke="#5c4309" stroke-width="0.45"/>
<circle cx="456.5" cy="386.6" r="2.6" fill="#d8701a" stroke="#81430f" stroke-width="0.45"/>
<circle cx="453.6" cy="389.1" r="2.6" fill="#a08010" stroke="#604c09" stroke-width="0.45"/>
<circle cx="464.5" cy="390.5" r="2.6" fill="#d87010" stroke="#814309" stroke-width="0.45"/>
<circle cx="459.4" cy="391.5" r="2.6" fill="#9a7010" stroke="#5c4309" stroke-width="0.45"/>
<circle cx="446.6" cy="406.7" r="2.6" fill="#d02c5a" stroke="#7c1a36" stroke-width="0.45"/>
<circle cx="451.3" cy="402.7" r="2.6" fill="#d83060" stroke="#811c39" stroke-width="0.45"/>
<circle cx="446.5" cy="397.9" r="2.6" fill="#c06484" stroke="#733c4f" stroke-width="0.45"/>
<circle cx="448.9" cy="397.5" r="2.6" fill="#d8701a" stroke="#81430f" stroke-width="0.45"/>
<circle cx="446.8" cy="393.9" r="2.6" fill="#d02c5a" stroke="#7c1a36" stroke-width="0.45"/>
<circle cx="442.9" cy="400.6" r="2.6" fill="#d83060" stroke="#811c39" stroke-width="0.45"/>
<circle cx="455.9" cy="400.5" r="2.6" fill="#c06484" stroke="#733c4f" stroke-width="0.45"/>
<circle cx="449.8" cy="405.9" r="2.6" fill="#d8701a" stroke="#81430f" stroke-width="0.45"/>
<circle cx="451.0" cy="395.6" r="2.6" fill="#d02c5a" stroke="#7c1a36" stroke-width="0.45"/>
<circle cx="450.1" cy="400.4" r="2.6" fill="#d83060" stroke="#811c39" stroke-width="0.45"/>
<circle cx="446.2" cy="400.2" r="2.6" fill="#c06484" stroke="#733c4f" stroke-width="0.45"/>
<circle cx="446.5" cy="402.4" r="2.6" fill="#d8701a" stroke="#81430f" stroke-width="0.45"/>
<circle cx="449.2" cy="402.6" r="2.6" fill="#d02c5a" stroke="#7c1a36" stroke-width="0.45"/>
<circle cx="451.5" cy="393.7" r="2.6" fill="#d83060" stroke="#811c39" stroke-width="0.45"/>
<circle cx="444.1" cy="407.1" r="2.6" fill="#c06484" stroke="#733c4f" stroke-width="0.45"/>
<circle cx="444.7" cy="402.2" r="2.6" fill="#d8701a" stroke="#81430f" stroke-width="0.45"/>
<circle cx="443.5" cy="393.1" r="2.6" fill="#d02c5a" stroke="#7c1a36" stroke-width="0.45"/>
<circle cx="444.6" cy="397.9" r="2.6" fill="#d83060" stroke="#811c39" stroke-width="0.45"/>
<circle cx="449.0" cy="393.3" r="2.6" fill="#c06484" stroke="#733c4f" stroke-width="0.45"/>
<circle cx="447.3" cy="404.8" r="2.6" fill="#d8701a" stroke="#81430f" stroke-width="0.45"/>
<circle cx="442.6" cy="404.7" r="2.6" fill="#d02c5a" stroke="#7c1a36" stroke-width="0.45"/>
<circle cx="443.5" cy="395.2" r="2.6" fill="#d83060" stroke="#811c39" stroke-width="0.45"/>
<circle cx="444.8" cy="404.6" r="2.6" fill="#c06484" stroke="#733c4f" stroke-width="0.45"/>
<circle cx="451.1" cy="404.6" r="2.6" fill="#d8701a" stroke="#81430f" stroke-width="0.45"/>
<circle cx="446.2" cy="395.7" r="2.6" fill="#d02c5a" stroke="#7c1a36" stroke-width="0.45"/>
<circle cx="447.4" cy="400.1" r="2.6" fill="#d83060" stroke="#811c39" stroke-width="0.45"/>
<circle cx="447.6" cy="395.8" r="2.6" fill="#c06484" stroke="#733c4f" stroke-width="0.45"/>
<circle cx="451.0" cy="406.8" r="2.6" fill="#d8701a" stroke="#81430f" stroke-width="0.45"/>
<circle cx="442.0" cy="397.9" r="2.6" fill="#d02c5a" stroke="#7c1a36" stroke-width="0.45"/>
<circle cx="452.3" cy="395.8" r="2.6" fill="#d83060" stroke="#811c39" stroke-width="0.45"/>
<circle cx="452.8" cy="404.0" r="2.6" fill="#c06484" stroke="#733c4f" stroke-width="0.45"/>
<circle cx="454.9" cy="402.0" r="2.6" fill="#d8701a" stroke="#81430f" stroke-width="0.45"/>
<circle cx="452.6" cy="400.1" r="2.6" fill="#d02c5a" stroke="#7c1a36" stroke-width="0.45"/>
<circle cx="451.8" cy="397.3" r="2.6" fill="#d83060" stroke="#811c39" stroke-width="0.45"/>
<circle cx="442.3" cy="402.6" r="2.6" fill="#c06484" stroke="#733c4f" stroke-width="0.45"/>
<circle cx="454.7" cy="398.4" r="2.6" fill="#d8701a" stroke="#81430f" stroke-width="0.45"/>
<circle cx="440.0" cy="400.2" r="2.6" fill="#d02c5a" stroke="#7c1a36" stroke-width="0.45"/>
<circle cx="447.1" cy="398.5" r="2.6" fill="#e07010" stroke="#864309" stroke-width="0.45"/>
<circle cx="444.8" cy="401.4" r="2.6" fill="#d86a10" stroke="#813f09" stroke-width="0.45"/>
<circle cx="446.0" cy="396.6" r="2.6" fill="#e07010" stroke="#864309" stroke-width="0.45"/>
<circle cx="443.1" cy="400.6" r="2.6" fill="#d86a10" stroke="#813f09" stroke-width="0.45"/>
<circle cx="440.8" cy="398.5" r="2.6" fill="#e07010" stroke="#864309" stroke-width="0.45"/>
<circle cx="444.7" cy="398.4" r="2.6" fill="#d86a10" stroke="#813f09" stroke-width="0.45"/>
<circle cx="442.3" cy="397.3" r="2.6" fill="#e07010" stroke="#864309" stroke-width="0.45"/>
<circle cx="452.0" cy="399.0" r="2.6" fill="#f0c020" stroke="#907313" stroke-width="0.45"/>
<circle cx="469.0" cy="395.0" r="2.6" fill="#c06484" stroke="#733c4f" stroke-width="0.45"/>
<circle cx="436.1" cy="411.8" r="2.6" fill="#e02058" stroke="#861334" stroke-width="0.45"/>
<circle cx="439.9" cy="408.7" r="2.6" fill="#d0285a" stroke="#7c1836" stroke-width="0.45"/>
<circle cx="438.0" cy="413.7" r="2.6" fill="#e02058" stroke="#861334" stroke-width="0.45"/>
<circle cx="437.4" cy="408.9" r="2.6" fill="#d0285a" stroke="#7c1836" stroke-width="0.45"/>
<circle cx="438.8" cy="410.9" r="2.6" fill="#e02058" stroke="#861334" stroke-width="0.45"/>
<circle cx="442.9" cy="412.1" r="2.6" fill="#d0285a" stroke="#7c1836" stroke-width="0.45"/>
<circle cx="441.6" cy="410.9" r="2.6" fill="#e02058" stroke="#861334" stroke-width="0.45"/>
<circle cx="433.0" cy="411.6" r="2.6" fill="#d0285a" stroke="#7c1836" stroke-width="0.45"/>
<circle cx="439.0" cy="413.3" r="2.6" fill="#e02058" stroke="#861334" stroke-width="0.45"/>
<circle cx="443.1" cy="414.9" r="2.6" fill="#c06484" stroke="#733c4f" stroke-width="0.45"/>
<circle cx="446.6" cy="419.2" r="2.6" fill="#c05878" stroke="#733448" stroke-width="0.45"/>
<circle cx="446.8" cy="414.9" r="2.6" fill="#b05070" stroke="#693043" stroke-width="0.45"/>
<circle cx="455.4" cy="416.2" r="2.6" fill="#c06484" stroke="#733c4f" stroke-width="0.45"/>
<circle cx="449.7" cy="416.3" r="2.6" fill="#c05878" stroke="#733448" stroke-width="0.45"/>
<circle cx="449.2" cy="419.2" r="2.6" fill="#b05070" stroke="#693043" stroke-width="0.45"/>
<circle cx="437.2" cy="417.1" r="2.6" fill="#c06484" stroke="#733c4f" stroke-width="0.45"/>
<circle cx="441.1" cy="418.7" r="2.6" fill="#c05878" stroke="#733448" stroke-width="0.45"/>
<circle cx="448.3" cy="413.8" r="2.6" fill="#b05070" stroke="#693043" stroke-width="0.45"/>
<circle cx="439.5" cy="415.9" r="2.6" fill="#c06484" stroke="#733c4f" stroke-width="0.45"/>
<circle cx="443.6" cy="418.2" r="2.6" fill="#c05878" stroke="#733448" stroke-width="0.45"/>
<circle cx="452.4" cy="417.1" r="2.6" fill="#b05070" stroke="#693043" stroke-width="0.45"/>
<circle cx="435.3" cy="415.9" r="2.6" fill="#c06484" stroke="#733c4f" stroke-width="0.45"/>
<circle cx="444.7" cy="416.3" r="2.6" fill="#c05878" stroke="#733448" stroke-width="0.45"/>
<circle cx="446.8" cy="416.4" r="2.6" fill="#b05070" stroke="#693043" stroke-width="0.45"/>
<circle cx="442.9" cy="417.1" r="2.6" fill="#c06484" stroke="#733c4f" stroke-width="0.45"/>
<circle cx="441.8" cy="414.9" r="2.6" fill="#c05878" stroke="#733448" stroke-width="0.45"/>
<circle cx="460.6" cy="428.9" r="2.6" fill="#d8701a" stroke="#81430f" stroke-width="0.45"/>
<circle cx="443.9" cy="426.1" r="2.6" fill="#a08a10" stroke="#605209" stroke-width="0.45"/>
<circle cx="446.5" cy="421.4" r="2.6" fill="#e06a10" stroke="#863f09" stroke-width="0.45"/>
<circle cx="466.0" cy="420.1" r="2.6" fill="#b87a10" stroke="#6e4909" stroke-width="0.45"/>
<circle cx="467.8" cy="419.8" r="2.6" fill="#d8701a" stroke="#81430f" stroke-width="0.45"/>
<circle cx="453.8" cy="430.6" r="2.6" fill="#a08a10" stroke="#605209" stroke-width="0.45"/>
<circle cx="452.8" cy="428.2" r="2.6" fill="#e06a10" stroke="#863f09" stroke-width="0.45"/>
<circle cx="473.6" cy="423.7" r="2.6" fill="#b87a10" stroke="#6e4909" stroke-width="0.45"/>
<circle cx="457.0" cy="417.4" r="2.6" fill="#d8701a" stroke="#81430f" stroke-width="0.45"/>
<circle cx="457.4" cy="422.3" r="2.6" fill="#a08a10" stroke="#605209" stroke-width="0.45"/>
<circle cx="459.5" cy="422.4" r="2.6" fill="#e06a10" stroke="#863f09" stroke-width="0.45"/>
<circle cx="460.7" cy="424.0" r="2.6" fill="#b87a10" stroke="#6e4909" stroke-width="0.45"/>
<circle cx="455.7" cy="420.1" r="2.6" fill="#d8701a" stroke="#81430f" stroke-width="0.45"/>
<circle cx="450.7" cy="424.3" r="2.6" fill="#a08a10" stroke="#605209" stroke-width="0.45"/>
<circle cx="462.5" cy="426.1" r="2.6" fill="#e06a10" stroke="#863f09" stroke-width="0.45"/>
<circle cx="464.4" cy="425.9" r="2.6" fill="#b87a10" stroke="#6e4909" stroke-width="0.45"/>
<circle cx="462.0" cy="417.4" r="2.6" fill="#d8701a" stroke="#81430f" stroke-width="0.45"/>
<circle cx="445.3" cy="420.1" r="2.6" fill="#a08a10" stroke="#605209" stroke-width="0.45"/>
<circle cx="458.6" cy="426.5" r="2.6" fill="#e06a10" stroke="#863f09" stroke-width="0.45"/>
<circle cx="466.4" cy="426.6" r="2.6" fill="#b87a10" stroke="#6e4909" stroke-width="0.45"/>
<circle cx="467.6" cy="424.1" r="2.6" fill="#d8701a" stroke="#81430f" stroke-width="0.45"/>
<circle cx="442.7" cy="424.2" r="2.6" fill="#a08a10" stroke="#605209" stroke-width="0.45"/>
<circle cx="449.9" cy="428.3" r="2.6" fill="#e06a10" stroke="#863f09" stroke-width="0.45"/>
<circle cx="470.0" cy="428.7" r="2.6" fill="#b87a10" stroke="#6e4909" stroke-width="0.45"/>
<circle cx="447.9" cy="423.5" r="2.6" fill="#d8701a" stroke="#81430f" stroke-width="0.45"/>
<circle cx="458.4" cy="427.8" r="2.6" fill="#a08a10" stroke="#605209" stroke-width="0.45"/>
<circle cx="464.8" cy="430.6" r="2.6" fill="#e06a10" stroke="#863f09" stroke-width="0.45"/>
<circle cx="466.2" cy="427.9" r="2.6" fill="#b87a10" stroke="#6e4909" stroke-width="0.45"/>
<circle cx="461.7" cy="430.0" r="2.6" fill="#d8701a" stroke="#81430f" stroke-width="0.45"/>
<circle cx="472.0" cy="421.9" r="2.6" fill="#a08a10" stroke="#605209" stroke-width="0.45"/>
<circle cx="465.6" cy="423.3" r="2.6" fill="#e06a10" stroke="#863f09" stroke-width="0.45"/>
<circle cx="459.0" cy="430.4" r="2.6" fill="#b87a10" stroke="#6e4909" stroke-width="0.45"/>
<circle cx="448.8" cy="421.6" r="2.6" fill="#d8701a" stroke="#81430f" stroke-width="0.45"/>
<circle cx="468.7" cy="426.3" r="2.6" fill="#a08a10" stroke="#605209" stroke-width="0.45"/>
<circle cx="461.5" cy="421.6" r="2.6" fill="#e06a10" stroke="#863f09" stroke-width="0.45"/>
<circle cx="454.7" cy="426.7" r="2.6" fill="#b87a10" stroke="#6e4909" stroke-width="0.45"/>
<circle cx="464.0" cy="417.5" r="2.6" fill="#d8701a" stroke="#81430f" stroke-width="0.45"/>
<circle cx="470.6" cy="420.3" r="2.6" fill="#a08a10" stroke="#605209" stroke-width="0.45"/>
<circle cx="446.8" cy="426.2" r="2.6" fill="#e06a10" stroke="#863f09" stroke-width="0.45"/>
<circle cx="443.6" cy="422.2" r="2.6" fill="#b87a10" stroke="#6e4909" stroke-width="0.45"/>
<circle cx="454.8" cy="423.5" r="2.6" fill="#d8701a" stroke="#81430f" stroke-width="0.45"/>
<circle cx="457.4" cy="430.3" r="2.6" fill="#a08a10" stroke="#605209" stroke-width="0.45"/>
<circle cx="451.6" cy="417.6" r="2.6" fill="#e06a10" stroke="#863f09" stroke-width="0.45"/>
<circle cx="452.5" cy="424.0" r="2.6" fill="#b87a10" stroke="#6e4909" stroke-width="0.45"/>
<circle cx="460.7" cy="420.2" r="2.6" fill="#d8701a" stroke="#81430f" stroke-width="0.45"/>
<circle cx="463.3" cy="428.3" r="2.6" fill="#a08a10" stroke="#605209" stroke-width="0.45"/>
<circle cx="452.0" cy="421.4" r="2.6" fill="#e06a10" stroke="#863f09" stroke-width="0.45"/>
<circle cx="453.7" cy="419.3" r="2.6" fill="#b87a10" stroke="#6e4909" stroke-width="0.45"/>
<circle cx="470.2" cy="424.1" r="2.6" fill="#d8701a" stroke="#81430f" stroke-width="0.45"/>
<circle cx="451.0" cy="430.2" r="2.6" fill="#a08a10" stroke="#605209" stroke-width="0.45"/>
<circle cx="445.6" cy="427.8" r="2.6" fill="#e06a10" stroke="#863f09" stroke-width="0.45"/>
<circle cx="450.3" cy="419.1" r="2.6" fill="#b87a10" stroke="#6e4909" stroke-width="0.45"/>
<circle cx="463.5" cy="423.7" r="2.6" fill="#d8701a" stroke="#81430f" stroke-width="0.45"/>
<circle cx="472.5" cy="426.6" r="2.6" fill="#a08a10" stroke="#605209" stroke-width="0.45"/>
<circle cx="466.6" cy="422.1" r="2.6" fill="#e06a10" stroke="#863f09" stroke-width="0.45"/>
<circle cx="457.1" cy="426.0" r="2.6" fill="#b87a10" stroke="#6e4909" stroke-width="0.45"/>
<circle cx="448.6" cy="425.7" r="2.6" fill="#d8701a" stroke="#81430f" stroke-width="0.45"/>
<circle cx="458.0" cy="424.2" r="2.6" fill="#a08a10" stroke="#605209" stroke-width="0.45"/>
<circle cx="459.4" cy="417.4" r="2.6" fill="#e06a10" stroke="#863f09" stroke-width="0.45"/>
<circle cx="447.6" cy="428.8" r="2.6" fill="#b87a10" stroke="#6e4909" stroke-width="0.45"/>
<circle cx="445.2" cy="423.7" r="2.6" fill="#d8701a" stroke="#81430f" stroke-width="0.45"/>
<circle cx="454.5" cy="421.4" r="2.6" fill="#a08a10" stroke="#605209" stroke-width="0.45"/>
<circle cx="452.4" cy="425.9" r="2.6" fill="#e06a10" stroke="#863f09" stroke-width="0.45"/>
<circle cx="464.8" cy="421.7" r="2.6" fill="#b87a10" stroke="#6e4909" stroke-width="0.45"/>
<circle cx="448.4" cy="420.1" r="2.6" fill="#d8701a" stroke="#81430f" stroke-width="0.45"/>
<circle cx="456.2" cy="428.5" r="2.6" fill="#a08a10" stroke="#605209" stroke-width="0.45"/>
<circle cx="469.1" cy="421.6" r="2.6" fill="#e06a10" stroke="#863f09" stroke-width="0.45"/>
<circle cx="457.4" cy="420.0" r="2.6" fill="#b87a10" stroke="#6e4909" stroke-width="0.45"/>
<circle cx="467.3" cy="428.2" r="2.6" fill="#d8701a" stroke="#81430f" stroke-width="0.45"/>
<circle cx="463.4" cy="419.3" r="2.6" fill="#a08a10" stroke="#605209" stroke-width="0.45"/>
<circle cx="454.5" cy="417.4" r="2.6" fill="#e06a10" stroke="#863f09" stroke-width="0.45"/>
<circle cx="476.0" cy="424.0" r="2.6" fill="#a08a10" stroke="#605209" stroke-width="0.45"/>
<circle cx="450.7" cy="442.1" r="2.6" fill="#d8701a" stroke="#81430f" stroke-width="0.45"/>
<circle cx="447.2" cy="451.0" r="2.6" fill="#e06a10" stroke="#863f09" stroke-width="0.45"/>
<circle cx="444.7" cy="441.8" r="2.6" fill="#d87010" stroke="#814309" stroke-width="0.45"/>
<circle cx="453.1" cy="441.6" r="2.6" fill="#c87010" stroke="#784309" stroke-width="0.45"/>
<circle cx="456.8" cy="439.6" r="2.6" fill="#d8701a" stroke="#81430f" stroke-width="0.45"/>
<circle cx="455.6" cy="437.8" r="2.6" fill="#e06a10" stroke="#863f09" stroke-width="0.45"/>
<circle cx="447.7" cy="436.8" r="2.6" fill="#d87010" stroke="#814309" stroke-width="0.45"/>
<circle cx="450.9" cy="439.1" r="2.6" fill="#c87010" stroke="#784309" stroke-width="0.45"/>
<circle cx="456.2" cy="447.9" r="2.6" fill="#d8701a" stroke="#81430f" stroke-width="0.45"/>
<circle cx="445.8" cy="452.8" r="2.6" fill="#e06a10" stroke="#863f09" stroke-width="0.45"/>
<circle cx="442.5" cy="450.5" r="2.6" fill="#d87010" stroke="#814309" stroke-width="0.45"/>
<circle cx="447.1" cy="448.5" r="2.6" fill="#c87010" stroke="#784309" stroke-width="0.45"/>
<circle cx="447.1" cy="433.7" r="2.6" fill="#d8701a" stroke="#81430f" stroke-width="0.45"/>
<circle cx="451.4" cy="453.1" r="2.6" fill="#e06a10" stroke="#863f09" stroke-width="0.45"/>
<circle cx="450.7" cy="450.8" r="2.6" fill="#d87010" stroke="#814309" stroke-width="0.45"/>
<circle cx="440.0" cy="446.4" r="2.6" fill="#c87010" stroke="#784309" stroke-width="0.45"/>
<circle cx="441.1" cy="448.3" r="2.6" fill="#d8701a" stroke="#81430f" stroke-width="0.45"/>
<circle cx="450.7" cy="446.7" r="2.6" fill="#e06a10" stroke="#863f09" stroke-width="0.45"/>
<circle cx="442.3" cy="446.4" r="2.6" fill="#d87010" stroke="#814309" stroke-width="0.45"/>
<circle cx="447.7" cy="445.5" r="2.6" fill="#c87010" stroke="#784309" stroke-width="0.45"/>
<circle cx="443.6" cy="434.9" r="2.6" fill="#d8701a" stroke="#81430f" stroke-width="0.45"/>
<circle cx="447.2" cy="435.4" r="2.6" fill="#e06a10" stroke="#863f09" stroke-width="0.45"/>
<circle cx="450.9" cy="447.7" r="2.6" fill="#d87010" stroke="#814309" stroke-width="0.45"/>
<circle cx="452.7" cy="450.8" r="2.6" fill="#c87010" stroke="#784309" stroke-width="0.45"/>
<circle cx="444.4" cy="448.7" r="2.6" fill="#d8701a" stroke="#81430f" stroke-width="0.45"/>
<circle cx="454.9" cy="441.9" r="2.6" fill="#e06a10" stroke="#863f09" stroke-width="0.45"/>
<circle cx="453.3" cy="454.6" r="2.6" fill="#d87010" stroke="#814309" stroke-width="0.45"/>
<circle cx="457.9" cy="446.5" r="2.6" fill="#c87010" stroke="#784309" stroke-width="0.45"/>
<circle cx="440.1" cy="442.3" r="2.6" fill="#d8701a" stroke="#81430f" stroke-width="0.45"/>
<circle cx="445.6" cy="454.7" r="2.6" fill="#e06a10" stroke="#863f09" stroke-width="0.45"/>
<circle cx="454.9" cy="445.9" r="2.6" fill="#d87010" stroke="#814309" stroke-width="0.45"/>
<circle cx="448.9" cy="453.0" r="2.6" fill="#c87010" stroke="#784309" stroke-width="0.45"/>
<circle cx="452.3" cy="433.0" r="2.6" fill="#d8701a" stroke="#81430f" stroke-width="0.45"/>
<circle cx="453.4" cy="445.8" r="2.6" fill="#e06a10" stroke="#863f09" stroke-width="0.45"/>
<circle cx="445.6" cy="432.5" r="2.6" fill="#d87010" stroke="#814309" stroke-width="0.45"/>
<circle cx="448.9" cy="435.6" r="2.6" fill="#c87010" stroke="#784309" stroke-width="0.45"/>
<circle cx="445.3" cy="445.6" r="2.6" fill="#d8701a" stroke="#81430f" stroke-width="0.45"/>
<circle cx="448.7" cy="448.5" r="2.6" fill="#e06a10" stroke="#863f09" stroke-width="0.45"/>
<circle cx="453.5" cy="447.9" r="2.6" fill="#d87010" stroke="#814309" stroke-width="0.45"/>
<circle cx="445.0" cy="450.3" r="2.6" fill="#c87010" stroke="#784309" stroke-width="0.45"/>
<circle cx="453.5" cy="435.8" r="2.6" fill="#d8701a" stroke="#81430f" stroke-width="0.45"/>
<circle cx="448.0" cy="454.3" r="2.6" fill="#e06a10" stroke="#863f09" stroke-width="0.45"/>
<circle cx="453.5" cy="443.8" r="2.6" fill="#d87010" stroke="#814309" stroke-width="0.45"/>
<circle cx="448.1" cy="442.3" r="2.6" fill="#c87010" stroke="#784309" stroke-width="0.45"/>
<circle cx="448.9" cy="439.3" r="2.6" fill="#d8701a" stroke="#81430f" stroke-width="0.45"/>
<circle cx="449.5" cy="455.1" r="2.6" fill="#e06a10" stroke="#863f09" stroke-width="0.45"/>
<circle cx="443.4" cy="441.3" r="2.6" fill="#d87010" stroke="#814309" stroke-width="0.45"/>
<circle cx="443.5" cy="440.0" r="2.6" fill="#c87010" stroke="#784309" stroke-width="0.45"/>
<circle cx="446.0" cy="443.7" r="2.6" fill="#d8701a" stroke="#81430f" stroke-width="0.45"/>
<circle cx="450.7" cy="432.5" r="2.6" fill="#e06a10" stroke="#863f09" stroke-width="0.45"/>
<circle cx="454.7" cy="450.1" r="2.6" fill="#d87010" stroke="#814309" stroke-width="0.45"/>
<circle cx="456.4" cy="443.4" r="2.6" fill="#c87010" stroke="#784309" stroke-width="0.45"/>
<circle cx="445.8" cy="437.9" r="2.6" fill="#d8701a" stroke="#81430f" stroke-width="0.45"/>
<circle cx="442.0" cy="439.7" r="2.6" fill="#e06a10" stroke="#863f09" stroke-width="0.45"/>
<circle cx="457.3" cy="442.4" r="2.6" fill="#d87010" stroke="#814309" stroke-width="0.45"/>
<circle cx="453.6" cy="440.1" r="2.6" fill="#c87010" stroke="#784309" stroke-width="0.45"/>
<circle cx="453.4" cy="453.0" r="2.6" fill="#d8701a" stroke="#81430f" stroke-width="0.45"/>
<circle cx="443.8" cy="452.1" r="2.6" fill="#e06a10" stroke="#863f09" stroke-width="0.45"/>
<circle cx="451.0" cy="443.5" r="2.6" fill="#d87010" stroke="#814309" stroke-width="0.45"/>
<circle cx="446.8" cy="439.7" r="2.6" fill="#c87010" stroke="#784309" stroke-width="0.45"/>
<circle cx="444.7" cy="443.8" r="2.6" fill="#d8701a" stroke="#81430f" stroke-width="0.45"/>
<circle cx="442.2" cy="437.0" r="2.6" fill="#e06a10" stroke="#863f09" stroke-width="0.45"/>
<circle cx="451.1" cy="434.9" r="2.6" fill="#d87010" stroke="#814309" stroke-width="0.45"/>
<circle cx="441.7" cy="443.6" r="2.6" fill="#c87010" stroke="#784309" stroke-width="0.45"/>
<circle cx="452.2" cy="437.1" r="2.6" fill="#d8701a" stroke="#81430f" stroke-width="0.45"/>
<circle cx="450.6" cy="437.8" r="2.6" fill="#e06a10" stroke="#863f09" stroke-width="0.45"/>
<circle cx="449.2" cy="444.3" r="2.6" fill="#d87010" stroke="#814309" stroke-width="0.45"/>
<circle cx="441.8" cy="441.4" r="2.6" fill="#d83060" stroke="#811c39" stroke-width="0.45"/>
<circle cx="443.8" cy="441.4" r="2.6" fill="#c83058" stroke="#781c34" stroke-width="0.45"/>
<circle cx="445.1" cy="443.1" r="2.6" fill="#d83060" stroke="#811c39" stroke-width="0.45"/>
<circle cx="446.4" cy="441.5" r="2.6" fill="#c83058" stroke="#781c34" stroke-width="0.45"/>
<circle cx="442.0" cy="443.7" r="2.6" fill="#d83060" stroke="#811c39" stroke-width="0.45"/>
<circle cx="444.6" cy="439.0" r="2.6" fill="#c83058" stroke="#781c34" stroke-width="0.45"/>
<circle cx="442.9" cy="439.5" r="2.6" fill="#d83060" stroke="#811c39" stroke-width="0.45"/>
<circle cx="458.0" cy="455.0" r="2.6" fill="#a08a10" stroke="#605209" stroke-width="0.45"/>
<circle cx="462.0" cy="457.0" r="2.6" fill="#a08a10" stroke="#605209" stroke-width="0.45"/>
<circle cx="434.7" cy="459.4" r="2.6" fill="#d02c5a" stroke="#7c1a36" stroke-width="0.45"/>
<circle cx="441.2" cy="462.4" r="2.6" fill="#d02858" stroke="#7c1834" stroke-width="0.45"/>
<circle cx="448.0" cy="457.3" r="2.6" fill="#d02c5a" stroke="#7c1a36" stroke-width="0.45"/>
<circle cx="436.2" cy="457.4" r="2.6" fill="#d02858" stroke="#7c1834" stroke-width="0.45"/>
<circle cx="439.3" cy="459.9" r="2.6" fill="#d02c5a" stroke="#7c1a36" stroke-width="0.45"/>
<circle cx="438.9" cy="458.1" r="2.6" fill="#d02858" stroke="#7c1834" stroke-width="0.45"/>
<circle cx="447.0" cy="460.4" r="2.6" fill="#d02c5a" stroke="#7c1a36" stroke-width="0.45"/>
<circle cx="437.5" cy="459.4" r="2.6" fill="#d02858" stroke="#7c1834" stroke-width="0.45"/>
<circle cx="442.2" cy="460.6" r="2.6" fill="#d02c5a" stroke="#7c1a36" stroke-width="0.45"/>
<circle cx="444.6" cy="460.4" r="2.6" fill="#d02858" stroke="#7c1834" stroke-width="0.45"/>
<circle cx="442.7" cy="462.0" r="2.6" fill="#d02c5a" stroke="#7c1a36" stroke-width="0.45"/>
<circle cx="445.1" cy="457.9" r="2.6" fill="#d02858" stroke="#7c1834" stroke-width="0.45"/>
<circle cx="436.0" cy="461.9" r="2.6" fill="#d02c5a" stroke="#7c1a36" stroke-width="0.45"/>
<circle cx="437.6" cy="462.1" r="2.6" fill="#d02858" stroke="#7c1834" stroke-width="0.45"/>
<circle cx="449.5" cy="459.7" r="2.6" fill="#d02c5a" stroke="#7c1a36" stroke-width="0.45"/>
<circle cx="441.1" cy="457.3" r="2.6" fill="#d02858" stroke="#7c1834" stroke-width="0.45"/>
<circle cx="442.5" cy="458.3" r="2.6" fill="#d02c5a" stroke="#7c1a36" stroke-width="0.45"/>
<circle cx="446.0" cy="462.7" r="2.6" fill="#d02858" stroke="#7c1834" stroke-width="0.45"/>
<circle cx="448.3" cy="462.5" r="2.6" fill="#d02c5a" stroke="#7c1a36" stroke-width="0.45"/>
<circle cx="441.5" cy="463.0" r="2.6" fill="#d02c5a" stroke="#7c1a36" stroke-width="0.45"/>
<circle cx="443.3" cy="467.0" r="2.6" fill="#d02858" stroke="#7c1834" stroke-width="0.45"/>
<circle cx="441.2" cy="467.5" r="2.6" fill="#c06484" stroke="#733c4f" stroke-width="0.45"/>
<circle cx="431.6" cy="471.6" r="2.6" fill="#c83060" stroke="#781c39" stroke-width="0.45"/>
<circle cx="437.0" cy="465.3" r="2.6" fill="#d02c5a" stroke="#7c1a36" stroke-width="0.45"/>
<circle cx="439.9" cy="464.6" r="2.6" fill="#d02858" stroke="#7c1834" stroke-width="0.45"/>
<circle cx="441.6" cy="464.5" r="2.6" fill="#c06484" stroke="#733c4f" stroke-width="0.45"/>
<circle cx="432.9" cy="471.5" r="2.6" fill="#c83060" stroke="#781c39" stroke-width="0.45"/>
<circle cx="441.2" cy="471.2" r="2.6" fill="#d02c5a" stroke="#7c1a36" stroke-width="0.45"/>
<circle cx="433.4" cy="462.1" r="2.6" fill="#d02858" stroke="#7c1834" stroke-width="0.45"/>
<circle cx="438.1" cy="467.5" r="2.6" fill="#c06484" stroke="#733c4f" stroke-width="0.45"/>
<circle cx="433.0" cy="466.7" r="2.6" fill="#c83060" stroke="#781c39" stroke-width="0.45"/>
<circle cx="430.3" cy="467.4" r="2.6" fill="#d02c5a" stroke="#7c1a36" stroke-width="0.45"/>
<circle cx="439.4" cy="469.0" r="2.6" fill="#d02858" stroke="#7c1834" stroke-width="0.45"/>
<circle cx="441.7" cy="469.2" r="2.6" fill="#c06484" stroke="#733c4f" stroke-width="0.45"/>
<circle cx="442.8" cy="462.6" r="2.6" fill="#c83060" stroke="#781c39" stroke-width="0.45"/>
<circle cx="430.2" cy="468.7" r="2.6" fill="#d02c5a" stroke="#7c1a36" stroke-width="0.45"/>
<circle cx="430.2" cy="464.7" r="2.6" fill="#d02858" stroke="#7c1834" stroke-width="0.45"/>
<circle cx="428.9" cy="462.9" r="2.6" fill="#c06484" stroke="#733c4f" stroke-width="0.45"/>
<circle cx="434.3" cy="469.8" r="2.6" fill="#c83060" stroke="#781c39" stroke-width="0.45"/>
<circle cx="426.2" cy="467.4" r="2.6" fill="#d02c5a" stroke="#7c1a36" stroke-width="0.45"/>
<circle cx="434.5" cy="464.5" r="2.6" fill="#d02858" stroke="#7c1834" stroke-width="0.45"/>
<circle cx="435.9" cy="471.9" r="2.6" fill="#c06484" stroke="#733c4f" stroke-width="0.45"/>
<circle cx="445.1" cy="464.7" r="2.6" fill="#c83060" stroke="#781c39" stroke-width="0.45"/>
<circle cx="432.3" cy="468.5" r="2.6" fill="#d02c5a" stroke="#7c1a36" stroke-width="0.45"/>
<circle cx="436.7" cy="466.8" r="2.6" fill="#d02858" stroke="#7c1834" stroke-width="0.45"/>
<circle cx="438.3" cy="471.6" r="2.6" fill="#c06484" stroke="#733c4f" stroke-width="0.45"/>
<circle cx="438.3" cy="462.8" r="2.6" fill="#c83060" stroke="#781c39" stroke-width="0.45"/>
<circle cx="427.9" cy="467.2" r="2.6" fill="#d02c5a" stroke="#7c1a36" stroke-width="0.45"/>
<circle cx="428.3" cy="471.9" r="2.6" fill="#d02858" stroke="#7c1834" stroke-width="0.45"/>
<circle cx="432.4" cy="464.8" r="2.6" fill="#c06484" stroke="#733c4f" stroke-width="0.45"/>
<circle cx="437.2" cy="469.6" r="2.6" fill="#c83060" stroke="#781c39" stroke-width="0.45"/>
<circle cx="428.0" cy="468.8" r="2.6" fill="#d02c5a" stroke="#7c1a36" stroke-width="0.45"/>
<circle cx="426.5" cy="464.3" r="2.6" fill="#d02858" stroke="#7c1834" stroke-width="0.45"/>
<circle cx="436.2" cy="463.1" r="2.6" fill="#c06484" stroke="#733c4f" stroke-width="0.45"/>
<circle cx="431.7" cy="463.1" r="2.6" fill="#c83060" stroke="#781c39" stroke-width="0.45"/>
<circle cx="446.7" cy="467.0" r="2.6" fill="#d02c5a" stroke="#7c1a36" stroke-width="0.45"/>
<circle cx="443.5" cy="471.6" r="2.6" fill="#d02858" stroke="#7c1834" stroke-width="0.45"/>
<circle cx="445.3" cy="469.2" r="2.6" fill="#c06484" stroke="#733c4f" stroke-width="0.45"/>
<circle cx="453.5" cy="472.3" r="2.6" fill="#c07010" stroke="#734309" stroke-width="0.45"/>
<circle cx="448.8" cy="471.5" r="2.6" fill="#8a7a10" stroke="#524909" stroke-width="0.45"/>
<circle cx="448.0" cy="469.7" r="2.6" fill="#d87010" stroke="#814309" stroke-width="0.45"/>
<circle cx="453.4" cy="473.8" r="2.6" fill="#c07010" stroke="#734309" stroke-width="0.45"/>
<circle cx="450.9" cy="470.1" r="2.6" fill="#8a7a10" stroke="#524909" stroke-width="0.45"/>
<circle cx="445.5" cy="470.2" r="2.6" fill="#d87010" stroke="#814309" stroke-width="0.45"/>
<circle cx="447.1" cy="473.9" r="2.6" fill="#c07010" stroke="#734309" stroke-width="0.45"/>
<circle cx="450.1" cy="474.8" r="2.6" fill="#8a7a10" stroke="#524909" stroke-width="0.45"/>
<circle cx="447.0" cy="472.4" r="2.6" fill="#d87010" stroke="#814309" stroke-width="0.45"/>
<circle cx="444.8" cy="473.9" r="2.6" fill="#c07010" stroke="#734309" stroke-width="0.45"/>
<circle cx="453.0" cy="469.5" r="2.6" fill="#8a7a10" stroke="#524909" stroke-width="0.45"/>
<circle cx="451.5" cy="472.5" r="2.6" fill="#d87010" stroke="#814309" stroke-width="0.45"/>
<circle cx="443.5" cy="472.1" r="2.6" fill="#c07010" stroke="#734309" stroke-width="0.45"/>
<circle cx="428.6" cy="481.7" r="2.6" fill="#d02c5a" stroke="#7c1a36" stroke-width="0.45"/>
<circle cx="424.0" cy="482.2" r="2.6" fill="#d02858" stroke="#7c1834" stroke-width="0.45"/>
<circle cx="431.6" cy="488.7" r="2.6" fill="#c83060" stroke="#781c39" stroke-width="0.45"/>
<circle cx="429.3" cy="483.8" r="2.6" fill="#d84070" stroke="#812643" stroke-width="0.45"/>
<circle cx="422.8" cy="488.9" r="2.6" fill="#d02c5a" stroke="#7c1a36" stroke-width="0.45"/>
<circle cx="423.4" cy="486.4" r="2.6" fill="#d02858" stroke="#7c1834" stroke-width="0.45"/>
<circle cx="434.0" cy="481.5" r="2.6" fill="#c83060" stroke="#781c39" stroke-width="0.45"/>
<circle cx="433.6" cy="477.5" r="2.6" fill="#d84070" stroke="#812643" stroke-width="0.45"/>
<circle cx="435.5" cy="484.6" r="2.6" fill="#d02c5a" stroke="#7c1a36" stroke-width="0.45"/>
<circle cx="425.5" cy="480.0" r="2.6" fill="#d02858" stroke="#7c1834" stroke-width="0.45"/>
<circle cx="411.9" cy="479.3" r="2.6" fill="#c83060" stroke="#781c39" stroke-width="0.45"/>
<circle cx="422.0" cy="480.0" r="2.6" fill="#d84070" stroke="#812643" stroke-width="0.45"/>
<circle cx="426.5" cy="485.7" r="2.6" fill="#d02c5a" stroke="#7c1a36" stroke-width="0.45"/>
<circle cx="431.7" cy="475.8" r="2.6" fill="#d02858" stroke="#7c1834" stroke-width="0.45"/>
<circle cx="421.9" cy="475.1" r="2.6" fill="#c83060" stroke="#781c39" stroke-width="0.45"/>
<circle cx="439.1" cy="484.6" r="2.6" fill="#d84070" stroke="#812643" stroke-width="0.45"/>
<circle cx="436.1" cy="486.0" r="2.6" fill="#d02c5a" stroke="#7c1a36" stroke-width="0.45"/>
<circle cx="424.1" cy="477.7" r="2.6" fill="#d02858" stroke="#7c1834" stroke-width="0.45"/>
<circle cx="417.5" cy="479.7" r="2.6" fill="#c83060" stroke="#781c39" stroke-width="0.45"/>
<circle cx="420.2" cy="488.1" r="2.6" fill="#d84070" stroke="#812643" stroke-width="0.45"/>
<circle cx="424.1" cy="484.3" r="2.6" fill="#d02c5a" stroke="#7c1a36" stroke-width="0.45"/>
<circle cx="417.8" cy="483.7" r="2.6" fill="#d02858" stroke="#7c1834" stroke-width="0.45"/>
<circle cx="429.6" cy="480.4" r="2.6" fill="#c83060" stroke="#781c39" stroke-width="0.45"/>
<circle cx="416.0" cy="477.7" r="2.6" fill="#d84070" stroke="#812643" stroke-width="0.45"/>
<circle cx="424.8" cy="487.9" r="2.6" fill="#d02c5a" stroke="#7c1a36" stroke-width="0.45"/>
<circle cx="433.3" cy="486.1" r="2.6" fill="#d02858" stroke="#7c1834" stroke-width="0.45"/>
<circle cx="419.6" cy="476.1" r="2.6" fill="#c83060" stroke="#781c39" stroke-width="0.45"/>
<circle cx="437.0" cy="484.4" r="2.6" fill="#d84070" stroke="#812643" stroke-width="0.45"/>
<circle cx="416.6" cy="481.5" r="2.6" fill="#d02c5a" stroke="#7c1a36" stroke-width="0.45"/>
<circle cx="420.7" cy="485.8" r="2.6" fill="#d02858" stroke="#7c1834" stroke-width="0.45"/>
<circle cx="425.4" cy="475.4" r="2.6" fill="#c83060" stroke="#781c39" stroke-width="0.45"/>
<circle cx="427.7" cy="483.9" r="2.6" fill="#d84070" stroke="#812643" stroke-width="0.45"/>
<circle cx="420.2" cy="479.3" r="2.6" fill="#d02c5a" stroke="#7c1a36" stroke-width="0.45"/>
<circle cx="425.7" cy="477.8" r="2.6" fill="#d02858" stroke="#7c1834" stroke-width="0.45"/>
<circle cx="427.7" cy="487.9" r="2.6" fill="#c83060" stroke="#781c39" stroke-width="0.45"/>
<circle cx="418.8" cy="478.0" r="2.6" fill="#d84070" stroke="#812643" stroke-width="0.45"/>
<circle cx="412.8" cy="484.5" r="2.6" fill="#d02c5a" stroke="#7c1a36" stroke-width="0.45"/>
<circle cx="415.7" cy="485.7" r="2.6" fill="#d02858" stroke="#7c1834" stroke-width="0.45"/>
<circle cx="430.3" cy="478.1" r="2.6" fill="#c83060" stroke="#781c39" stroke-width="0.45"/>
<circle cx="431.6" cy="484.4" r="2.6" fill="#d84070" stroke="#812643" stroke-width="0.45"/>
<circle cx="415.2" cy="484.4" r="2.6" fill="#d02c5a" stroke="#7c1a36" stroke-width="0.45"/>
<circle cx="418.3" cy="481.4" r="2.6" fill="#d02858" stroke="#7c1834" stroke-width="0.45"/>
<circle cx="413.5" cy="482.2" r="2.6" fill="#c83060" stroke="#781c39" stroke-width="0.45"/>
<circle cx="420.7" cy="477.5" r="2.6" fill="#d84070" stroke="#812643" stroke-width="0.45"/>
<circle cx="436.3" cy="482.3" r="2.6" fill="#d02c5a" stroke="#7c1a36" stroke-width="0.45"/>
<circle cx="420.9" cy="482.0" r="2.6" fill="#d02858" stroke="#7c1834" stroke-width="0.45"/>
<circle cx="420.1" cy="484.4" r="2.6" fill="#c83060" stroke="#781c39" stroke-width="0.45"/>
<circle cx="430.2" cy="475.2" r="2.6" fill="#d84070" stroke="#812643" stroke-width="0.45"/>
<circle cx="414.8" cy="480.2" r="2.6" fill="#d02c5a" stroke="#7c1a36" stroke-width="0.45"/>
<circle cx="430.6" cy="486.5" r="2.6" fill="#d02858" stroke="#7c1834" stroke-width="0.45"/>
<circle cx="427.5" cy="480.2" r="2.6" fill="#c83060" stroke="#781c39" stroke-width="0.45"/>
<circle cx="431.5" cy="482.4" r="2.6" fill="#d84070" stroke="#812643" stroke-width="0.45"/>
<circle cx="432.6" cy="479.6" r="2.6" fill="#d02c5a" stroke="#7c1a36" stroke-width="0.45"/>
<circle cx="418.7" cy="485.9" r="2.6" fill="#d02858" stroke="#7c1834" stroke-width="0.45"/>
<circle cx="427.8" cy="475.7" r="2.6" fill="#c83060" stroke="#781c39" stroke-width="0.45"/>
<circle cx="429.0" cy="485.8" r="2.6" fill="#d84070" stroke="#812643" stroke-width="0.45"/>
<circle cx="422.4" cy="483.9" r="2.6" fill="#d02c5a" stroke="#7c1a36" stroke-width="0.45"/>
<circle cx="429.8" cy="488.4" r="2.6" fill="#d02858" stroke="#7c1834" stroke-width="0.45"/>
<circle cx="440.3" cy="479.9" r="2.6" fill="#c83060" stroke="#781c39" stroke-width="0.45"/>
<circle cx="438.5" cy="482.5" r="2.6" fill="#d84070" stroke="#812643" stroke-width="0.45"/>
<circle cx="426.1" cy="481.9" r="2.6" fill="#d02c5a" stroke="#7c1a36" stroke-width="0.45"/>
<circle cx="434.6" cy="480.2" r="2.6" fill="#d02858" stroke="#7c1834" stroke-width="0.45"/>
<circle cx="437.0" cy="479.4" r="2.6" fill="#c83060" stroke="#781c39" stroke-width="0.45"/>
<circle cx="436.7" cy="477.3" r="2.6" fill="#d84070" stroke="#812643" stroke-width="0.45"/>
<circle cx="428.1" cy="478.0" r="2.6" fill="#d02c5a" stroke="#7c1a36" stroke-width="0.45"/>
<circle cx="426.6" cy="497.3" r="2.6" fill="#d02c5a" stroke="#7c1a36" stroke-width="0.45"/>
<circle cx="428.0" cy="492.4" r="2.6" fill="#d02858" stroke="#7c1834" stroke-width="0.45"/>
<circle cx="426.0" cy="501.9" r="2.6" fill="#c83060" stroke="#781c39" stroke-width="0.45"/>
<circle cx="434.7" cy="495.2" r="2.6" fill="#c06484" stroke="#733c4f" stroke-width="0.45"/>
<circle cx="422.7" cy="495.4" r="2.6" fill="#d02c5a" stroke="#7c1a36" stroke-width="0.45"/>
<circle cx="422.8" cy="501.3" r="2.6" fill="#d02858" stroke="#7c1834" stroke-width="0.45"/>
<circle cx="424.1" cy="497.2" r="2.6" fill="#c83060" stroke="#781c39" stroke-width="0.45"/>
<circle cx="414.7" cy="494.4" r="2.6" fill="#c06484" stroke="#733c4f" stroke-width="0.45"/>
<circle cx="413.1" cy="496.8" r="2.6" fill="#d02c5a" stroke="#7c1a36" stroke-width="0.45"/>
<circle cx="424.1" cy="495.2" r="2.6" fill="#d02858" stroke="#7c1834" stroke-width="0.45"/>
<circle cx="416.7" cy="495.1" r="2.6" fill="#c83060" stroke="#781c39" stroke-width="0.45"/>
<circle cx="433.5" cy="501.5" r="2.6" fill="#c06484" stroke="#733c4f" stroke-width="0.45"/>
<circle cx="430.4" cy="500.9" r="2.6" fill="#d02c5a" stroke="#7c1a36" stroke-width="0.45"/>
<circle cx="433.9" cy="492.9" r="2.6" fill="#d02858" stroke="#7c1834" stroke-width="0.45"/>
<circle cx="424.0" cy="503.7" r="2.6" fill="#c83060" stroke="#781c39" stroke-width="0.45"/>
<circle cx="421.1" cy="501.2" r="2.6" fill="#c06484" stroke="#733c4f" stroke-width="0.45"/>
<circle cx="430.0" cy="498.8" r="2.6" fill="#d02c5a" stroke="#7c1a36" stroke-width="0.45"/>
<circle cx="423.3" cy="492.5" r="2.6" fill="#d02858" stroke="#7c1834" stroke-width="0.45"/>
<circle cx="411.7" cy="495.3" r="2.6" fill="#c83060" stroke="#781c39" stroke-width="0.45"/>
<circle cx="426.6" cy="503.6" r="2.6" fill="#c06484" stroke="#733c4f" stroke-width="0.45"/>
<circle cx="426.8" cy="494.9" r="2.6" fill="#d02c5a" stroke="#7c1a36" stroke-width="0.45"/>
<circle cx="417.8" cy="501.4" r="2.6" fill="#d02858" stroke="#7c1834" stroke-width="0.45"/>
<circle cx="421.0" cy="492.3" r="2.6" fill="#c83060" stroke="#781c39" stroke-width="0.45"/>
<circle cx="419.2" cy="493.1" r="2.6" fill="#c06484" stroke="#733c4f" stroke-width="0.45"/>
<circle cx="432.9" cy="498.8" r="2.6" fill="#d02c5a" stroke="#7c1a36" stroke-width="0.45"/>
<circle cx="421.5" cy="490.8" r="2.6" fill="#d02858" stroke="#7c1834" stroke-width="0.45"/>
<circle cx="422.8" cy="503.0" r="2.6" fill="#c83060" stroke="#781c39" stroke-width="0.45"/>
<circle cx="419.1" cy="497.6" r="2.6" fill="#c06484" stroke="#733c4f" stroke-width="0.45"/>
<circle cx="417.2" cy="499.0" r="2.6" fill="#d02c5a" stroke="#7c1a36" stroke-width="0.45"/>
<circle cx="414.9" cy="498.7" r="2.6" fill="#d02858" stroke="#7c1834" stroke-width="0.45"/>
<circle cx="432.0" cy="494.9" r="2.6" fill="#c83060" stroke="#781c39" stroke-width="0.45"/>
<circle cx="412.2" cy="499.7" r="2.6" fill="#c06484" stroke="#733c4f" stroke-width="0.45"/>
<circle cx="412.9" cy="492.4" r="2.6" fill="#d02c5a" stroke="#7c1a36" stroke-width="0.45"/>
<circle cx="430.4" cy="495.3" r="2.6" fill="#d02858" stroke="#7c1834" stroke-width="0.45"/>
<circle cx="431.5" cy="496.6" r="2.6" fill="#c83060" stroke="#781c39" stroke-width="0.45"/>
<circle cx="417.0" cy="503.5" r="2.6" fill="#c06484" stroke="#733c4f" stroke-width="0.45"/>
<circle cx="430.3" cy="490.5" r="2.6" fill="#d02c5a" stroke="#7c1a36" stroke-width="0.45"/>
<circle cx="422.8" cy="498.5" r="2.6" fill="#d02858" stroke="#7c1834" stroke-width="0.45"/>
<circle cx="416.6" cy="496.5" r="2.6" fill="#c83060" stroke="#781c39" stroke-width="0.45"/>
<circle cx="424.8" cy="499.5" r="2.6" fill="#c06484" stroke="#733c4f" stroke-width="0.45"/>
<circle cx="415.7" cy="493.2" r="2.6" fill="#d02c5a" stroke="#7c1a36" stroke-width="0.45"/>
<circle cx="413.4" cy="501.9" r="2.6" fill="#d02858" stroke="#7c1834" stroke-width="0.45"/>
<circle cx="428.9" cy="501.8" r="2.6" fill="#c83060" stroke="#781c39" stroke-width="0.45"/>
<circle cx="428.6" cy="497.3" r="2.6" fill="#c06484" stroke="#733c4f" stroke-width="0.45"/>
<circle cx="426.2" cy="493.2" r="2.6" fill="#d02c5a" stroke="#7c1a36" stroke-width="0.45"/>
<circle cx="420.0" cy="490.4" r="2.6" fill="#d02858" stroke="#7c1834" stroke-width="0.45"/>
<circle cx="431.5" cy="492.7" r="2.6" fill="#c83060" stroke="#781c39" stroke-width="0.45"/>
<circle cx="416.7" cy="501.7" r="2.6" fill="#c06484" stroke="#733c4f" stroke-width="0.45"/>
<circle cx="436.7" cy="497.3" r="2.6" fill="#d02c5a" stroke="#7c1a36" stroke-width="0.45"/>
<circle cx="416.7" cy="490.8" r="2.6" fill="#d02858" stroke="#7c1834" stroke-width="0.45"/>
<circle cx="420.4" cy="503.4" r="2.6" fill="#c83060" stroke="#781c39" stroke-width="0.45"/>
<circle cx="411.6" cy="496.4" r="2.6" fill="#c06484" stroke="#733c4f" stroke-width="0.45"/>
<circle cx="420.9" cy="497.1" r="2.6" fill="#d02c5a" stroke="#7c1a36" stroke-width="0.45"/>
<circle cx="419.8" cy="494.2" r="2.6" fill="#d02858" stroke="#7c1834" stroke-width="0.45"/>
<circle cx="420.0" cy="499.6" r="2.6" fill="#c83060" stroke="#781c39" stroke-width="0.45"/>
<circle cx="429.9" cy="503.9" r="2.6" fill="#c06484" stroke="#733c4f" stroke-width="0.45"/>
<circle cx="426.8" cy="499.5" r="2.6" fill="#d02c5a" stroke="#7c1a36" stroke-width="0.45"/>
<circle cx="425.2" cy="490.3" r="2.6" fill="#d02858" stroke="#7c1834" stroke-width="0.45"/>
<circle cx="434.0" cy="499.1" r="2.6" fill="#c83060" stroke="#781c39" stroke-width="0.45"/>
<circle cx="427.8" cy="490.3" r="2.6" fill="#c06484" stroke="#733c4f" stroke-width="0.45"/>
<circle cx="433.7" cy="497.5" r="2.6" fill="#d02c5a" stroke="#7c1a36" stroke-width="0.45"/>
<circle cx="423.4" cy="512.4" r="2.6" fill="#d02c5a" stroke="#7c1a36" stroke-width="0.45"/>
<circle cx="426.4" cy="509.6" r="2.6" fill="#d02858" stroke="#7c1834" stroke-width="0.45"/>
<circle cx="428.0" cy="511.6" r="2.6" fill="#c06484" stroke="#733c4f" stroke-width="0.45"/>
<circle cx="402.4" cy="510.5" r="2.6" fill="#c83060" stroke="#781c39" stroke-width="0.45"/>
<circle cx="413.9" cy="514.3" r="2.6" fill="#d02c5a" stroke="#7c1a36" stroke-width="0.45"/>
<circle cx="417.0" cy="510.2" r="2.6" fill="#d02858" stroke="#7c1834" stroke-width="0.45"/>
<circle cx="412.9" cy="511.9" r="2.6" fill="#c06484" stroke="#733c4f" stroke-width="0.45"/>
<circle cx="421.1" cy="507.5" r="2.6" fill="#c83060" stroke="#781c39" stroke-width="0.45"/>
<circle cx="419.4" cy="506.1" r="2.6" fill="#d02c5a" stroke="#7c1a36" stroke-width="0.45"/>
<circle cx="408.5" cy="512.4" r="2.6" fill="#d02858" stroke="#7c1834" stroke-width="0.45"/>
<circle cx="428.8" cy="508.4" r="2.6" fill="#c06484" stroke="#733c4f" stroke-width="0.45"/>
<circle cx="419.2" cy="514.7" r="2.6" fill="#c83060" stroke="#781c39" stroke-width="0.45"/>
<circle cx="417.7" cy="514.6" r="2.6" fill="#d02c5a" stroke="#7c1a36" stroke-width="0.45"/>
<circle cx="430.5" cy="508.2" r="2.6" fill="#d02858" stroke="#7c1834" stroke-width="0.45"/>
<circle cx="408.0" cy="507.6" r="2.6" fill="#c06484" stroke="#733c4f" stroke-width="0.45"/>
<circle cx="421.5" cy="506.2" r="2.6" fill="#c83060" stroke="#781c39" stroke-width="0.45"/>
<circle cx="417.8" cy="511.9" r="2.6" fill="#d02c5a" stroke="#7c1a36" stroke-width="0.45"/>
<circle cx="405.3" cy="512.1" r="2.6" fill="#d02858" stroke="#7c1834" stroke-width="0.45"/>
<circle cx="411.8" cy="513.9" r="2.6" fill="#c06484" stroke="#733c4f" stroke-width="0.45"/>
<circle cx="414.0" cy="508.0" r="2.6" fill="#c83060" stroke="#781c39" stroke-width="0.45"/>
<circle cx="404.9" cy="510.0" r="2.6" fill="#d02c5a" stroke="#7c1a36" stroke-width="0.45"/>
<circle cx="403.6" cy="512.8" r="2.6" fill="#d02858" stroke="#7c1834" stroke-width="0.45"/>
<circle cx="403.2" cy="508.1" r="2.6" fill="#c06484" stroke="#733c4f" stroke-width="0.45"/>
<circle cx="415.0" cy="512.4" r="2.6" fill="#c83060" stroke="#781c39" stroke-width="0.45"/>
<circle cx="417.3" cy="506.1" r="2.6" fill="#d02c5a" stroke="#7c1a36" stroke-width="0.45"/>
<circle cx="411.1" cy="512.5" r="2.6" fill="#d02858" stroke="#7c1834" stroke-width="0.45"/>
<circle cx="412.6" cy="506.1" r="2.6" fill="#c06484" stroke="#733c4f" stroke-width="0.45"/>
<circle cx="421.5" cy="513.8" r="2.6" fill="#c83060" stroke="#781c39" stroke-width="0.45"/>
<circle cx="410.1" cy="507.8" r="2.6" fill="#d02c5a" stroke="#7c1a36" stroke-width="0.45"/>
<circle cx="416.4" cy="508.2" r="2.6" fill="#d02858" stroke="#7c1834" stroke-width="0.45"/>
<circle cx="425.9" cy="512.4" r="2.6" fill="#c06484" stroke="#733c4f" stroke-width="0.45"/>
<circle cx="415.2" cy="509.6" r="2.6" fill="#c83060" stroke="#781c39" stroke-width="0.45"/>
<circle cx="421.4" cy="512.4" r="2.6" fill="#d02c5a" stroke="#7c1a36" stroke-width="0.45"/>
<circle cx="430.1" cy="511.5" r="2.6" fill="#d02858" stroke="#7c1834" stroke-width="0.45"/>
<circle cx="425.0" cy="507.5" r="2.6" fill="#c06484" stroke="#733c4f" stroke-width="0.45"/>
<circle cx="419.6" cy="510.6" r="2.6" fill="#c83060" stroke="#781c39" stroke-width="0.45"/>
<circle cx="414.8" cy="505.0" r="2.6" fill="#d02c5a" stroke="#7c1a36" stroke-width="0.45"/>
<circle cx="422.9" cy="507.7" r="2.6" fill="#d02858" stroke="#7c1834" stroke-width="0.45"/>
<circle cx="409.2" cy="510.2" r="2.6" fill="#c06484" stroke="#733c4f" stroke-width="0.45"/>
<circle cx="411.8" cy="510.0" r="2.6" fill="#c83060" stroke="#781c39" stroke-width="0.45"/>
<circle cx="431.3" cy="509.7" r="2.6" fill="#d02c5a" stroke="#7c1a36" stroke-width="0.45"/>
<circle cx="405.4" cy="507.6" r="2.6" fill="#d02858" stroke="#7c1834" stroke-width="0.45"/>
<circle cx="429.2" cy="510.5" r="2.6" fill="#c06484" stroke="#733c4f" stroke-width="0.45"/>
<circle cx="418.8" cy="508.5" r="2.6" fill="#c83060" stroke="#781c39" stroke-width="0.45"/>
<circle cx="424.8" cy="510.6" r="2.6" fill="#d02c5a" stroke="#7c1a36" stroke-width="0.45"/>
<circle cx="421.9" cy="510.5" r="2.6" fill="#d02858" stroke="#7c1834" stroke-width="0.45"/>
<circle cx="406.4" cy="510.4" r="2.6" fill="#c06484" stroke="#733c4f" stroke-width="0.45"/>
<circle cx="436.0" cy="498.4" r="2.6" fill="#f4e4f0" stroke="#b090a8" stroke-width="0.45"/>
<circle cx="440.0" cy="499.3" r="2.6" fill="#f4e4f0" stroke="#b090a8" stroke-width="0.45"/>
<circle cx="444.0" cy="497.8" r="2.6" fill="#f4e4f0" stroke="#b090a8" stroke-width="0.45"/>
<circle cx="448.0" cy="499.5" r="2.6" fill="#f4e4f0" stroke="#b090a8" stroke-width="0.45"/>
<circle cx="452.0" cy="498.1" r="2.6" fill="#f4e4f0" stroke="#b090a8" stroke-width="0.45"/>
<circle cx="380.0" cy="524.7" r="2.6" fill="#d04868" stroke="#7c2b3e" stroke-width="0.45"/>
<circle cx="383.3" cy="524.6" r="2.6" fill="#d02c5a" stroke="#7c1a36" stroke-width="0.45"/>
<circle cx="386.6" cy="524.3" r="2.6" fill="#d02c5a" stroke="#7c1a36" stroke-width="0.45"/>
<circle cx="389.9" cy="522.3" r="2.6" fill="#c06484" stroke="#733c4f" stroke-width="0.45"/>
<circle cx="393.2" cy="522.9" r="2.6" fill="#d02c5a" stroke="#7c1a36" stroke-width="0.45"/>
<circle cx="394.2" cy="518.4" r="2.6" fill="#d02c5a" stroke="#7c1a36" stroke-width="0.45"/>
<circle cx="396.5" cy="522.0" r="2.6" fill="#c06484" stroke="#733c4f" stroke-width="0.45"/>
<circle cx="397.5" cy="519.0" r="2.6" fill="#d02c5a" stroke="#7c1a36" stroke-width="0.45"/>
<circle cx="399.8" cy="520.8" r="2.6" fill="#c06484" stroke="#733c4f" stroke-width="0.45"/>
<circle cx="400.8" cy="517.0" r="2.6" fill="#d02c5a" stroke="#7c1a36" stroke-width="0.45"/>
<circle cx="403.1" cy="518.9" r="2.6" fill="#d04868" stroke="#7c2b3e" stroke-width="0.45"/>
<circle cx="404.1" cy="516.5" r="2.6" fill="#c06484" stroke="#733c4f" stroke-width="0.45"/>
<circle cx="406.4" cy="518.5" r="2.6" fill="#d02c5a" stroke="#7c1a36" stroke-width="0.45"/>
<circle cx="407.4" cy="515.9" r="2.6" fill="#c06484" stroke="#733c4f" stroke-width="0.45"/>
<circle cx="409.7" cy="517.5" r="2.6" fill="#c06484" stroke="#733c4f" stroke-width="0.45"/>
<circle cx="410.7" cy="515.4" r="2.6" fill="#c06484" stroke="#733c4f" stroke-width="0.45"/>
<circle cx="413.0" cy="516.7" r="2.6" fill="#d02c5a" stroke="#7c1a36" stroke-width="0.45"/>
<circle cx="414.0" cy="514.5" r="2.6" fill="#d02c5a" stroke="#7c1a36" stroke-width="0.45"/>
<circle cx="416.3" cy="517.6" r="2.6" fill="#c06484" stroke="#733c4f" stroke-width="0.45"/>
<circle cx="417.3" cy="513.6" r="2.6" fill="#d02c5a" stroke="#7c1a36" stroke-width="0.45"/>
<circle cx="432.0" cy="526.4" r="2.6" fill="#ecec22" stroke="#8d8d14" stroke-width="0.45"/>
<circle cx="436.0" cy="526.5" r="2.6" fill="#ecec22" stroke="#8d8d14" stroke-width="0.45"/>
<circle cx="440.0" cy="526.9" r="2.6" fill="#ecec22" stroke="#8d8d14" stroke-width="0.45"/>
<circle cx="444.0" cy="526.5" r="2.6" fill="#ecec22" stroke="#8d8d14" stroke-width="0.45"/>
<circle cx="448.0" cy="526.7" r="2.6" fill="#ecec22" stroke="#8d8d14" stroke-width="0.45"/>
<circle cx="452.0" cy="526.1" r="2.6" fill="#ecec22" stroke="#8d8d14" stroke-width="0.45"/>
<circle cx="456.0" cy="527.0" r="2.6" fill="#ecec22" stroke="#8d8d14" stroke-width="0.45"/>
<circle cx="431.0" cy="525.5" r="2.6" fill="#7c7c14" stroke="#4a4a0c" stroke-width="0.45"/>
<circle cx="467.0" cy="529.5" r="2.6" fill="#a8c424" stroke="#647515" stroke-width="0.45"/>
<circle cx="353.0" cy="529.7" r="2.6" fill="#c0a020" stroke="#736013" stroke-width="0.45"/>
<circle cx="359.8" cy="529.7" r="2.6" fill="#b08080" stroke="#694c4c" stroke-width="0.45"/>
<circle cx="423.8" cy="538.0" r="2.6" fill="#d8701a" stroke="#81430f" stroke-width="0.45"/>
<circle cx="440.0" cy="537.2" r="2.6" fill="#a08010" stroke="#604c09" stroke-width="0.45"/>
<circle cx="425.6" cy="540.1" r="2.6" fill="#d87010" stroke="#814309" stroke-width="0.45"/>
<circle cx="426.2" cy="534.8" r="2.6" fill="#c86010" stroke="#783909" stroke-width="0.45"/>
<circle cx="430.0" cy="541.4" r="2.6" fill="#d8701a" stroke="#81430f" stroke-width="0.45"/>
<circle cx="435.5" cy="540.0" r="2.6" fill="#a08010" stroke="#604c09" stroke-width="0.45"/>
<circle cx="434.5" cy="541.9" r="2.6" fill="#d87010" stroke="#814309" stroke-width="0.45"/>
<circle cx="437.9" cy="540.3" r="2.6" fill="#c86010" stroke="#783909" stroke-width="0.45"/>
<circle cx="422.6" cy="535.0" r="2.6" fill="#d8701a" stroke="#81430f" stroke-width="0.45"/>
<circle cx="428.6" cy="535.3" r="2.6" fill="#a08010" stroke="#604c09" stroke-width="0.45"/>
<circle cx="419.3" cy="537.4" r="2.6" fill="#d87010" stroke="#814309" stroke-width="0.45"/>
<circle cx="419.5" cy="532.8" r="2.6" fill="#c86010" stroke="#783909" stroke-width="0.45"/>
<circle cx="427.4" cy="541.5" r="2.6" fill="#d8701a" stroke="#81430f" stroke-width="0.45"/>
<circle cx="419.9" cy="541.2" r="2.6" fill="#a08010" stroke="#604c09" stroke-width="0.45"/>
<circle cx="433.9" cy="533.1" r="2.6" fill="#d87010" stroke="#814309" stroke-width="0.45"/>
<circle cx="422.2" cy="533.8" r="2.6" fill="#c86010" stroke="#783909" stroke-width="0.45"/>
<circle cx="423.2" cy="539.1" r="2.6" fill="#d8701a" stroke="#81430f" stroke-width="0.45"/>
<circle cx="429.8" cy="536.9" r="2.6" fill="#a08010" stroke="#604c09" stroke-width="0.45"/>
<circle cx="427.2" cy="537.7" r="2.6" fill="#d87010" stroke="#814309" stroke-width="0.45"/>
<circle cx="428.8" cy="533.2" r="2.6" fill="#c86010" stroke="#783909" stroke-width="0.45"/>
<circle cx="417.6" cy="539.1" r="2.6" fill="#d8701a" stroke="#81430f" stroke-width="0.45"/>
<circle cx="434.4" cy="538.0" r="2.6" fill="#a08010" stroke="#604c09" stroke-width="0.45"/>
<circle cx="430.3" cy="540.2" r="2.6" fill="#d87010" stroke="#814309" stroke-width="0.45"/>
<circle cx="415.5" cy="539.3" r="2.6" fill="#c86010" stroke="#783909" stroke-width="0.45"/>
<circle cx="433.4" cy="535.7" r="2.6" fill="#d8701a" stroke="#81430f" stroke-width="0.45"/>
<circle cx="417.2" cy="537.0" r="2.6" fill="#a08010" stroke="#604c09" stroke-width="0.45"/>
<circle cx="425.1" cy="533.0" r="2.6" fill="#d87010" stroke="#814309" stroke-width="0.45"/>
<circle cx="420.2" cy="539.5" r="2.6" fill="#c86010" stroke="#783909" stroke-width="0.45"/>
<circle cx="430.4" cy="535.3" r="2.6" fill="#d8701a" stroke="#81430f" stroke-width="0.45"/>
<circle cx="421.5" cy="541.7" r="2.6" fill="#a08010" stroke="#604c09" stroke-width="0.45"/>
<circle cx="432.0" cy="532.9" r="2.6" fill="#d87010" stroke="#814309" stroke-width="0.45"/>
<circle cx="426.3" cy="533.1" r="2.6" fill="#c86010" stroke="#783909" stroke-width="0.45"/>
<circle cx="422.6" cy="537.3" r="2.6" fill="#d8701a" stroke="#81430f" stroke-width="0.45"/>
<circle cx="424.8" cy="541.9" r="2.6" fill="#a08010" stroke="#604c09" stroke-width="0.45"/>
<circle cx="428.6" cy="539.9" r="2.6" fill="#d87010" stroke="#814309" stroke-width="0.45"/>
<circle cx="432.5" cy="542.0" r="2.6" fill="#c86010" stroke="#783909" stroke-width="0.45"/>
<circle cx="421.2" cy="535.5" r="2.6" fill="#d8701a" stroke="#81430f" stroke-width="0.45"/>
<circle cx="436.7" cy="538.1" r="2.6" fill="#a08010" stroke="#604c09" stroke-width="0.45"/>
<circle cx="414.7" cy="537.9" r="2.6" fill="#d87010" stroke="#814309" stroke-width="0.45"/>
<circle cx="415.7" cy="535.9" r="2.6" fill="#c86010" stroke="#783909" stroke-width="0.45"/>
<circle cx="432.8" cy="539.6" r="2.6" fill="#d8701a" stroke="#81430f" stroke-width="0.45"/>
<circle cx="436.4" cy="535.5" r="2.6" fill="#a08010" stroke="#604c09" stroke-width="0.45"/>
<circle cx="438.5" cy="534.7" r="2.6" fill="#d87010" stroke="#814309" stroke-width="0.45"/>
<circle cx="418.7" cy="534.8" r="2.6" fill="#c86010" stroke="#783909" stroke-width="0.45"/>
<circle cx="431.9" cy="537.8" r="2.6" fill="#d8701a" stroke="#81430f" stroke-width="0.45"/>
<circle cx="397.0" cy="546.3" r="2.6" fill="#d8701a" stroke="#81430f" stroke-width="0.45"/>
<circle cx="393.8" cy="546.3" r="2.6" fill="#a06040" stroke="#603926" stroke-width="0.45"/>
<circle cx="413.0" cy="549.0" r="2.6" fill="#2020e0" stroke="#131386" stroke-width="0.45"/>
<circle cx="417.0" cy="548.7" r="2.6" fill="#2020e0" stroke="#131386" stroke-width="0.45"/>
<circle cx="421.0" cy="548.4" r="2.6" fill="#2020e0" stroke="#131386" stroke-width="0.45"/>
<circle cx="425.0" cy="548.0" r="2.6" fill="#2020e0" stroke="#131386" stroke-width="0.45"/>
<circle cx="429.0" cy="547.7" r="2.6" fill="#2020e0" stroke="#131386" stroke-width="0.45"/>
<circle cx="433.0" cy="547.4" r="2.6" fill="#2020e0" stroke="#131386" stroke-width="0.45"/>
<circle cx="437.0" cy="547.1" r="2.6" fill="#2020e0" stroke="#131386" stroke-width="0.45"/>
<circle cx="440.0" cy="546.8" r="2.6" fill="#2020e0" stroke="#131386" stroke-width="0.45"/>
<circle cx="439.0" cy="551.0" r="2.6" fill="#2020e0" stroke="#131386" stroke-width="0.45"/>
<circle cx="464.1" cy="552.3" r="2.8" fill="#a8c424" stroke="#647515" stroke-width="0.45"/>
<circle cx="476.4" cy="552.3" r="2.8" fill="#a8c424" stroke="#647515" stroke-width="0.45"/>
</g>
<g font-family="Liberation Sans, sans-serif">
<text x="337.5" y="260.4" font-size="8.8" fill="#a8402c" font-weight="normal" font-style="italic" text-anchor="start" >Lineage 2</text>
<text x="336" y="336.3" font-size="8.8" fill="#c83a28" font-weight="normal" font-style="italic" text-anchor="start" >Lineage 1</text>
<text x="464.5" y="293.5" font-size="6.5" fill="#d04030" font-weight="normal" font-style="italic" text-anchor="start" >(3)</text>
<text x="463" y="327.5" font-size="6.5" fill="#c05030" font-weight="normal" font-style="italic" text-anchor="start" >(2)</text>
<text x="433" y="342.5" font-size="6.5" fill="#c05030" font-weight="normal" font-style="italic" text-anchor="start" >(1)</text>
<text x="464.2" y="355.8" font-size="7.4" fill="#dccc28" font-weight="normal" font-style="italic" text-anchor="start" textLength="21.2" lengthAdjust="spacingAndGlyphs">Clade 5</text>
<text x="460.8" y="380.2" font-size="7.4" fill="#dccc28" font-weight="normal" font-style="italic" text-anchor="start" textLength="22" lengthAdjust="spacingAndGlyphs">Clade 4</text>
<text x="464.2" y="409" font-size="7.4" fill="#dccc28" font-weight="normal" font-style="italic" text-anchor="start" textLength="21.3" lengthAdjust="spacingAndGlyphs">Clade 3</text>
<text x="463" y="441" font-size="7.4" fill="#dccc28" font-weight="normal" font-style="italic" text-anchor="start" textLength="22" lengthAdjust="spacingAndGlyphs">Clade 2</text>
<text x="458.2" y="482" font-size="7.4" fill="#dccc28" font-weight="normal" font-style="italic" text-anchor="start" textLength="21.8" lengthAdjust="spacingAndGlyphs">Clade 1</text>
<text x="173.6" y="552" font-size="3.6" fill="#222" font-weight="normal" font-style="normal" text-anchor="middle" >100</text>
<text x="342.6" y="551" font-size="3.6" fill="#222" font-weight="normal" font-style="normal" text-anchor="middle" >100</text>
<text x="361.5" y="545" font-size="3.6" fill="#222" font-weight="normal" font-style="normal" text-anchor="middle" >100</text>
<text x="352" y="524.5" font-size="3.6" fill="#222" font-weight="normal" font-style="normal" text-anchor="middle" >87</text>
<text x="335.5" y="302" font-size="3.6" fill="#222" font-weight="normal" font-style="normal" text-anchor="middle" >100</text>
<text x="353" y="264" font-size="3.6" fill="#222" font-weight="normal" font-style="normal" text-anchor="middle" >99</text>
<text x="378" y="336" font-size="3.6" fill="#222" font-weight="normal" font-style="normal" text-anchor="middle" >99</text>
<text x="423" y="113" font-size="3.6" fill="#222" font-weight="normal" font-style="normal" text-anchor="middle" >100</text>
<text x="421" y="119" font-size="3.6" fill="#222" font-weight="normal" font-style="normal" text-anchor="middle" >100</text>
<text x="436" y="72" font-size="3.6" fill="#222" font-weight="normal" font-style="normal" text-anchor="middle" >100</text>
<text x="387.2" y="230.79999999999998" font-size="3.4" fill="#333" font-weight="normal" font-style="normal" text-anchor="middle" >98</text>
<text x="394.5" y="199.0" font-size="3.4" fill="#333" font-weight="normal" font-style="normal" text-anchor="middle" >97</text>
<text x="397.4" y="174.2" font-size="3.4" fill="#333" font-weight="normal" font-style="normal" text-anchor="middle" >97</text>
<text x="401" y="155.2" font-size="3.4" fill="#333" font-weight="normal" font-style="normal" text-anchor="middle" >100</text>
<text x="406" y="133.89999999999998" font-size="3.4" fill="#333" font-weight="normal" font-style="normal" text-anchor="middle" >100</text>
<text x="413.3" y="118.0" font-size="3.4" fill="#333" font-weight="normal" font-style="normal" text-anchor="middle" >99</text>
<text x="420.5" y="110.8" font-size="3.4" fill="#333" font-weight="normal" font-style="normal" text-anchor="middle" >100</text>
<text x="423.3" y="96.2" font-size="3.4" fill="#333" font-weight="normal" font-style="normal" text-anchor="middle" >97</text>
<text x="436" y="70.8" font-size="3.4" fill="#333" font-weight="normal" font-style="normal" text-anchor="middle" >97</text>
<text x="430" y="53.2" font-size="3.4" fill="#333" font-weight="normal" font-style="normal" text-anchor="middle" >98</text>
<text x="418" y="273.7" font-size="3.4" fill="#333" font-weight="normal" font-style="normal" text-anchor="middle" >97</text>
<text x="413.5" y="282.7" font-size="3.4" fill="#333" font-weight="normal" font-style="normal" text-anchor="middle" >97</text>
<text x="409" y="292.7" font-size="3.4" fill="#333" font-weight="normal" font-style="normal" text-anchor="middle" >99</text>
<text x="404.9" y="307.5" font-size="3.4" fill="#333" font-weight="normal" font-style="normal" text-anchor="middle" >100</text>
<text x="396" y="311.7" font-size="3.4" fill="#333" font-weight="normal" font-style="normal" text-anchor="middle" >100</text>
<text x="384.2" y="317.59999999999997" font-size="3.4" fill="#333" font-weight="normal" font-style="normal" text-anchor="middle" >97</text>
<text x="382" y="324.7" font-size="3.4" fill="#333" font-weight="normal" font-style="normal" text-anchor="middle" >98</text>
<text x="433.5" y="343.2" font-size="3.4" fill="#333" font-weight="normal" font-style="normal" text-anchor="middle" >97</text>
<text x="429.5" y="365.2" font-size="3.4" fill="#333" font-weight="normal" font-style="normal" text-anchor="middle" >100</text>
<text x="428" y="419.2" font-size="3.4" fill="#333" font-weight="normal" font-style="normal" text-anchor="middle" >99</text>
<text x="424" y="444.2" font-size="3.4" fill="#333" font-weight="normal" font-style="normal" text-anchor="middle" >98</text>
<text x="421.5" y="455.2" font-size="3.4" fill="#333" font-weight="normal" font-style="normal" text-anchor="middle" >99</text>
<text x="413" y="469.2" font-size="3.4" fill="#333" font-weight="normal" font-style="normal" text-anchor="middle" >100</text>
<text x="408" y="483.2" font-size="3.4" fill="#333" font-weight="normal" font-style="normal" text-anchor="middle" >98</text>
<text x="404.5" y="504.8" font-size="3.4" fill="#333" font-weight="normal" font-style="normal" text-anchor="middle" >97</text>
<text x="397" y="511.2" font-size="3.4" fill="#333" font-weight="normal" font-style="normal" text-anchor="middle" >98</text>
<text x="389" y="518.2" font-size="3.4" fill="#333" font-weight="normal" font-style="normal" text-anchor="middle" >100</text>
<text x="421.7" y="154.7" font-size="3.4" fill="#333" font-weight="normal" font-style="normal" text-anchor="middle" >100</text>
<text x="412.8" y="176.2" font-size="3.4" fill="#333" font-weight="normal" font-style="normal" text-anchor="middle" >97</text>
<text x="399.5" y="239.2" font-size="3.4" fill="#333" font-weight="normal" font-style="normal" text-anchor="middle" >100</text>
<text x="412" y="238.2" font-size="3.4" fill="#333" font-weight="normal" font-style="normal" text-anchor="middle" >99</text>
<line x1="35.0" y1="576.8" x2="253.0" y2="576.8" stroke="#333" stroke-width="0.9"/>
<line x1="35.0" y1="574.8" x2="35.0" y2="578.8" stroke="#333" stroke-width="0.9"/>
<line x1="253.0" y1="574.8" x2="253.0" y2="578.8" stroke="#333" stroke-width="0.9"/>
<text x="144.2" y="575" font-size="7.8" fill="#111" font-weight="normal" font-style="normal" text-anchor="middle" >0.050</text>
</g>
<g shape-rendering="crispEdges">
<rect x="518.2" y="29.0" width="22.6" height="3.0" fill="#a07890" />
<rect x="518.2" y="32.0" width="22.6" height="15.1" fill="#ff5a8c" />
<rect x="518.2" y="47.0" width="22.6" height="3.5" fill="#c0106a" />
<rect x="518.2" y="50.5" width="22.6" height="2.5" fill="#ff5a8c" />
<rect x="518.2" y="53.0" width="22.6" height="1.1" fill="#f04880" />
<rect x="518.2" y="54.0" width="22.6" height="3.8" fill="#ff5a8c" />
<rect x="518.2" y="57.7" width="22.6" height="3.0" fill="#ffc0e8" />
<rect x="518.2" y="60.7" width="22.6" height="5.1" fill="#b01070" />
<rect x="518.2" y="65.8" width="22.6" height="4.3" fill="#ff5a8c" />
<rect x="518.2" y="70.0" width="22.6" height="1.1" fill="#f04a80" />
<rect x="518.2" y="71.0" width="22.6" height="5.0" fill="#ff5a8c" />
<rect x="518.2" y="76.0" width="22.6" height="1.1" fill="#f04a80" />
<rect x="518.2" y="77.0" width="22.6" height="4.6" fill="#ff5a8c" />
<rect x="518.2" y="81.6" width="22.6" height="3.0" fill="#c0106a" />
<rect x="518.2" y="84.6" width="22.6" height="6.7" fill="#ff5a8c" />
<rect x="518.2" y="91.2" width="22.6" height="3.6" fill="#d03070" />
<rect x="518.2" y="94.8" width="22.6" height="11.3" fill="#ff5a8c" />
<rect x="518.2" y="106.0" width="22.6" height="4.6" fill="#e0608a" />
<rect x="518.2" y="110.6" width="22.6" height="2.2" fill="#ffa0c8" />
<rect x="518.2" y="112.7" width="22.6" height="5.1" fill="#ff80b0" />
<rect x="518.2" y="117.8" width="22.6" height="2.3" fill="#c05080" />
<rect x="518.2" y="120.0" width="22.6" height="4.0" fill="#ff80b8" />
<rect x="518.2" y="123.9" width="22.6" height="2.1" fill="#a02060" />
<rect x="518.2" y="126.0" width="22.6" height="2.0" fill="#ff6090" />
<rect x="518.2" y="128.0" width="22.6" height="6.6" fill="#d0d0e0" />
<rect x="518.2" y="134.6" width="22.6" height="1.0" fill="#f0f0f0" />
<rect x="518.2" y="135.5" width="22.6" height="0.6" fill="#606010" />
<rect x="518.2" y="136.0" width="22.6" height="4.0" fill="#60c818" />
<rect x="518.2" y="140.0" width="22.6" height="0.6" fill="#309010" />
<rect x="518.2" y="140.6" width="22.6" height="3.6" fill="#60c818" />
<rect x="518.2" y="144.2" width="22.6" height="1.6" fill="#e07020" />
<rect x="518.2" y="145.7" width="22.6" height="5.2" fill="#d07090" />
<rect x="518.2" y="150.8" width="22.6" height="3.1" fill="#c01070" />
<rect x="518.2" y="153.9" width="22.6" height="1.1" fill="#fff0f8" />
<rect x="518.2" y="154.9" width="22.6" height="4.1" fill="#d02080" />
<rect x="518.2" y="159.0" width="22.6" height="8.1" fill="#ffd0f0" />
<rect x="518.2" y="167.0" width="22.6" height="4.2" fill="#c0a0b0" />
<rect x="518.2" y="171.2" width="22.6" height="2.7" fill="#706020" />
<rect x="518.2" y="173.8" width="22.6" height="5.1" fill="#d0b8c0" />
<rect x="518.2" y="178.9" width="22.6" height="2.5" fill="#b0a070" />
<rect x="518.2" y="181.4" width="22.6" height="2.1" fill="#605020" />
<rect x="518.2" y="183.5" width="22.6" height="2.5" fill="#c0b8c8" />
<rect x="518.2" y="186.0" width="22.6" height="1.6" fill="#f8f0f8" />
<rect x="518.2" y="187.6" width="22.6" height="3.0" fill="#707020" />
<rect x="518.2" y="190.6" width="22.6" height="1.0" fill="#a0a040" />
<rect x="518.2" y="191.5" width="22.6" height="8.7" fill="#ffc8f0" />
<rect x="518.2" y="200.2" width="22.6" height="0.6" fill="#f0fffe" />
<rect x="518.2" y="200.7" width="22.6" height="11.8" fill="#108810" />
<rect x="518.2" y="212.4" width="22.6" height="1.6" fill="#d0f8f0" />
<rect x="518.2" y="214.0" width="22.6" height="2.5" fill="#106010" />
<rect x="518.2" y="216.5" width="22.6" height="5.5" fill="#30a030" />
<rect x="518.2" y="222.0" width="22.6" height="1.6" fill="#106010" />
<rect x="518.2" y="223.5" width="22.6" height="1.6" fill="#fff0f8" />
<rect x="518.2" y="225.0" width="22.6" height="1.2" fill="#ff80c0" />
<rect x="518.2" y="226.2" width="22.6" height="6.8" fill="#e06890" />
<rect x="518.2" y="232.9" width="22.6" height="4.5" fill="#ffb8e8" />
<rect x="518.2" y="237.4" width="22.6" height="2.6" fill="#d07090" />
<rect x="518.2" y="240.0" width="22.6" height="2.5" fill="#a08890" />
<rect x="518.2" y="242.5" width="22.6" height="1.6" fill="#f0e0e8" />
<rect x="518.2" y="244.0" width="22.6" height="1.6" fill="#604020" />
<rect x="518.2" y="245.5" width="22.6" height="2.5" fill="#b09060" />
<rect x="518.2" y="248.0" width="22.6" height="0.6" fill="#d0f0c0" />
<rect x="518.2" y="248.6" width="22.6" height="6.1" fill="#80a040" />
<rect x="518.2" y="254.7" width="22.6" height="1.1" fill="#7090a0" />
<rect x="518.2" y="255.7" width="22.6" height="6.2" fill="#e0b8d0" />
<rect x="518.2" y="261.8" width="22.6" height="2.1" fill="#705060" />
<rect x="518.2" y="263.9" width="22.6" height="4.7" fill="#e07090" />
<rect x="518.2" y="268.5" width="22.6" height="1.6" fill="#ffc0e0" />
<rect x="518.2" y="270.0" width="22.6" height="4.7" fill="#ff5090" />
<rect x="518.2" y="274.6" width="22.6" height="1.9" fill="#a01060" />
<rect x="518.2" y="276.5" width="22.6" height="2.5" fill="#ff5090" />
<rect x="518.2" y="279.0" width="22.6" height="1.7" fill="#ffd0e8" />
<rect x="518.2" y="280.7" width="22.6" height="4.7" fill="#d0a0b8" />
<rect x="518.2" y="285.3" width="22.6" height="2.6" fill="#706010" />
<rect x="518.2" y="287.9" width="22.6" height="2.7" fill="#f8d0f0" />
<rect x="518.2" y="290.5" width="22.6" height="3.0" fill="#c090a0" />
<rect x="518.2" y="293.5" width="22.6" height="1.6" fill="#705060" />
<rect x="518.2" y="295.0" width="22.6" height="2.0" fill="#a0b060" />
<rect x="518.2" y="297.0" width="22.6" height="1.7" fill="#ffffff" />
<rect x="518.2" y="298.6" width="22.6" height="4.4" fill="#dcdcf4" />
<rect x="518.2" y="303.0" width="22.6" height="2.0" fill="#508030" />
<rect x="518.2" y="305.0" width="22.6" height="3.0" fill="#d8f0f0" />
<rect x="518.2" y="308.0" width="22.6" height="3.0" fill="#70b040" />
<rect x="518.2" y="311.0" width="22.6" height="2.0" fill="#205010" />
<rect x="518.2" y="313.0" width="22.6" height="2.0" fill="#b0d080" />
<rect x="518.2" y="315.0" width="22.6" height="2.0" fill="#a0c060" />
<rect x="518.2" y="317.0" width="22.6" height="2.9" fill="#7890a0" />
<rect x="518.2" y="319.9" width="22.6" height="7.2" fill="#f06898" />
<rect x="518.2" y="327.0" width="22.6" height="1.1" fill="#ffd0e0" />
<rect x="518.2" y="328.0" width="22.6" height="4.7" fill="#d05070" />
<rect x="518.2" y="332.7" width="22.6" height="1.9" fill="#ff90e8" />
<rect x="518.2" y="334.5" width="22.6" height="1.7" fill="#602040" />
<rect x="518.2" y="336.2" width="22.6" height="4.2" fill="#80a040" />
<rect x="518.2" y="340.3" width="22.6" height="2.7" fill="#a0a0b8" />
<rect x="518.2" y="343.0" width="22.6" height="0.9" fill="#607090" />
<rect x="518.2" y="343.9" width="22.6" height="7.7" fill="#ff5088" />
<rect x="518.2" y="351.5" width="22.6" height="1.2" fill="#fff0f8" />
<rect x="518.2" y="352.6" width="22.6" height="4.0" fill="#ffd0f0" />
<rect x="518.2" y="356.6" width="22.6" height="2.4" fill="#f0b8e0" />
<rect x="518.2" y="359.0" width="22.6" height="1.1" fill="#f8f0f8" />
<rect x="518.2" y="360.0" width="22.6" height="3.0" fill="#608040" />
<rect x="518.2" y="363.0" width="22.6" height="2.0" fill="#d0d8d0" />
<rect x="518.2" y="365.0" width="22.6" height="2.0" fill="#d8eef0" />
<rect x="518.2" y="367.0" width="22.6" height="3.0" fill="#108010" />
<rect x="518.2" y="370.0" width="22.6" height="1.6" fill="#80d070" />
<rect x="518.2" y="371.5" width="22.6" height="2.5" fill="#30a020" />
<rect x="518.2" y="374.0" width="22.6" height="2.0" fill="#80d070" />
<rect x="518.2" y="376.0" width="22.6" height="2.0" fill="#706010" />
<rect x="518.2" y="378.0" width="22.6" height="2.5" fill="#a0a010" />
<rect x="518.2" y="380.5" width="22.6" height="3.5" fill="#a0a0a0" />
<rect x="518.2" y="384.0" width="22.6" height="3.0" fill="#ff5090" />
<rect x="518.2" y="387.0" width="22.6" height="1.6" fill="#d01870" />
<rect x="518.2" y="388.5" width="22.6" height="3.5" fill="#ff5090" />
<rect x="518.2" y="392.0" width="22.6" height="1.1" fill="#a0a0a0" />
<rect x="518.2" y="393.0" width="22.6" height="4.5" fill="#f0d0f0" />
<rect x="518.2" y="397.5" width="22.6" height="1.6" fill="#806020" />
<rect x="518.2" y="399.0" width="22.6" height="3.5" fill="#508030" />
<rect x="518.2" y="402.5" width="22.6" height="1.6" fill="#c0c8d0" />
<rect x="518.2" y="404.0" width="22.6" height="2.0" fill="#d0f0f0" />
<rect x="518.2" y="406.0" width="22.6" height="2.0" fill="#70a030" />
<rect x="518.2" y="408.0" width="22.6" height="3.0" fill="#80b030" />
<rect x="518.2" y="411.0" width="22.6" height="1.1" fill="#c0e080" />
<rect x="518.2" y="412.0" width="22.6" height="1.1" fill="#306020" />
<rect x="518.2" y="413.0" width="22.6" height="2.0" fill="#c0e8a0" />
<rect x="518.2" y="415.0" width="22.6" height="3.0" fill="#a0b020" />
<rect x="518.2" y="418.0" width="22.6" height="1.1" fill="#f0f0e0" />
<rect x="518.2" y="419.0" width="22.6" height="4.5" fill="#e0d8f8" />
<rect x="518.2" y="423.5" width="22.6" height="0.9" fill="#406040" />
<rect x="518.2" y="424.3" width="22.6" height="3.6" fill="#a0e0b0" />
<rect x="518.2" y="427.9" width="22.6" height="4.2" fill="#207a10" />
<rect x="518.2" y="432.0" width="22.6" height="1.1" fill="#40a030" />
<rect x="518.2" y="433.0" width="22.6" height="2.5" fill="#50c050" />
<rect x="518.2" y="435.5" width="22.6" height="7.5" fill="#10901a" />
<rect x="518.2" y="443.0" width="22.6" height="2.0" fill="#a0d080" />
<rect x="518.2" y="445.0" width="22.6" height="1.2" fill="#306020" />
<rect x="518.2" y="446.2" width="22.6" height="3.2" fill="#c8f0f8" />
<rect x="518.2" y="449.3" width="22.6" height="2.2" fill="#a0b8a0" />
<rect x="518.2" y="451.5" width="22.6" height="2.0" fill="#6a8a10" />
<rect x="518.2" y="453.5" width="22.6" height="1.6" fill="#a0c060" />
<rect x="518.2" y="455.0" width="22.6" height="2.0" fill="#209030" />
<rect x="518.2" y="457.0" width="22.6" height="3.5" fill="#109010" />
<rect x="518.2" y="460.5" width="22.6" height="3.5" fill="#30b010" />
<rect x="518.2" y="464.0" width="22.6" height="2.0" fill="#70c010" />
<rect x="518.2" y="466.0" width="22.6" height="3.0" fill="#50b010" />
<rect x="518.2" y="469.0" width="22.6" height="1.6" fill="#205050" />
<rect x="518.2" y="470.5" width="22.6" height="1.6" fill="#4080a0" />
<rect x="518.2" y="472.0" width="22.6" height="5.2" fill="#50b020" />
<rect x="518.2" y="477.2" width="22.6" height="5.2" fill="#3070f0" />
<rect x="518.2" y="482.3" width="22.6" height="1.2" fill="#203060" />
<rect x="518.2" y="483.5" width="22.6" height="2.9" fill="#5080c0" />
<rect x="518.2" y="486.4" width="22.6" height="4.7" fill="#80b0f0" />
<rect x="518.2" y="491.0" width="22.6" height="2.5" fill="#3060e0" />
<rect x="518.2" y="493.5" width="22.6" height="2.0" fill="#309020" />
<rect x="518.2" y="495.5" width="22.6" height="2.5" fill="#a0a010" />
<rect x="518.2" y="498.0" width="22.6" height="2.0" fill="#909090" />
<rect x="518.2" y="500.0" width="22.6" height="2.0" fill="#c0b0f0" />
<rect x="518.2" y="502.0" width="22.6" height="1.6" fill="#6050c0" />
<rect x="518.2" y="503.5" width="22.6" height="2.9" fill="#40a040" />
<rect x="518.2" y="506.3" width="22.6" height="6.1" fill="#3060f0" />
<rect x="518.2" y="512.4" width="22.6" height="2.2" fill="#a0a8f0" />
<rect x="518.2" y="514.5" width="22.6" height="3.0" fill="#7090c0" />
<rect x="518.2" y="517.5" width="22.6" height="9.1" fill="#8c9c9c" />
<rect x="518.2" y="526.5" width="22.6" height="1.6" fill="#6070a0" />
<rect x="518.2" y="528.0" width="22.6" height="3.0" fill="#40a040" />
<rect x="518.2" y="531.0" width="22.6" height="3.0" fill="#60b040" />
<rect x="518.2" y="534.0" width="22.6" height="3.0" fill="#50c020" />
<rect x="518.2" y="537.0" width="22.6" height="3.0" fill="#40b030" />
<rect x="518.2" y="540.0" width="22.6" height="2.0" fill="#50d020" />
<rect x="518.2" y="542.0" width="22.6" height="1.1" fill="#206010" />
<rect x="518.2" y="543.0" width="22.6" height="3.0" fill="#909898" />
<rect x="518.2" y="546.0" width="22.6" height="3.0" fill="#a0a8a0" />
<rect x="518.2" y="549.0" width="22.6" height="3.3" fill="#909090" />
<rect x="518.2" y="552.3" width="22.6" height="1.3" fill="#606060" />
</g>
<rect x="536.0" y="29.0" width="4.8" height="524.5" fill="#705070" opacity="0.3"/>
<rect x="518.2" y="29.0" width="1.6" height="524.5" fill="#404040" opacity="0.10"/>
<g shape-rendering="crispEdges">
<rect x="488.3" y="29.0" width="15.7" height="2.9" fill="#7a3a10" />
<rect x="504.0" y="29.0" width="5.1" height="2.9" fill="#6a3a10" />
<rect x="488.3" y="31.8" width="15.7" height="303.9" fill="#ff0000" />
<rect x="504.0" y="31.8" width="5.1" height="303.9" fill="#c82810" />
<rect x="488.3" y="335.6" width="15.7" height="6.2" fill="#d81010" />
<rect x="504.0" y="335.6" width="5.1" height="6.2" fill="#b82010" />
<rect x="488.3" y="341.8" width="15.7" height="1.2" fill="#ff6000" />
<rect x="504.0" y="341.8" width="5.1" height="1.2" fill="#e06000" />
<rect x="488.3" y="343.0" width="15.7" height="177.1" fill="#ffc800" />
<rect x="504.0" y="343.0" width="5.1" height="177.1" fill="#e0d000" />
<rect x="488.3" y="520.0" width="15.7" height="5.8" fill="#e8c800" />
<rect x="504.0" y="520.0" width="5.1" height="5.8" fill="#d8c800" />
<rect x="488.3" y="525.8" width="15.7" height="4.3" fill="#4010f0" />
<rect x="504.0" y="525.8" width="5.1" height="4.3" fill="#4010e0" />
<rect x="488.3" y="530.0" width="15.7" height="5.0" fill="#7014f0" />
<rect x="504.0" y="530.0" width="5.1" height="5.0" fill="#7014e0" />
<rect x="488.3" y="535.0" width="15.7" height="9.3" fill="#9010f0" />
<rect x="504.0" y="535.0" width="5.1" height="9.3" fill="#8a10e0" />
<rect x="488.3" y="544.3" width="15.7" height="2.5" fill="#1060e0" />
<rect x="504.0" y="544.3" width="5.1" height="2.5" fill="#1060d0" />
<rect x="488.3" y="546.8" width="15.7" height="5.8" fill="#50a020" />
<rect x="504.0" y="546.8" width="5.1" height="5.8" fill="#489820" />
<rect x="488.3" y="552.5" width="15.7" height="1.1" fill="#706060" />
<rect x="504.0" y="552.5" width="5.1" height="1.1" fill="#706060" />
</g>
<g font-family="Liberation Sans, sans-serif" font-weight="bold">
<text x="0" y="0" font-size="8.4" fill="#2a0010" transform="translate(499.8,28.6) rotate(-38)">Genotype</text>
<text x="0" y="0" font-size="8.4" fill="#141414" transform="translate(532.6,25.6) rotate(-38)">Year</text>
</g>
</svg>
</body></html>
